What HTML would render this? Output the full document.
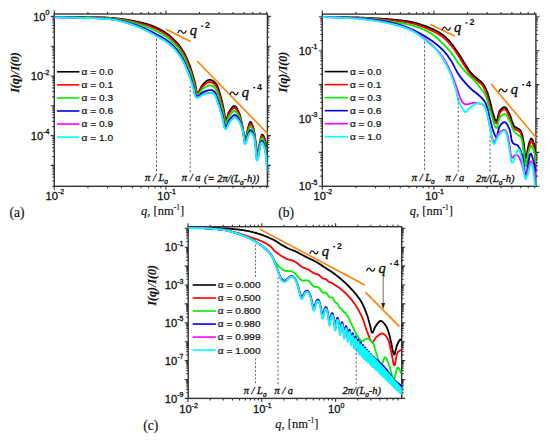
<!DOCTYPE html>
<html><head><meta charset="utf-8"><style>
html,body{margin:0;padding:0;background:#fff;}
svg{display:block;}
.s{font-family:'Liberation Sans',sans-serif;}
.r{font-family:'Liberation Serif',serif;fill:#111;stroke:#111;stroke-width:0.15px;}
.qq{stroke-width:0.4px}
.lg{stroke:#111;stroke-width:0.22px;fill:#111}
.tl{stroke:#111;stroke-width:0.3px}
</style></head><body>
<svg width="550" height="441" viewBox="0 0 550 441">
<rect width="550" height="441" fill="#fff"/>
<rect x="54.30" y="14.00" width="213.10" height="172.30" fill="none" stroke="#333" stroke-width="1.4"/>
<path d="M54.30,186.30v3.5 M54.30,14.00v-3.5 M87.89,186.30v2.0 M87.89,14.00v-2.0 M107.55,186.30v2.0 M107.55,14.00v-2.0 M121.49,186.30v2.0 M121.49,14.00v-2.0 M132.31,186.30v2.0 M132.31,14.00v-2.0 M141.14,186.30v2.0 M141.14,14.00v-2.0 M148.61,186.30v2.0 M148.61,14.00v-2.0 M155.08,186.30v2.0 M155.08,14.00v-2.0 M160.79,186.30v2.0 M160.79,14.00v-2.0 M165.90,186.30v3.5 M165.90,14.00v-3.5 M199.49,186.30v2.0 M199.49,14.00v-2.0 M219.15,186.30v2.0 M219.15,14.00v-2.0 M233.09,186.30v2.0 M233.09,14.00v-2.0 M243.91,186.30v2.0 M243.91,14.00v-2.0 M252.74,186.30v2.0 M252.74,14.00v-2.0 M260.21,186.30v2.0 M260.21,14.00v-2.0 M266.68,186.30v2.0 M266.68,14.00v-2.0 M54.30,186.23h-2.0 M267.40,186.23h2.0 M54.30,180.98h-2.0 M267.40,180.98h2.0 M54.30,177.26h-2.0 M267.40,177.26h2.0 M54.30,174.37h-2.0 M267.40,174.37h2.0 M54.30,172.01h-2.0 M267.40,172.01h2.0 M54.30,170.02h-2.0 M267.40,170.02h2.0 M54.30,168.29h-2.0 M267.40,168.29h2.0 M54.30,166.76h-2.0 M267.40,166.76h2.0 M54.30,165.40h-3.5 M267.40,165.40h3.5 M54.30,156.43h-2.0 M267.40,156.43h2.0 M54.30,151.18h-2.0 M267.40,151.18h2.0 M54.30,147.46h-2.0 M267.40,147.46h2.0 M54.30,144.57h-2.0 M267.40,144.57h2.0 M54.30,142.21h-2.0 M267.40,142.21h2.0 M54.30,140.22h-2.0 M267.40,140.22h2.0 M54.30,138.49h-2.0 M267.40,138.49h2.0 M54.30,136.96h-2.0 M267.40,136.96h2.0 M54.30,135.60h-3.5 M267.40,135.60h3.5 M54.30,126.63h-2.0 M267.40,126.63h2.0 M54.30,121.38h-2.0 M267.40,121.38h2.0 M54.30,117.66h-2.0 M267.40,117.66h2.0 M54.30,114.77h-2.0 M267.40,114.77h2.0 M54.30,112.41h-2.0 M267.40,112.41h2.0 M54.30,110.42h-2.0 M267.40,110.42h2.0 M54.30,108.69h-2.0 M267.40,108.69h2.0 M54.30,107.16h-2.0 M267.40,107.16h2.0 M54.30,105.80h-3.5 M267.40,105.80h3.5 M54.30,96.83h-2.0 M267.40,96.83h2.0 M54.30,91.58h-2.0 M267.40,91.58h2.0 M54.30,87.86h-2.0 M267.40,87.86h2.0 M54.30,84.97h-2.0 M267.40,84.97h2.0 M54.30,82.61h-2.0 M267.40,82.61h2.0 M54.30,80.62h-2.0 M267.40,80.62h2.0 M54.30,78.89h-2.0 M267.40,78.89h2.0 M54.30,77.36h-2.0 M267.40,77.36h2.0 M54.30,76.00h-3.5 M267.40,76.00h3.5 M54.30,67.03h-2.0 M267.40,67.03h2.0 M54.30,61.78h-2.0 M267.40,61.78h2.0 M54.30,58.06h-2.0 M267.40,58.06h2.0 M54.30,55.17h-2.0 M267.40,55.17h2.0 M54.30,52.81h-2.0 M267.40,52.81h2.0 M54.30,50.82h-2.0 M267.40,50.82h2.0 M54.30,49.09h-2.0 M267.40,49.09h2.0 M54.30,47.56h-2.0 M267.40,47.56h2.0 M54.30,46.20h-3.5 M267.40,46.20h3.5 M54.30,37.23h-2.0 M267.40,37.23h2.0 M54.30,31.98h-2.0 M267.40,31.98h2.0 M54.30,28.26h-2.0 M267.40,28.26h2.0 M54.30,25.37h-2.0 M267.40,25.37h2.0 M54.30,23.01h-2.0 M267.40,23.01h2.0 M54.30,21.02h-2.0 M267.40,21.02h2.0 M54.30,19.29h-2.0 M267.40,19.29h2.0 M54.30,17.76h-2.0 M267.40,17.76h2.0 M54.30,16.40h-3.5 M267.40,16.40h3.5" stroke="#333" stroke-width="1.1" fill="none"/>
<rect x="322.30" y="14.10" width="213.60" height="172.20" fill="none" stroke="#333" stroke-width="1.4"/>
<path d="M322.30,186.30v3.5 M322.30,14.10v-3.5 M355.89,186.30v2.0 M355.89,14.10v-2.0 M375.55,186.30v2.0 M375.55,14.10v-2.0 M389.49,186.30v2.0 M389.49,14.10v-2.0 M400.31,186.30v2.0 M400.31,14.10v-2.0 M409.14,186.30v2.0 M409.14,14.10v-2.0 M416.61,186.30v2.0 M416.61,14.10v-2.0 M423.08,186.30v2.0 M423.08,14.10v-2.0 M428.79,186.30v2.0 M428.79,14.10v-2.0 M433.90,186.30v3.5 M433.90,14.10v-3.5 M467.49,186.30v2.0 M467.49,14.10v-2.0 M487.15,186.30v2.0 M487.15,14.10v-2.0 M501.09,186.30v2.0 M501.09,14.10v-2.0 M511.91,186.30v2.0 M511.91,14.10v-2.0 M520.74,186.30v2.0 M520.74,14.10v-2.0 M528.21,186.30v2.0 M528.21,14.10v-2.0 M534.68,186.30v2.0 M534.68,14.10v-2.0 M322.30,186.30h-3.5 M535.90,186.30h3.5 M322.30,176.10h-2.0 M535.90,176.10h2.0 M322.30,170.13h-2.0 M535.90,170.13h2.0 M322.30,165.89h-2.0 M535.90,165.89h2.0 M322.30,162.60h-2.0 M535.90,162.60h2.0 M322.30,159.92h-2.0 M535.90,159.92h2.0 M322.30,157.65h-2.0 M535.90,157.65h2.0 M322.30,155.69h-2.0 M535.90,155.69h2.0 M322.30,153.95h-2.0 M535.90,153.95h2.0 M322.30,152.40h-3.5 M535.90,152.40h3.5 M322.30,142.20h-2.0 M535.90,142.20h2.0 M322.30,136.23h-2.0 M535.90,136.23h2.0 M322.30,131.99h-2.0 M535.90,131.99h2.0 M322.30,128.70h-2.0 M535.90,128.70h2.0 M322.30,126.02h-2.0 M535.90,126.02h2.0 M322.30,123.75h-2.0 M535.90,123.75h2.0 M322.30,121.79h-2.0 M535.90,121.79h2.0 M322.30,120.05h-2.0 M535.90,120.05h2.0 M322.30,118.50h-3.5 M535.90,118.50h3.5 M322.30,108.30h-2.0 M535.90,108.30h2.0 M322.30,102.33h-2.0 M535.90,102.33h2.0 M322.30,98.09h-2.0 M535.90,98.09h2.0 M322.30,94.80h-2.0 M535.90,94.80h2.0 M322.30,92.12h-2.0 M535.90,92.12h2.0 M322.30,89.85h-2.0 M535.90,89.85h2.0 M322.30,87.89h-2.0 M535.90,87.89h2.0 M322.30,86.15h-2.0 M535.90,86.15h2.0 M322.30,84.60h-3.5 M535.90,84.60h3.5 M322.30,74.40h-2.0 M535.90,74.40h2.0 M322.30,68.43h-2.0 M535.90,68.43h2.0 M322.30,64.19h-2.0 M535.90,64.19h2.0 M322.30,60.90h-2.0 M535.90,60.90h2.0 M322.30,58.22h-2.0 M535.90,58.22h2.0 M322.30,55.95h-2.0 M535.90,55.95h2.0 M322.30,53.99h-2.0 M535.90,53.99h2.0 M322.30,52.25h-2.0 M535.90,52.25h2.0 M322.30,50.70h-3.5 M535.90,50.70h3.5 M322.30,40.50h-2.0 M535.90,40.50h2.0 M322.30,34.53h-2.0 M535.90,34.53h2.0 M322.30,30.29h-2.0 M535.90,30.29h2.0 M322.30,27.00h-2.0 M535.90,27.00h2.0 M322.30,24.32h-2.0 M535.90,24.32h2.0 M322.30,22.05h-2.0 M535.90,22.05h2.0 M322.30,20.09h-2.0 M535.90,20.09h2.0 M322.30,18.35h-2.0 M535.90,18.35h2.0 M322.30,16.80h-3.5 M535.90,16.80h3.5" stroke="#333" stroke-width="1.1" fill="none"/>
<rect x="188.20" y="226.70" width="213.50" height="171.70" fill="none" stroke="#333" stroke-width="1.4"/>
<path d="M188.00,398.40v3.5 M188.00,226.70v-3.5 M210.22,398.40v2.0 M210.22,226.70v-2.0 M223.21,398.40v2.0 M223.21,226.70v-2.0 M232.43,398.40v2.0 M232.43,226.70v-2.0 M239.58,398.40v2.0 M239.58,226.70v-2.0 M245.43,398.40v2.0 M245.43,226.70v-2.0 M250.37,398.40v2.0 M250.37,226.70v-2.0 M254.65,398.40v2.0 M254.65,226.70v-2.0 M258.42,398.40v2.0 M258.42,226.70v-2.0 M261.80,398.40v3.5 M261.80,226.70v-3.5 M284.02,398.40v2.0 M284.02,226.70v-2.0 M297.01,398.40v2.0 M297.01,226.70v-2.0 M306.23,398.40v2.0 M306.23,226.70v-2.0 M313.38,398.40v2.0 M313.38,226.70v-2.0 M319.23,398.40v2.0 M319.23,226.70v-2.0 M324.17,398.40v2.0 M324.17,226.70v-2.0 M328.45,398.40v2.0 M328.45,226.70v-2.0 M332.22,398.40v2.0 M332.22,226.70v-2.0 M335.60,398.40v3.5 M335.60,226.70v-3.5 M357.82,398.40v2.0 M357.82,226.70v-2.0 M370.81,398.40v2.0 M370.81,226.70v-2.0 M380.03,398.40v2.0 M380.03,226.70v-2.0 M387.18,398.40v2.0 M387.18,226.70v-2.0 M393.03,398.40v2.0 M393.03,226.70v-2.0 M397.97,398.40v2.0 M397.97,226.70v-2.0 M188.20,398.40h-3.5 M401.70,398.40h3.5 M188.20,392.71h-2.0 M401.70,392.71h2.0 M188.20,389.38h-2.0 M401.70,389.38h2.0 M188.20,387.02h-2.0 M401.70,387.02h2.0 M188.20,385.19h-2.0 M401.70,385.19h2.0 M188.20,383.69h-2.0 M401.70,383.69h2.0 M188.20,382.43h-2.0 M401.70,382.43h2.0 M188.20,381.33h-2.0 M401.70,381.33h2.0 M188.20,380.36h-2.0 M401.70,380.36h2.0 M188.20,379.50h-3.5 M401.70,379.50h3.5 M188.20,373.81h-2.0 M401.70,373.81h2.0 M188.20,370.48h-2.0 M401.70,370.48h2.0 M188.20,368.12h-2.0 M401.70,368.12h2.0 M188.20,366.29h-2.0 M401.70,366.29h2.0 M188.20,364.79h-2.0 M401.70,364.79h2.0 M188.20,363.53h-2.0 M401.70,363.53h2.0 M188.20,362.43h-2.0 M401.70,362.43h2.0 M188.20,361.46h-2.0 M401.70,361.46h2.0 M188.20,360.60h-3.5 M401.70,360.60h3.5 M188.20,354.91h-2.0 M401.70,354.91h2.0 M188.20,351.58h-2.0 M401.70,351.58h2.0 M188.20,349.22h-2.0 M401.70,349.22h2.0 M188.20,347.39h-2.0 M401.70,347.39h2.0 M188.20,345.89h-2.0 M401.70,345.89h2.0 M188.20,344.63h-2.0 M401.70,344.63h2.0 M188.20,343.53h-2.0 M401.70,343.53h2.0 M188.20,342.56h-2.0 M401.70,342.56h2.0 M188.20,341.70h-3.5 M401.70,341.70h3.5 M188.20,336.01h-2.0 M401.70,336.01h2.0 M188.20,332.68h-2.0 M401.70,332.68h2.0 M188.20,330.32h-2.0 M401.70,330.32h2.0 M188.20,328.49h-2.0 M401.70,328.49h2.0 M188.20,326.99h-2.0 M401.70,326.99h2.0 M188.20,325.73h-2.0 M401.70,325.73h2.0 M188.20,324.63h-2.0 M401.70,324.63h2.0 M188.20,323.66h-2.0 M401.70,323.66h2.0 M188.20,322.80h-3.5 M401.70,322.80h3.5 M188.20,317.11h-2.0 M401.70,317.11h2.0 M188.20,313.78h-2.0 M401.70,313.78h2.0 M188.20,311.42h-2.0 M401.70,311.42h2.0 M188.20,309.59h-2.0 M401.70,309.59h2.0 M188.20,308.09h-2.0 M401.70,308.09h2.0 M188.20,306.83h-2.0 M401.70,306.83h2.0 M188.20,305.73h-2.0 M401.70,305.73h2.0 M188.20,304.76h-2.0 M401.70,304.76h2.0 M188.20,303.90h-3.5 M401.70,303.90h3.5 M188.20,298.21h-2.0 M401.70,298.21h2.0 M188.20,294.88h-2.0 M401.70,294.88h2.0 M188.20,292.52h-2.0 M401.70,292.52h2.0 M188.20,290.69h-2.0 M401.70,290.69h2.0 M188.20,289.19h-2.0 M401.70,289.19h2.0 M188.20,287.93h-2.0 M401.70,287.93h2.0 M188.20,286.83h-2.0 M401.70,286.83h2.0 M188.20,285.86h-2.0 M401.70,285.86h2.0 M188.20,285.00h-3.5 M401.70,285.00h3.5 M188.20,279.31h-2.0 M401.70,279.31h2.0 M188.20,275.98h-2.0 M401.70,275.98h2.0 M188.20,273.62h-2.0 M401.70,273.62h2.0 M188.20,271.79h-2.0 M401.70,271.79h2.0 M188.20,270.29h-2.0 M401.70,270.29h2.0 M188.20,269.03h-2.0 M401.70,269.03h2.0 M188.20,267.93h-2.0 M401.70,267.93h2.0 M188.20,266.96h-2.0 M401.70,266.96h2.0 M188.20,266.10h-3.5 M401.70,266.10h3.5 M188.20,260.41h-2.0 M401.70,260.41h2.0 M188.20,257.08h-2.0 M401.70,257.08h2.0 M188.20,254.72h-2.0 M401.70,254.72h2.0 M188.20,252.89h-2.0 M401.70,252.89h2.0 M188.20,251.39h-2.0 M401.70,251.39h2.0 M188.20,250.13h-2.0 M401.70,250.13h2.0 M188.20,249.03h-2.0 M401.70,249.03h2.0 M188.20,248.06h-2.0 M401.70,248.06h2.0 M188.20,247.20h-3.5 M401.70,247.20h3.5 M188.20,241.51h-2.0 M401.70,241.51h2.0 M188.20,238.18h-2.0 M401.70,238.18h2.0 M188.20,235.82h-2.0 M401.70,235.82h2.0 M188.20,233.99h-2.0 M401.70,233.99h2.0 M188.20,232.49h-2.0 M401.70,232.49h2.0 M188.20,231.23h-2.0 M401.70,231.23h2.0 M188.20,230.13h-2.0 M401.70,230.13h2.0 M188.20,229.16h-2.0 M401.70,229.16h2.0 M188.20,228.30h-3.5 M401.70,228.30h3.5" stroke="#333" stroke-width="1.1" fill="none"/>
<text x="49.50" y="20.50" class="s tl" font-size="11.2" text-anchor="end" fill="#111">10<tspan font-size="7" dy="-5.5">0</tspan></text>
<text x="49.50" y="80.10" class="s tl" font-size="11.2" text-anchor="end" fill="#111">10<tspan font-size="7" dy="-5.5">-2</tspan></text>
<text x="49.50" y="139.70" class="s tl" font-size="11.2" text-anchor="end" fill="#111">10<tspan font-size="7" dy="-5.5">-4</tspan></text>
<text x="317.50" y="54.80" class="s tl" font-size="11.2" text-anchor="end" fill="#111">10<tspan font-size="7" dy="-5.5">-1</tspan></text>
<text x="317.50" y="122.60" class="s tl" font-size="11.2" text-anchor="end" fill="#111">10<tspan font-size="7" dy="-5.5">-3</tspan></text>
<text x="317.50" y="190.40" class="s tl" font-size="11.2" text-anchor="end" fill="#111">10<tspan font-size="7" dy="-5.5">-5</tspan></text>
<text x="183.50" y="251.30" class="s tl" font-size="11.2" text-anchor="end" fill="#111">10<tspan font-size="7" dy="-5.5">-1</tspan></text>
<text x="183.50" y="289.10" class="s tl" font-size="11.2" text-anchor="end" fill="#111">10<tspan font-size="7" dy="-5.5">-3</tspan></text>
<text x="183.50" y="326.90" class="s tl" font-size="11.2" text-anchor="end" fill="#111">10<tspan font-size="7" dy="-5.5">-5</tspan></text>
<text x="183.50" y="364.70" class="s tl" font-size="11.2" text-anchor="end" fill="#111">10<tspan font-size="7" dy="-5.5">-7</tspan></text>
<text x="183.50" y="402.50" class="s tl" font-size="11.2" text-anchor="end" fill="#111">10<tspan font-size="7" dy="-5.5">-9</tspan></text>
<text x="54.90" y="199.80" class="s tl" font-size="11.2" text-anchor="middle" fill="#111">10<tspan font-size="7" dy="-5.5">-2</tspan></text>
<text x="322.90" y="199.80" class="s tl" font-size="11.2" text-anchor="middle" fill="#111">10<tspan font-size="7" dy="-5.5">-2</tspan></text>
<text x="166.50" y="199.80" class="s tl" font-size="11.2" text-anchor="middle" fill="#111">10<tspan font-size="7" dy="-5.5">-1</tspan></text>
<text x="434.50" y="199.80" class="s tl" font-size="11.2" text-anchor="middle" fill="#111">10<tspan font-size="7" dy="-5.5">-1</tspan></text>
<text x="188.60" y="413.40" class="s tl" font-size="11.2" text-anchor="middle" fill="#111">10<tspan font-size="7" dy="-5.5">-2</tspan></text>
<text x="262.40" y="413.40" class="s tl" font-size="11.2" text-anchor="middle" fill="#111">10<tspan font-size="7" dy="-5.5">-1</tspan></text>
<text x="336.20" y="413.40" class="s tl" font-size="11.2" text-anchor="middle" fill="#111">10<tspan font-size="7" dy="-5.5">0</tspan></text>
<clipPath id="clipa"><rect x="54.3" y="14.0" width="213.09999999999997" height="172.3"/></clipPath>
<clipPath id="clipb"><rect x="322.3" y="14.1" width="213.59999999999997" height="172.20000000000002"/></clipPath>
<clipPath id="clipc"><rect x="188.2" y="226.7" width="213.5" height="171.7"/></clipPath>
<g clip-path="url(#clipa)" fill="none" stroke-width="1.8" stroke-linejoin="round">
<path d="M54.3,16.8l.4,0 .3,0 .4,0 .3,0 .4,0 .3,0 .4,0 .3,0 .4,0 .4,0 .3,0 .4,0 .3,0 .4,0 .3,0 .4,0 .3,0 .4,0 .4,0 .3,.1 .4,0 .3,0 .4,0 .3,0 .4,0 .3,0 .4,0 .4,0 .3,0 .4,0 .3,0 .4,0 .3,0 .4,0 .4,0 .3,0 .4,0 .3,0 .4,0 .3,0 .4,0 .3,0 .4,0 .4,0 .3,0 .4,0 .3,0 .4,0 .3,0 .4,0 .3,0 .4,0 .4,0 .3,0 .4,0 .3,0 .4,0 .3,0 .4,.1 .3,0 .4,0 .4,0 .3,0 .4,0 .3,0 .4,0 .3,0 .4,0 .3,0 .4,0 .4,0 .3,0 .4,0 .3,0 .4,0 .3,0 .4,0 .3,0 .4,0 .4,0 .3,0 .4,0 .3,0 .4,0 .3,0 .4,0 .4,0 .3,.1 .4,0 .3,0 .4,0 .3,0 .4,0 .3,0 .4,0 .4,0 .3,0 .4,0 .3,0 .4,0 .3,0 .4,0 .3,0 .4,0 .4,0 .3,0 .4,0 .3,0 .4,0 .3,0 .4,0 .3,0 .4,.1 .4,0 .3,0 .4,0 .3,0 .4,0 .3,0 .4,0 .3,0 .4,0 .4,0 .3,0 .4,.1 .3,0 .4,0 .3,0 .4,0 .3,0 .4,0 .4,.1 .3,0 .4,0 .3,0 .4,0 .3,0 .4,0 .4,.1 .3,0 .4,0 .3,0 .4,0 .3,0 .4,.1 .3,0 .4,0 .4,0 .3,0 .4,.1 .3,0 .4,0 .3,0 .4,.1 .3,0 .4,0 .4,0 .3,.1 .4,0 .3,0 .4,0 .3,.1 .4,0 .3,0 .4,.1 .4,0 .3,0 .4,.1 .3,0 .4,0 .3,.1 .4,0 .3,0 .4,.1 .4,0 .3,0 .4,.1 .3,0 .4,.1 .3,0 .4,0 .3,.1 .4,0 .4,.1 .3,0 .4,0 .3,.1 .4,0 .3,.1 .4,0 .4,.1 .3,0 .4,.1 .3,0 .4,.1 .3,0 .4,.1 .3,0 .4,.1 .4,0 .3,.1 .4,0 .3,.1 .4,0 .3,.1 .4,0 .3,.1 .4,.1 .4,0 .3,.1 .4,0 .3,.1 .4,.1 .3,0 .4,.1 .3,.1 .4,0 .4,.1 .3,.1 .4,0 .3,.1 .4,.1 .3,.1 .4,0 .3,.1 .4,.1 .4,0 .3,.1 .4,.1 .3,.1 .4,.1 .3,0 .4,.1 .3,.1 .4,.1 .4,0 .3,.1 .4,.1 .3,.1 .4,.1 .3,0 .4,.1 .3,.1 .4,.1 .4,.1 .3,.1 .4,.1 .3,0 .4,.1 .3,.1 .4,.1 .4,.1 .3,.1 .4,.1 .3,.1 .4,0 .3,.1 .4,.1 .3,.1 .4,.1 .4,.1 .3,.1 .4,.1 .3,.1 .4,.1 .3,.1 .4,.2 .3,.1 .4,.1 .4,.1 .3,.2 .4,.1 .3,.1 .4,.2 .3,.1 .4,.1 .3,.2 .4,.1 .4,.2 .3,.1 .4,.2 .3,.1 .4,.2 .3,.2 .4,.1 .3,.2 .4,.1 .4,.2 .3,.2 .4,.1 .3,.2 .4,.2 .3,.2 .4,.1 .3,.2 .4,.2 .4,.2 .3,.2 .4,.2 .3,.2 .4,.2 .3,.2 .4,.2 .4,.2 .3,.2 .4,.2 .3,.2 .4,.2 .3,.2 .4,.3 .3,.2 .4,.2 .4,.3 .3,.2 .4,.2 .3,.3 .4,.2 .3,.3 .4,.3 .3,.2 .4,.3 .4,.2 .3,.3 .4,.3 .3,.3 .4,.3 .3,.3 .4,.3 .3,.4 .4,.3 .4,.4 .3,.3 .4,.4 .3,.3 .4,.4 .3,.3 .4,.4 .3,.3 .4,.4 .4,.3 .3,.4 .4,.4 .3,.3 .4,.4 .3,.4 .4,.3 .3,.4 .4,.4 .4,.5 .3,.4 .4,.5 .3,.4 .4,.5 .3,.5 .4,.5 .4,.6 .3,.5 .4,.6 .3,.5 .4,.6 .3,.6 .4,.5 .3,.6 .4,.6 .4,.6 .3,.6 .4,.7 .3,.7 .4,.7 .3,.7 .4,.8 .3,.8 .4,.8 .4,.9 .3,.9 .4,.8 .3,.9 .4,.9 .3,.8 .4,.8 .3,.9 .4,.9 .4,1.1 .3,1 .4,1.1 .3,1.2 .4,1.1 .3,1.2 .4,1.2 .3,1.3 .4,1.2 .4,1.2 .3,1.3 .4,1.2 .3,1.4 .4,1.6 .3,1.9 .4,1.9 .3,1.8 .4,1.4 .4,1.1 .3,.6 .4,.3 .3,0 .4-.2 .3-.5 .4-.6 .3-.7 .4-.7 .4-.8 .3-.8 .4-.8 .3-.7 .4-.6 .3-.6 .4-.5 .4-.5 .3-.3 .4-.4 .3-.4 .4-.3 .3-.4 .4-.3 .3-.4 .4-.3 .4-.3 .3-.3 .4-.2 .3-.3 .4-.2 .3-.2 .4-.2 .3-.1 .4-.1 .4-.1 .3-.1 .4,0 .3,0 .4,.1 .3,.1 .4,.1 .3,.1 .4,.2 .4,.2 .3,.2 .4,.2 .3,.3 .4,.3 .3,.2 .4,.3 .3,.4 .4,.3 .4,.4 .3,.4 .4,.4 .3,.4 .4,.6 .3,.6 .4,.7 .3,.9 .4,1.1 .4,1.1 .3,1.2 .4,1.2 .3,1.1 .4,1.2 .3,1.2 .4,1.3 .4,1.3 .3,1.5 .4,1.4 .3,1.5 .4,1.5 .3,1.5 .4,1.6 .3,1.6 .4,1.9 .4,2.4 .3,2.4 .4,2.1 .3,1.6 .4,.7 .3,.1 .4-.4 .3-1 .4-1.2 .4-1.3 .3-1.2 .4-1.1 .3-.9 .4-.7 .3-.5 .4-.6 .3-.6 .4-.5 .4-.5 .3-.5 .4-.5 .3-.4 .4-.4 .3-.4 .4-.3 .3-.3 .4-.2 .4-.1 .3-.1 .4,.1 .3,.1 .4,.3 .3,.3 .4,.4 .3,.5 .4,.6 .4,.6 .3,.7 .4,.7 .3,.7 .4,.8 .3,.8 .4,.8 .4,.9 .3,1.1 .4,1.1 .3,1.4 .4,1.5 .3,1.6 .4,1.8 .3,1.8 .4,1.7 .4,1.8 .3,2.3 .4,2.6 .3,2.5 .4,2.2 .3,1.3 .4,.5 .3-.4 .4-.9 .4-1.4 .3-1.6 .4-1.7 .3-1.7 .4-1.6 .3-1.4 .4-1.2 .3-1.3 .4-1.3 .4-1.1 .3-1 .4-.7 .3-.3 .4,.1 .3,.4 .4,.5 .3,.7 .4,.8 .4,1 .3,1 .4,1 .3,1.2 .4,1.3 .3,1.8 .4,2.1 .3,2.5 .4,2.9 .4,3 .3,2.9 .4,2.5 .3,3.1 .4,3 .3,1.6 .4-.1 .4-1.5 .3-2.4 .4-2.7 .3-2.6 .4-2.2 .3-1.7 .4-1.7 .3-1.7 .4-1.6 .4-1.3 .3-.8 .4-.4 .3,0 .4,.3 .3,.4 .4,.7 .3,.7 .4,.9 .4,1 .3,1 .4,1.2 .3,1.5 .4,2 .3,3 .4,4.6 .3,5.6 .4,4.5" stroke="#000000"/>
<path d="M54.3,16.9l.4,0 .3,0 .4,0 .3,0 .4,0 .3,0 .4,0 .3,0 .4,0 .4,0 .3,0 .4,0 .3,0 .4,0 .3,0 .4,0 .3,0 .4,0 .4,.1 .3,0 .4,0 .3,0 .4,0 .3,0 .4,0 .3,0 .4,0 .4,0 .3,0 .4,0 .3,0 .4,0 .3,0 .4,0 .4,0 .3,0 .4,0 .3,0 .4,0 .3,0 .4,0 .3,0 .4,0 .4,0 .3,0 .4,0 .3,0 .4,0 .3,0 .4,.1 .3,0 .4,0 .4,0 .3,0 .4,0 .3,0 .4,0 .3,0 .4,0 .3,0 .4,0 .4,0 .3,0 .4,0 .3,0 .4,0 .3,0 .4,0 .3,0 .4,0 .4,0 .3,0 .4,0 .3,0 .4,.1 .3,0 .4,0 .3,0 .4,0 .4,0 .3,0 .4,0 .3,0 .4,0 .3,0 .4,0 .4,0 .3,0 .4,0 .3,0 .4,0 .3,0 .4,0 .3,0 .4,0 .4,0 .3,0 .4,0 .3,.1 .4,0 .3,0 .4,0 .3,0 .4,0 .4,0 .3,0 .4,0 .3,0 .4,0 .3,0 .4,0 .3,0 .4,0 .4,0 .3,.1 .4,0 .3,0 .4,0 .3,0 .4,0 .3,0 .4,0 .4,0 .3,0 .4,.1 .3,0 .4,0 .3,0 .4,0 .3,0 .4,0 .4,.1 .3,0 .4,0 .3,0 .4,0 .3,0 .4,.1 .4,0 .3,0 .4,0 .3,0 .4,0 .3,.1 .4,0 .3,0 .4,0 .4,.1 .3,0 .4,0 .3,0 .4,0 .3,.1 .4,0 .3,0 .4,.1 .4,0 .3,0 .4,0 .3,.1 .4,0 .3,0 .4,.1 .3,0 .4,0 .4,.1 .3,0 .4,0 .3,.1 .4,0 .3,.1 .4,0 .3,0 .4,.1 .4,0 .3,.1 .4,0 .3,.1 .4,0 .3,0 .4,.1 .3,0 .4,.1 .4,0 .3,.1 .4,0 .3,.1 .4,0 .3,.1 .4,0 .4,.1 .3,.1 .4,0 .3,.1 .4,0 .3,.1 .4,0 .3,.1 .4,.1 .4,0 .3,.1 .4,0 .3,.1 .4,.1 .3,0 .4,.1 .3,.1 .4,0 .4,.1 .3,.1 .4,0 .3,.1 .4,.1 .3,.1 .4,0 .3,.1 .4,.1 .4,.1 .3,.1 .4,0 .3,.1 .4,.1 .3,.1 .4,.1 .3,0 .4,.1 .4,.1 .3,.1 .4,.1 .3,.1 .4,.1 .3,.1 .4,0 .3,.1 .4,.1 .4,.1 .3,.1 .4,.1 .3,.1 .4,.1 .3,.1 .4,.1 .3,.1 .4,.1 .4,.1 .3,.1 .4,.1 .3,.1 .4,.1 .3,.1 .4,.1 .4,.1 .3,.1 .4,.1 .3,.1 .4,.1 .3,.1 .4,.1 .3,.1 .4,.1 .4,.1 .3,.1 .4,.1 .3,.1 .4,.2 .3,.1 .4,.1 .3,.2 .4,.1 .4,.1 .3,.2 .4,.1 .3,.2 .4,.1 .3,.2 .4,.1 .3,.2 .4,.1 .4,.2 .3,.1 .4,.2 .3,.2 .4,.1 .3,.2 .4,.2 .3,.1 .4,.2 .4,.2 .3,.1 .4,.2 .3,.2 .4,.2 .3,.1 .4,.2 .3,.2 .4,.2 .4,.2 .3,.2 .4,.2 .3,.2 .4,.1 .3,.2 .4,.3 .4,.2 .3,.2 .4,.2 .3,.2 .4,.2 .3,.2 .4,.3 .3,.2 .4,.2 .4,.3 .3,.2 .4,.2 .3,.3 .4,.2 .3,.3 .4,.2 .3,.3 .4,.3 .4,.2 .3,.3 .4,.3 .3,.3 .4,.3 .3,.3 .4,.3 .3,.4 .4,.3 .4,.3 .3,.4 .4,.3 .3,.4 .4,.4 .3,.3 .4,.4 .3,.3 .4,.4 .4,.4 .3,.3 .4,.4 .3,.4 .4,.3 .3,.4 .4,.4 .3,.4 .4,.4 .4,.5 .3,.4 .4,.5 .3,.5 .4,.5 .3,.5 .4,.5 .4,.5 .3,.6 .4,.5 .3,.6 .4,.6 .3,.6 .4,.5 .3,.6 .4,.7 .4,.6 .3,.6 .4,.7 .3,.7 .4,.7 .3,.8 .4,.7 .3,.9 .4,.8 .4,.9 .3,.9 .4,.9 .3,.9 .4,.8 .3,.9 .4,.8 .3,.9 .4,1 .4,1 .3,1.1 .4,1.1 .3,1.1 .4,1.2 .3,1.2 .4,1.1 .3,1.2 .4,1.3 .4,1.2 .3,1.4 .4,1.3 .3,1.4 .4,1.5 .3,1.7 .4,1.7 .3,1.5 .4,1.2 .4,.9 .3,.5 .4,.3 .3-.1 .4-.2 .3-.4 .4-.5 .3-.6 .4-.7 .4-.7 .3-.7 .4-.7 .3-.6 .4-.6 .3-.5 .4-.4 .4-.4 .3-.4 .4-.3 .3-.3 .4-.4 .3-.3 .4-.3 .3-.3 .4-.2 .4-.3 .3-.2 .4-.3 .3-.2 .4-.2 .3-.2 .4-.1 .3-.2 .4-.1 .4,0 .3-.1 .4,0 .3,0 .4,.1 .3,0 .4,.1 .3,.2 .4,.1 .4,.2 .3,.1 .4,.2 .3,.3 .4,.2 .3,.3 .4,.3 .3,.4 .4,.4 .4,.4 .3,.4 .4,.5 .3,.6 .4,.6 .3,.7 .4,.8 .3,1 .4,1 .4,1.1 .3,1.2 .4,1.2 .3,1.1 .4,1.2 .3,1.2 .4,1.3 .4,1.3 .3,1.4 .4,1.4 .3,1.5 .4,1.4 .3,1.6 .4,1.6 .3,1.6 .4,1.9 .4,2.2 .3,2.2 .4,1.9 .3,1.3 .4,.6 .3,.1 .4-.5 .3-.9 .4-1.1 .4-1.2 .3-1.1 .4-1 .3-.9 .4-.7 .3-.6 .4-.6 .3-.5 .4-.5 .4-.5 .3-.5 .4-.5 .3-.4 .4-.4 .3-.4 .4-.3 .3-.3 .4-.2 .4-.1 .3-.1 .4,0 .3,.1 .4,.3 .3,.3 .4,.4 .3,.4 .4,.5 .4,.6 .3,.6 .4,.7 .3,.7 .4,.7 .3,.8 .4,.8 .4,.8 .3,1 .4,1.1 .3,1.2 .4,1.4 .3,1.6 .4,1.6 .3,1.7 .4,1.7 .4,1.7 .3,2.2 .4,2.4 .3,2.7 .4,2.4 .3,1.4 .4,.5 .3-.4 .4-.9 .4-1.2 .3-1.5 .4-1.6 .3-1.6 .4-1.5 .3-1.3 .4-1.2 .3-1.2 .4-1.2 .4-1.1 .3-.9 .4-.7 .3-.2 .4,0 .3,.3 .4,.5 .3,.7 .4,.7 .4,.9 .3,.9 .4,1 .3,1.1 .4,1.2 .3,1.6 .4,2 .3,2.4 .4,3 .4,3.2 .3,3.3 .4,2.8 .3,2.9 .4,2.5 .3,1.3 .4-.2 .4-1.6 .3-2.3 .4-2.5 .3-2.5 .4-2.2 .3-1.8 .4-1.7 .3-1.7 .4-1.4 .4-1.2 .3-.7 .4-.3 .3,0 .4,.3 .3,.6 .4,.6 .3,.8 .4,.9 .4,1 .3,1.1 .4,1.3 .3,1.6 .4,2.2 .3,3.2 .4,4.5 .3,5.3 .4,4.3" stroke="#ff0000"/>
<path d="M54.3,17l.4,0 .3,0 .4,0 .3,0 .4,0 .3,0 .4,0 .3,.1 .4,0 .4,0 .3,0 .4,0 .3,0 .4,0 .3,0 .4,0 .3,0 .4,0 .4,0 .3,0 .4,0 .3,0 .4,0 .3,0 .4,0 .3,0 .4,0 .4,0 .3,0 .4,.1 .3,0 .4,0 .3,0 .4,0 .4,0 .3,0 .4,0 .3,0 .4,0 .3,0 .4,0 .3,0 .4,0 .4,0 .3,0 .4,0 .3,0 .4,0 .3,0 .4,0 .3,0 .4,0 .4,.1 .3,0 .4,0 .3,0 .4,0 .3,0 .4,0 .3,0 .4,0 .4,0 .3,0 .4,0 .3,0 .4,0 .3,0 .4,0 .3,0 .4,0 .4,0 .3,0 .4,.1 .3,0 .4,0 .3,0 .4,0 .3,0 .4,0 .4,0 .3,0 .4,0 .3,0 .4,0 .3,0 .4,0 .4,0 .3,0 .4,0 .3,0 .4,0 .3,.1 .4,0 .3,0 .4,0 .4,0 .3,0 .4,0 .3,0 .4,0 .3,0 .4,0 .3,0 .4,0 .4,0 .3,0 .4,.1 .3,0 .4,0 .3,0 .4,0 .3,0 .4,0 .4,0 .3,0 .4,0 .3,0 .4,.1 .3,0 .4,0 .3,0 .4,0 .4,0 .3,0 .4,.1 .3,0 .4,0 .3,0 .4,0 .3,0 .4,0 .4,.1 .3,0 .4,0 .3,0 .4,0 .3,.1 .4,0 .4,0 .3,0 .4,0 .3,.1 .4,0 .3,0 .4,0 .3,0 .4,.1 .4,0 .3,0 .4,0 .3,.1 .4,0 .3,0 .4,0 .3,.1 .4,0 .4,0 .3,.1 .4,0 .3,0 .4,.1 .3,0 .4,.1 .3,0 .4,0 .4,.1 .3,0 .4,.1 .3,0 .4,.1 .3,0 .4,0 .3,.1 .4,0 .4,.1 .3,0 .4,.1 .3,.1 .4,0 .3,.1 .4,0 .3,.1 .4,0 .4,.1 .3,.1 .4,0 .3,.1 .4,0 .3,.1 .4,.1 .4,0 .3,.1 .4,.1 .3,0 .4,.1 .3,.1 .4,0 .3,.1 .4,.1 .4,.1 .3,0 .4,.1 .3,.1 .4,.1 .3,0 .4,.1 .3,.1 .4,.1 .4,.1 .3,0 .4,.1 .3,.1 .4,.1 .3,.1 .4,.1 .3,.1 .4,.1 .4,.1 .3,.1 .4,0 .3,.1 .4,.1 .3,.1 .4,.1 .3,.1 .4,.1 .4,.1 .3,.1 .4,.1 .3,.1 .4,.2 .3,.1 .4,.1 .3,.1 .4,.1 .4,.1 .3,.1 .4,.1 .3,.1 .4,.1 .3,.1 .4,.2 .3,.1 .4,.1 .4,.1 .3,.1 .4,.1 .3,.1 .4,.2 .3,.1 .4,.1 .4,.1 .3,.1 .4,.2 .3,.1 .4,.1 .3,.1 .4,.2 .3,.1 .4,.1 .4,.2 .3,.1 .4,.1 .3,.2 .4,.1 .3,.2 .4,.1 .3,.1 .4,.2 .4,.2 .3,.1 .4,.2 .3,.1 .4,.2 .3,.2 .4,.1 .3,.2 .4,.2 .4,.1 .3,.2 .4,.2 .3,.2 .4,.1 .3,.2 .4,.2 .3,.2 .4,.1 .4,.2 .3,.2 .4,.2 .3,.2 .4,.1 .3,.2 .4,.2 .3,.2 .4,.2 .4,.2 .3,.2 .4,.2 .3,.1 .4,.2 .3,.2 .4,.3 .4,.2 .3,.2 .4,.2 .3,.2 .4,.2 .3,.2 .4,.3 .3,.2 .4,.2 .4,.2 .3,.3 .4,.2 .3,.3 .4,.2 .3,.3 .4,.2 .3,.3 .4,.3 .4,.2 .3,.3 .4,.3 .3,.3 .4,.3 .3,.3 .4,.3 .3,.3 .4,.4 .4,.3 .3,.4 .4,.3 .3,.4 .4,.3 .3,.4 .4,.4 .3,.3 .4,.4 .4,.4 .3,.4 .4,.4 .3,.3 .4,.4 .3,.4 .4,.4 .3,.5 .4,.4 .4,.4 .3,.5 .4,.5 .3,.5 .4,.5 .3,.5 .4,.5 .4,.6 .3,.5 .4,.6 .3,.6 .4,.6 .3,.6 .4,.6 .3,.6 .4,.6 .4,.7 .3,.6 .4,.7 .3,.8 .4,.7 .3,.8 .4,.8 .3,.8 .4,.9 .4,.9 .3,.9 .4,.9 .3,.9 .4,.9 .3,.9 .4,.9 .3,.9 .4,1 .4,1 .3,1.1 .4,1.1 .3,1.1 .4,1.2 .3,1.1 .4,1.2 .3,1.2 .4,1.2 .4,1.3 .3,1.5 .4,1.4 .3,1.4 .4,1.4 .3,1.4 .4,1.3 .3,1.1 .4,.9 .4,.7 .3,.3 .4,.2 .3-.1 .4-.2 .3-.3 .4-.4 .3-.5 .4-.5 .4-.6 .3-.5 .4-.6 .3-.5 .4-.5 .3-.4 .4-.4 .4-.3 .3-.3 .4-.3 .3-.3 .4-.2 .3-.3 .4-.2 .3-.2 .4-.2 .4-.3 .3-.2 .4-.1 .3-.2 .4-.2 .3-.1 .4-.1 .3-.1 .4-.1 .4-.1 .3,0 .4-.1 .3,0 .4,.1 .3,0 .4,.1 .3,.1 .4,.1 .4,.1 .3,.2 .4,.1 .3,.2 .4,.3 .3,.3 .4,.3 .3,.4 .4,.4 .4,.5 .3,.6 .4,.6 .3,.7 .4,.8 .3,.8 .4,.9 .3,1 .4,1 .4,1.1 .3,1.1 .4,1.2 .3,1.1 .4,1.2 .3,1.3 .4,1.2 .4,1.3 .3,1.4 .4,1.3 .3,1.4 .4,1.5 .3,1.6 .4,1.6 .3,1.7 .4,1.8 .4,2 .3,1.8 .4,1.5 .3,1.1 .4,.4 .3,0 .4-.4 .3-.8 .4-1 .4-1.1 .3-1 .4-.9 .3-.9 .4-.7 .3-.6 .4-.6 .3-.5 .4-.5 .4-.5 .3-.5 .4-.4 .3-.4 .4-.4 .3-.4 .4-.3 .3-.3 .4-.2 .4-.2 .3-.1 .4,0 .3,.1 .4,.1 .3,.3 .4,.3 .3,.4 .4,.5 .4,.5 .3,.5 .4,.6 .3,.7 .4,.6 .3,.7 .4,.8 .4,.7 .3,.9 .4,1 .3,1.1 .4,1.3 .3,1.4 .4,1.5 .3,1.5 .4,1.6 .4,1.6 .3,2 .4,2.2 .3,2.9 .4,2.8 .3,1.4 .4,.5 .3-.3 .4-.8 .4-1.1 .3-1.3 .4-1.5 .3-1.4 .4-1.4 .3-1.2 .4-1.1 .3-1.1 .4-1.1 .4-1 .3-.8 .4-.6 .3-.3 .4,.1 .3,.2 .4,.4 .3,.6 .4,.6 .4,.8 .3,.8 .4,.8 .3,1 .4,1.1 .3,1.4 .4,1.8 .3,2.4 .4,2.9 .4,3.7 .3,3.8 .4,3.1 .3,2.7 .4,1.9 .3,.8 .4-.5 .4-1.6 .3-2.1 .4-2.4 .3-2.4 .4-2.1 .3-1.8 .4-1.7 .3-1.6 .4-1.4 .4-.9 .3-.6 .4-.2 .3,.1 .4,.4 .3,.6 .4,.7 .3,.9 .4,.9 .4,1 .3,1.2 .4,1.4 .3,1.9 .4,2.4 .3,3.4 .4,4.4 .3,4.9 .4,4" stroke="#00ee00"/>
<path d="M54.3,17.2l.4,0 .3,0 .4,0 .3,0 .4,0 .3,0 .4,0 .3,0 .4,0 .4,.1 .3,0 .4,0 .3,0 .4,0 .3,0 .4,0 .3,0 .4,0 .4,0 .3,0 .4,0 .3,0 .4,0 .3,0 .4,.1 .3,0 .4,0 .4,0 .3,0 .4,0 .3,0 .4,0 .3,0 .4,0 .4,0 .3,0 .4,0 .3,0 .4,0 .3,0 .4,0 .3,.1 .4,0 .4,0 .3,0 .4,0 .3,0 .4,0 .3,0 .4,0 .3,0 .4,0 .4,0 .3,0 .4,0 .3,0 .4,0 .3,0 .4,.1 .3,0 .4,0 .4,0 .3,0 .4,0 .3,0 .4,0 .3,0 .4,0 .3,0 .4,0 .4,0 .3,0 .4,0 .3,0 .4,.1 .3,0 .4,0 .3,0 .4,0 .4,0 .3,0 .4,0 .3,0 .4,0 .3,0 .4,0 .4,0 .3,0 .4,.1 .3,0 .4,0 .3,0 .4,0 .3,0 .4,0 .4,0 .3,0 .4,0 .3,0 .4,0 .3,.1 .4,0 .3,0 .4,0 .4,0 .3,0 .4,0 .3,0 .4,0 .3,0 .4,.1 .3,0 .4,0 .4,0 .3,0 .4,0 .3,0 .4,0 .3,.1 .4,0 .3,0 .4,0 .4,0 .3,0 .4,.1 .3,0 .4,0 .3,0 .4,0 .3,.1 .4,0 .4,0 .3,0 .4,0 .3,.1 .4,0 .3,0 .4,0 .4,0 .3,.1 .4,0 .3,0 .4,0 .3,.1 .4,0 .3,0 .4,0 .4,.1 .3,0 .4,0 .3,0 .4,.1 .3,0 .4,0 .3,.1 .4,0 .4,0 .3,.1 .4,0 .3,.1 .4,0 .3,0 .4,.1 .3,0 .4,.1 .4,0 .3,.1 .4,0 .3,.1 .4,.1 .3,0 .4,.1 .3,0 .4,.1 .4,.1 .3,0 .4,.1 .3,0 .4,.1 .3,.1 .4,.1 .3,0 .4,.1 .4,.1 .3,0 .4,.1 .3,.1 .4,.1 .3,.1 .4,0 .4,.1 .3,.1 .4,.1 .3,.1 .4,0 .3,.1 .4,.1 .3,.1 .4,.1 .4,.1 .3,.1 .4,.1 .3,.1 .4,.1 .3,.1 .4,.1 .3,.1 .4,.1 .4,.1 .3,.1 .4,.1 .3,.1 .4,.1 .3,.1 .4,.1 .3,.1 .4,.1 .4,.1 .3,.2 .4,.1 .3,.1 .4,.1 .3,.1 .4,.1 .3,.2 .4,.1 .4,.1 .3,.1 .4,.2 .3,.1 .4,.1 .3,.1 .4,.2 .3,.1 .4,.1 .4,.2 .3,.1 .4,.1 .3,.2 .4,.1 .3,.2 .4,.1 .3,.1 .4,.2 .4,.1 .3,.2 .4,.1 .3,.1 .4,.2 .3,.1 .4,.2 .4,.1 .3,.2 .4,.1 .3,.2 .4,.1 .3,.2 .4,.1 .3,.2 .4,.2 .4,.1 .3,.2 .4,.1 .3,.2 .4,.2 .3,.1 .4,.2 .3,.2 .4,.2 .4,.1 .3,.2 .4,.2 .3,.2 .4,.2 .3,.2 .4,.1 .3,.2 .4,.2 .4,.2 .3,.2 .4,.2 .3,.2 .4,.2 .3,.2 .4,.1 .3,.2 .4,.2 .4,.2 .3,.2 .4,.2 .3,.2 .4,.2 .3,.2 .4,.2 .3,.1 .4,.2 .4,.2 .3,.2 .4,.2 .3,.2 .4,.2 .3,.2 .4,.2 .4,.2 .3,.2 .4,.3 .3,.2 .4,.2 .3,.2 .4,.2 .3,.2 .4,.3 .4,.2 .3,.2 .4,.3 .3,.2 .4,.3 .3,.2 .4,.3 .3,.2 .4,.3 .4,.3 .3,.3 .4,.3 .3,.3 .4,.3 .3,.3 .4,.3 .3,.3 .4,.3 .4,.4 .3,.3 .4,.4 .3,.3 .4,.4 .3,.4 .4,.3 .3,.4 .4,.4 .4,.4 .3,.4 .4,.4 .3,.4 .4,.4 .3,.5 .4,.4 .3,.5 .4,.4 .4,.5 .3,.5 .4,.5 .3,.5 .4,.5 .3,.5 .4,.6 .4,.5 .3,.6 .4,.6 .3,.6 .4,.6 .3,.6 .4,.6 .3,.7 .4,.6 .4,.7 .3,.7 .4,.7 .3,.8 .4,.8 .3,.8 .4,.9 .3,.8 .4,.9 .4,.9 .3,1 .4,.9 .3,.9 .4,.9 .3,1 .4,.9 .3,1 .4,1 .4,1.1 .3,1.1 .4,1.1 .3,1.1 .4,1.1 .3,1.1 .4,1.1 .3,1.2 .4,1.1 .4,1.5 .3,1.6 .4,1.6 .3,1.3 .4,1.2 .3,1 .4,.8 .3,.6 .4,.5 .4,.3 .3,.2 .4,0 .3-.1 .4-.1 .3-.3 .4-.2 .3-.4 .4-.3 .4-.4 .3-.3 .4-.4 .3-.3 .4-.3 .3-.3 .4-.3 .4-.2 .3-.3 .4-.2 .3-.2 .4-.2 .3-.1 .4-.2 .3-.1 .4-.2 .4-.1 .3-.1 .4-.1 .3-.1 .4-.1 .3-.1 .4-.1 .3-.1 .4-.1 .4,0 .3,0 .4-.1 .3,0 .4,0 .3,.1 .4,0 .3,0 .4,.1 .4,.1 .3,.1 .4,.1 .3,.1 .4,.3 .3,.2 .4,.4 .3,.4 .4,.6 .4,.6 .3,.7 .4,.8 .3,.9 .4,1 .3,1 .4,1 .3,1 .4,1 .4,1.1 .3,1.1 .4,1.1 .3,1.2 .4,1.2 .3,1.2 .4,1.3 .4,1.2 .3,1.3 .4,1.3 .3,1.3 .4,1.4 .3,1.6 .4,1.8 .3,1.7 .4,1.8 .4,1.6 .3,1.3 .4,1 .3,.6 .4,.3 .3-.2 .4-.4 .3-.6 .4-.8 .4-.9 .3-.9 .4-.8 .3-.8 .4-.7 .3-.7 .4-.6 .3-.5 .4-.5 .4-.4 .3-.5 .4-.4 .3-.4 .4-.4 .3-.3 .4-.4 .3-.3 .4-.2 .4-.2 .3-.1 .4-.1 .3,0 .4,.1 .3,.2 .4,.2 .3,.4 .4,.3 .4,.4 .3,.5 .4,.5 .3,.6 .4,.6 .3,.6 .4,.6 .4,.7 .3,.7 .4,.8 .3,1 .4,1 .3,1.2 .4,1.3 .3,1.3 .4,1.5 .4,1.5 .3,1.7 .4,2 .3,3.1 .4,3.3 .3,1.5 .4,.5 .3-.3 .4-.7 .4-.9 .3-1.1 .4-1.1 .3-1.2 .4-1.2 .3-1.1 .4-1 .3-1 .4-.9 .4-.9 .3-.7 .4-.5 .3-.2 .4,0 .3,.2 .4,.3 .3,.4 .4,.5 .4,.5 .3,.7 .4,.7 .3,.8 .4,.9 .3,1.2 .4,1.5 .3,2.2 .4,3 .4,4.2 .3,4.6 .4,3.6 .3,2.3 .4,1.1 .3,.1 .4-.9 .4-1.5 .3-2 .4-2.1 .3-2.2 .4-2.1 .3-1.8 .4-1.7 .3-1.6 .4-1.1 .4-.8 .3-.4 .4,0 .3,.3 .4,.5 .3,.7 .4,.7 .3,.9 .4,1 .4,1.1 .3,1.3 .4,1.7 .3,2.1 .4,2.8 .3,3.6 .4,4.3 .3,4.3 .4,3.6" stroke="#0000dd"/>
<path d="M54.3,17.3l.4,0 .3,0 .4,0 .3,0 .4,0 .3,0 .4,0 .3,.1 .4,0 .4,0 .3,0 .4,0 .3,0 .4,0 .3,0 .4,0 .3,0 .4,0 .4,0 .3,0 .4,.1 .3,0 .4,0 .3,0 .4,0 .3,0 .4,0 .4,0 .3,0 .4,0 .3,0 .4,0 .3,0 .4,0 .4,0 .3,.1 .4,0 .3,0 .4,0 .3,0 .4,0 .3,0 .4,0 .4,0 .3,0 .4,0 .3,0 .4,0 .3,0 .4,0 .3,.1 .4,0 .4,0 .3,0 .4,0 .3,0 .4,0 .3,0 .4,0 .3,0 .4,0 .4,0 .3,0 .4,0 .3,0 .4,.1 .3,0 .4,0 .3,0 .4,0 .4,0 .3,0 .4,0 .3,0 .4,0 .3,0 .4,0 .3,0 .4,.1 .4,0 .3,0 .4,0 .3,0 .4,0 .3,0 .4,0 .4,0 .3,0 .4,0 .3,0 .4,.1 .3,0 .4,0 .3,0 .4,0 .4,0 .3,0 .4,0 .3,0 .4,0 .3,.1 .4,0 .3,0 .4,0 .4,0 .3,0 .4,0 .3,0 .4,0 .3,.1 .4,0 .3,0 .4,0 .4,0 .3,0 .4,0 .3,.1 .4,0 .3,0 .4,0 .3,0 .4,0 .4,.1 .3,0 .4,0 .3,0 .4,0 .3,.1 .4,0 .3,0 .4,0 .4,0 .3,.1 .4,0 .3,0 .4,0 .3,0 .4,.1 .4,0 .3,0 .4,0 .3,.1 .4,0 .3,0 .4,0 .3,.1 .4,0 .4,0 .3,.1 .4,0 .3,0 .4,0 .3,.1 .4,0 .3,.1 .4,0 .4,0 .3,.1 .4,0 .3,.1 .4,0 .3,.1 .4,0 .3,.1 .4,0 .4,.1 .3,0 .4,.1 .3,0 .4,.1 .3,.1 .4,0 .3,.1 .4,.1 .4,0 .3,.1 .4,.1 .3,0 .4,.1 .3,.1 .4,.1 .3,0 .4,.1 .4,.1 .3,.1 .4,.1 .3,.1 .4,.1 .3,0 .4,.1 .4,.1 .3,.1 .4,.1 .3,.1 .4,.1 .3,.1 .4,.1 .3,.1 .4,.1 .4,.1 .3,.1 .4,.1 .3,.1 .4,.1 .3,.1 .4,.1 .3,.1 .4,.1 .4,.2 .3,.1 .4,.1 .3,.1 .4,.1 .3,.1 .4,.2 .3,.1 .4,.1 .4,.1 .3,.2 .4,.1 .3,.1 .4,.1 .3,.2 .4,.1 .3,.1 .4,.2 .4,.1 .3,.1 .4,.2 .3,.1 .4,.2 .3,.1 .4,.2 .3,.1 .4,.1 .4,.2 .3,.1 .4,.2 .3,.1 .4,.2 .3,.1 .4,.2 .3,.1 .4,.2 .4,.2 .3,.1 .4,.2 .3,.1 .4,.2 .3,.2 .4,.1 .4,.2 .3,.1 .4,.2 .3,.2 .4,.1 .3,.2 .4,.2 .3,.2 .4,.1 .4,.2 .3,.2 .4,.2 .3,.2 .4,.1 .3,.2 .4,.2 .3,.2 .4,.2 .4,.2 .3,.2 .4,.2 .3,.2 .4,.2 .3,.2 .4,.1 .3,.2 .4,.2 .4,.2 .3,.2 .4,.2 .3,.2 .4,.2 .3,.2 .4,.2 .3,.2 .4,.2 .4,.2 .3,.2 .4,.2 .3,.2 .4,.2 .3,.2 .4,.2 .3,.2 .4,.2 .4,.2 .3,.2 .4,.2 .3,.2 .4,.2 .3,.2 .4,.2 .4,.2 .3,.2 .4,.2 .3,.2 .4,.2 .3,.3 .4,.2 .3,.2 .4,.2 .4,.3 .3,.2 .4,.2 .3,.3 .4,.2 .3,.3 .4,.2 .3,.3 .4,.3 .4,.2 .3,.3 .4,.3 .3,.3 .4,.3 .3,.3 .4,.3 .3,.4 .4,.3 .4,.3 .3,.4 .4,.3 .3,.4 .4,.4 .3,.3 .4,.4 .3,.4 .4,.4 .4,.4 .3,.4 .4,.4 .3,.4 .4,.5 .3,.4 .4,.5 .3,.4 .4,.5 .4,.5 .3,.5 .4,.5 .3,.5 .4,.5 .3,.6 .4,.5 .4,.6 .3,.6 .4,.5 .3,.6 .4,.7 .3,.6 .4,.6 .3,.7 .4,.7 .4,.7 .3,.7 .4,.8 .3,.8 .4,.8 .3,.8 .4,.9 .3,.8 .4,1 .4,.9 .3,.9 .4,1 .3,.9 .4,1 .3,.9 .4,1 .3,1 .4,1 .4,1.1 .3,1.1 .4,1.1 .3,1.1 .4,1.1 .3,1.1 .4,1.1 .3,1.1 .4,1.2 .4,1.5 .3,1.7 .4,1.7 .3,1.3 .4,1 .3,.8 .4,.5 .3,.4 .4,.2 .4,.1 .3,0 .4,0 .3-.1 .4-.2 .3-.1 .4-.2 .3-.2 .4-.3 .4-.2 .3-.2 .4-.3 .3-.2 .4-.3 .3-.2 .4-.2 .4-.2 .3-.2 .4-.2 .3-.1 .4-.2 .3-.1 .4-.1 .3-.1 .4-.1 .4-.1 .3,0 .4-.1 .3-.1 .4-.1 .3,0 .4-.1 .3,0 .4-.1 .4,0 .3-.1 .4,0 .3,0 .4,0 .3,0 .4,0 .3,0 .4,.1 .4,0 .3,.1 .4,.1 .3,.1 .4,.2 .3,.3 .4,.4 .3,.4 .4,.6 .4,.7 .3,.8 .4,.9 .3,1 .4,1.1 .3,1.1 .4,1 .3,1.1 .4,1 .4,1 .3,1.1 .4,1.2 .3,1.1 .4,1.2 .3,1.3 .4,1.2 .4,1.3 .3,1.2 .4,1.3 .3,1.2 .4,1.4 .3,1.6 .4,1.8 .3,1.8 .4,1.7 .4,1.4 .3,1.1 .4,.7 .3,.4 .4,.1 .3-.2 .4-.4 .3-.6 .4-.7 .4-.7 .3-.8 .4-.8 .3-.8 .4-.7 .3-.7 .4-.6 .3-.5 .4-.5 .4-.4 .3-.4 .4-.4 .3-.4 .4-.4 .3-.3 .4-.4 .3-.3 .4-.2 .4-.2 .3-.2 .4-.1 .3,0 .4,0 .3,.2 .4,.2 .3,.2 .4,.4 .4,.3 .3,.4 .4,.5 .3,.5 .4,.5 .3,.6 .4,.6 .4,.6 .3,.7 .4,.7 .3,.8 .4,.9 .3,1.1 .4,1.1 .3,1.3 .4,1.4 .4,1.4 .3,1.5 .4,1.9 .3,3.3 .4,3.6 .3,1.5 .4,.5 .3-.3 .4-.6 .4-.8 .3-.9 .4-1 .3-1.1 .4-1 .3-1 .4-1 .3-1 .4-.8 .4-.8 .3-.6 .4-.4 .3-.3 .4,0 .3,.1 .4,.3 .3,.3 .4,.4 .4,.5 .3,.5 .4,.7 .3,.7 .4,.7 .3,1.1 .4,1.4 .3,2 .4,3.2 .4,4.4 .3,5.1 .4,3.9 .3,2.1 .4,.6 .3-.4 .4-1 .4-1.6 .3-1.8 .4-2 .3-2.1 .4-2.1 .3-1.8 .4-1.7 .3-1.5 .4-1.1 .4-.6 .3-.3 .4,.1 .3,.4 .4,.6 .3,.6 .4,.9 .3,.9 .4,1 .4,1.1 .3,1.4 .4,1.8 .3,2.3 .4,3 .3,3.8 .4,4.1 .3,4 .4,3.4" stroke="#ff00ff"/>
<path d="M54.3,17.3l.4,0 .3,0 .4,0 .3,0 .4,0 .3,.1 .4,0 .3,0 .4,0 .4,0 .3,0 .4,0 .3,0 .4,0 .3,0 .4,0 .3,0 .4,0 .4,.1 .3,0 .4,0 .3,0 .4,0 .3,0 .4,0 .3,0 .4,0 .4,0 .3,0 .4,0 .3,0 .4,0 .3,.1 .4,0 .4,0 .3,0 .4,0 .3,0 .4,0 .3,0 .4,0 .3,0 .4,0 .4,0 .3,0 .4,0 .3,0 .4,.1 .3,0 .4,0 .3,0 .4,0 .4,0 .3,0 .4,0 .3,0 .4,0 .3,0 .4,0 .3,0 .4,0 .4,.1 .3,0 .4,0 .3,0 .4,0 .3,0 .4,0 .3,0 .4,0 .4,0 .3,0 .4,0 .3,0 .4,0 .3,.1 .4,0 .3,0 .4,0 .4,0 .3,0 .4,0 .3,0 .4,0 .3,0 .4,0 .4,0 .3,.1 .4,0 .3,0 .4,0 .3,0 .4,0 .3,0 .4,0 .4,0 .3,0 .4,.1 .3,0 .4,0 .3,0 .4,0 .3,0 .4,0 .4,0 .3,0 .4,.1 .3,0 .4,0 .3,0 .4,0 .3,0 .4,0 .4,0 .3,.1 .4,0 .3,0 .4,0 .3,0 .4,0 .3,.1 .4,0 .4,0 .3,0 .4,0 .3,.1 .4,0 .3,0 .4,0 .3,0 .4,.1 .4,0 .3,0 .4,0 .3,0 .4,.1 .3,0 .4,0 .4,0 .3,.1 .4,0 .3,0 .4,0 .3,.1 .4,0 .3,0 .4,0 .4,.1 .3,0 .4,0 .3,.1 .4,0 .3,0 .4,.1 .3,0 .4,0 .4,.1 .3,0 .4,.1 .3,0 .4,0 .3,.1 .4,.1 .3,0 .4,.1 .4,0 .3,.1 .4,0 .3,.1 .4,.1 .3,0 .4,.1 .3,0 .4,.1 .4,.1 .3,.1 .4,0 .3,.1 .4,.1 .3,.1 .4,0 .3,.1 .4,.1 .4,.1 .3,.1 .4,0 .3,.1 .4,.1 .3,.1 .4,.1 .4,.1 .3,.1 .4,.1 .3,.1 .4,.1 .3,.1 .4,.1 .3,.1 .4,.1 .4,.1 .3,.1 .4,.1 .3,.1 .4,.1 .3,.1 .4,.1 .3,.1 .4,.1 .4,.2 .3,.1 .4,.1 .3,.1 .4,.1 .3,.1 .4,.2 .3,.1 .4,.1 .4,.1 .3,.2 .4,.1 .3,.1 .4,.2 .3,.1 .4,.1 .3,.2 .4,.1 .4,.1 .3,.2 .4,.1 .3,.2 .4,.1 .3,.2 .4,.1 .3,.1 .4,.2 .4,.1 .3,.2 .4,.1 .3,.2 .4,.2 .3,.1 .4,.2 .3,.1 .4,.2 .4,.1 .3,.2 .4,.1 .3,.2 .4,.2 .3,.1 .4,.2 .4,.2 .3,.1 .4,.2 .3,.2 .4,.1 .3,.2 .4,.2 .3,.2 .4,.1 .4,.2 .3,.2 .4,.2 .3,.2 .4,.2 .3,.2 .4,.1 .3,.2 .4,.2 .4,.2 .3,.2 .4,.2 .3,.2 .4,.2 .3,.2 .4,.2 .3,.2 .4,.2 .4,.2 .3,.2 .4,.2 .3,.2 .4,.2 .3,.2 .4,.2 .3,.2 .4,.2 .4,.2 .3,.2 .4,.2 .3,.2 .4,.2 .3,.2 .4,.2 .3,.2 .4,.2 .4,.1 .3,.2 .4,.2 .3,.2 .4,.3 .3,.2 .4,.2 .4,.2 .3,.2 .4,.2 .3,.2 .4,.2 .3,.2 .4,.2 .3,.3 .4,.2 .4,.2 .3,.3 .4,.2 .3,.2 .4,.3 .3,.2 .4,.3 .3,.3 .4,.2 .4,.3 .3,.3 .4,.3 .3,.3 .4,.3 .3,.3 .4,.3 .3,.3 .4,.4 .4,.3 .3,.3 .4,.4 .3,.3 .4,.4 .3,.4 .4,.4 .3,.4 .4,.4 .4,.4 .3,.4 .4,.4 .3,.4 .4,.5 .3,.4 .4,.5 .3,.4 .4,.5 .4,.5 .3,.5 .4,.5 .3,.5 .4,.5 .3,.6 .4,.5 .4,.6 .3,.5 .4,.6 .3,.6 .4,.7 .3,.6 .4,.6 .3,.7 .4,.7 .4,.7 .3,.7 .4,.8 .3,.8 .4,.8 .3,.8 .4,.9 .3,.9 .4,.9 .4,.9 .3,.9 .4,1 .3,.9 .4,1 .3,1 .4,.9 .3,1.1 .4,1 .4,1.1 .3,1 .4,1.1 .3,1.2 .4,1.1 .3,1.1 .4,1.1 .3,1 .4,1.2 .4,1.5 .3,1.8 .4,1.6 .3,1.4 .4,1 .3,.7 .4,.5 .3,.3 .4,.2 .4,.1 .3,0 .4-.1 .3-.1 .4-.1 .3-.2 .4-.2 .3-.2 .4-.2 .4-.2 .3-.2 .4-.2 .3-.3 .4-.2 .3-.2 .4-.2 .4-.2 .3-.2 .4-.2 .3-.1 .4-.1 .3-.1 .4-.1 .3-.1 .4-.1 .4-.1 .3-.1 .4,0 .3-.1 .4-.1 .3,0 .4-.1 .3,0 .4-.1 .4,0 .3-.1 .4,0 .3,0 .4,0 .3,0 .4,0 .3,0 .4,0 .4,.1 .3,0 .4,.1 .3,.2 .4,.2 .3,.2 .4,.4 .3,.5 .4,.6 .4,.7 .3,.8 .4,1 .3,1 .4,1 .3,1.1 .4,1.1 .3,1.1 .4,1 .4,1 .3,1.1 .4,1.1 .3,1.2 .4,1.2 .3,1.2 .4,1.3 .4,1.2 .3,1.3 .4,1.2 .3,1.3 .4,1.3 .3,1.7 .4,1.8 .3,1.8 .4,1.7 .4,1.3 .3,1.1 .4,.7 .3,.3 .4,0 .3-.2 .4-.4 .3-.5 .4-.7 .4-.7 .3-.8 .4-.8 .3-.7 .4-.7 .3-.7 .4-.6 .3-.6 .4-.4 .4-.4 .3-.4 .4-.5 .3-.4 .4-.3 .3-.4 .4-.3 .3-.3 .4-.3 .4-.2 .3-.2 .4-.1 .3,0 .4,.1 .3,.1 .4,.2 .3,.2 .4,.4 .4,.3 .3,.4 .4,.5 .3,.5 .4,.5 .3,.6 .4,.5 .4,.6 .3,.7 .4,.7 .3,.8 .4,.9 .3,1.1 .4,1.1 .3,1.2 .4,1.4 .4,1.4 .3,1.5 .4,1.8 .3,3.4 .4,3.6 .3,1.6 .4,.4 .3-.2 .4-.6 .4-.8 .3-.9 .4-1 .3-1 .4-1.1 .3-1 .4-1 .3-.9 .4-.8 .4-.8 .3-.6 .4-.4 .3-.2 .4-.1 .3,.1 .4,.3 .3,.3 .4,.4 .4,.4 .3,.6 .4,.6 .3,.7 .4,.7 .3,1.1 .4,1.3 .3,2.1 .4,3.1 .4,4.5 .3,5.1 .4,4 .3,2 .4,.6 .3-.4 .4-1.1 .4-1.6 .3-1.8 .4-2 .3-2.1 .4-2 .3-1.9 .4-1.7 .3-1.5 .4-1 .4-.6 .3-.3 .4,.2 .3,.4 .4,.5 .3,.7 .4,.8 .3,1 .4,1 .4,1.1 .3,1.4 .4,1.8 .3,2.4 .4,3 .3,3.8 .4,4.1 .3,4 .4,3.3" stroke="#00ffff"/>
</g>
<g clip-path="url(#clipb)" fill="none" stroke-width="1.8" stroke-linejoin="round">
<path d="M322.3,16.8l.2,0 .3,0 .2,0 .3,0 .2,0 .2,0 .3,0 .2,0 .2,0 .3,0 .2,0 .3,0 .2,.1 .2,0 .3,0 .2,0 .2,0 .3,0 .2,0 .3,0 .2,0 .2,0 .3,0 .2,0 .2,0 .3,0 .2,0 .3,0 .2,0 .2,0 .3,0 .2,0 .2,0 .3,0 .2,0 .3,0 .2,0 .2,0 .3,.1 .2,0 .2,0 .3,0 .2,0 .3,0 .2,0 .2,0 .3,0 .2,0 .2,0 .3,0 .2,0 .3,0 .2,0 .2,0 .3,0 .2,0 .2,0 .3,0 .2,0 .3,0 .2,0 .2,0 .3,0 .2,0 .2,0 .3,.1 .2,0 .3,0 .2,0 .2,0 .3,0 .2,0 .2,0 .3,0 .2,0 .3,0 .2,0 .2,0 .3,0 .2,0 .2,0 .3,0 .2,0 .3,0 .2,0 .2,0 .3,0 .2,0 .2,.1 .3,0 .2,0 .3,0 .2,0 .2,0 .3,0 .2,0 .2,0 .3,0 .2,0 .3,0 .2,0 .2,0 .3,0 .2,0 .2,0 .3,0 .2,0 .3,0 .2,.1 .2,0 .3,0 .2,0 .2,0 .3,0 .2,0 .3,0 .2,0 .2,0 .3,0 .2,0 .2,0 .3,0 .2,0 .3,0 .2,.1 .2,0 .3,0 .2,0 .3,0 .2,0 .2,0 .3,0 .2,0 .2,0 .3,0 .2,0 .3,0 .2,0 .2,0 .3,0 .2,.1 .2,0 .3,0 .2,0 .3,0 .2,0 .2,0 .3,0 .2,0 .2,0 .3,0 .2,0 .3,0 .2,0 .2,.1 .3,0 .2,0 .2,0 .3,0 .2,0 .3,0 .2,0 .2,0 .3,0 .2,0 .2,0 .3,0 .2,.1 .3,0 .2,0 .2,0 .3,0 .2,0 .2,0 .3,0 .2,0 .3,0 .2,0 .2,.1 .3,0 .2,0 .2,0 .3,0 .2,0 .3,0 .2,0 .2,0 .3,0 .2,.1 .2,0 .3,0 .2,0 .3,0 .2,0 .2,0 .3,0 .2,.1 .2,0 .3,0 .2,0 .3,0 .2,0 .2,0 .3,0 .2,.1 .2,0 .3,0 .2,0 .3,0 .2,0 .2,0 .3,0 .2,.1 .2,0 .3,0 .2,0 .3,0 .2,0 .2,0 .3,.1 .2,0 .2,0 .3,0 .2,0 .3,0 .2,0 .2,0 .3,.1 .2,0 .2,0 .3,0 .2,0 .3,0 .2,0 .2,.1 .3,0 .2,0 .2,0 .3,0 .2,0 .3,.1 .2,0 .2,0 .3,0 .2,0 .2,0 .3,0 .2,.1 .3,0 .2,0 .2,0 .3,0 .2,0 .2,.1 .3,0 .2,0 .3,0 .2,0 .2,0 .3,.1 .2,0 .3,0 .2,0 .2,0 .3,0 .2,.1 .2,0 .3,0 .2,0 .3,0 .2,.1 .2,0 .3,0 .2,0 .2,0 .3,0 .2,.1 .3,0 .2,0 .2,0 .3,0 .2,.1 .2,0 .3,0 .2,0 .3,0 .2,.1 .2,0 .3,0 .2,0 .2,.1 .3,0 .2,0 .3,0 .2,0 .2,.1 .3,0 .2,0 .2,0 .3,.1 .2,0 .3,0 .2,0 .2,.1 .3,0 .2,0 .2,0 .3,.1 .2,0 .3,0 .2,0 .2,.1 .3,0 .2,0 .2,0 .3,.1 .2,0 .3,0 .2,0 .2,.1 .3,0 .2,0 .2,0 .3,.1 .2,0 .3,0 .2,0 .2,.1 .3,0 .2,0 .2,0 .3,.1 .2,0 .3,0 .2,0 .2,.1 .3,0 .2,0 .2,0 .3,.1 .2,0 .3,0 .2,.1 .2,0 .3,0 .2,.1 .2,0 .3,0 .2,0 .3,.1 .2,0 .2,0 .3,.1 .2,0 .2,.1 .3,0 .2,0 .3,.1 .2,0 .2,0 .3,.1 .2,0 .2,.1 .3,0 .2,0 .3,.1 .2,0 .2,.1 .3,0 .2,.1 .2,0 .3,.1 .2,0 .3,0 .2,.1 .2,0 .3,.1 .2,.1 .2,0 .3,.1 .2,0 .3,.1 .2,0 .2,.1 .3,0 .2,.1 .3,.1 .2,0 .2,.1 .3,0 .2,.1 .2,.1 .3,0 .2,.1 .3,.1 .2,0 .2,.1 .3,.1 .2,0 .2,.1 .3,.1 .2,0 .3,.1 .2,.1 .2,.1 .3,0 .2,.1 .2,.1 .3,0 .2,.1 .3,.1 .2,.1 .2,0 .3,.1 .2,.1 .2,.1 .3,.1 .2,0 .3,.1 .2,.1 .2,.1 .3,.1 .2,0 .2,.1 .3,.1 .2,.1 .3,.1 .2,.1 .2,0 .3,.1 .2,.1 .2,.1 .3,.1 .2,.1 .3,.1 .2,.1 .2,0 .3,.1 .2,.1 .2,.1 .3,.1 .2,.1 .3,.1 .2,.1 .2,.1 .3,.1 .2,.1 .2,.1 .3,.1 .2,.1 .3,.1 .2,.1 .2,.1 .3,.1 .2,.1 .2,.1 .3,.1 .2,.1 .3,.1 .2,.1 .2,.1 .3,.1 .2,.1 .2,.1 .3,.1 .2,.1 .3,.1 .2,.2 .2,.1 .3,.1 .2,.1 .2,.1 .3,.1 .2,.1 .3,.2 .2,.1 .2,.1 .3,.1 .2,.1 .2,.2 .3,.1 .2,.1 .3,.1 .2,.2 .2,.1 .3,.1 .2,.2 .2,.1 .3,.1 .2,.2 .3,.1 .2,.1 .2,.2 .3,.1 .2,.2 .2,.1 .3,.2 .2,.1 .3,.2 .2,.1 .2,.2 .3,.2 .2,.1 .2,.2 .3,.2 .2,.1 .3,.2 .2,.2 .2,.2 .3,.1 .2,.2 .2,.2 .3,.2 .2,.2 .3,.2 .2,.2 .2,.2 .3,.2 .2,.3 .3,.2 .2,.2 .2,.2 .3,.3 .2,.2 .2,.2 .3,.3 .2,.2 .3,.3 .2,.2 .2,.3 .3,.2 .2,.3 .2,.3 .3,.2 .2,.3 .3,.3 .2,.2 .2,.3 .3,.3 .2,.3 .2,.2 .3,.3 .2,.3 .3,.3 .2,.3 .2,.3 .3,.3 .2,.3 .2,.3 .3,.3 .2,.3 .3,.4 .2,.3 .2,.3 .3,.3 .2,.4 .2,.3 .3,.4 .2,.3 .3,.3 .2,.4 .2,.3 .3,.4 .2,.3 .2,.4 .3,.4 .2,.3 .3,.4 .2,.3 .2,.4 .3,.3 .2,.4 .2,.4 .3,.3 .2,.4 .3,.3 .2,.4 .2,.4 .3,.4 .2,.3 .2,.4 .3,.4 .2,.4 .3,.4 .2,.3 .2,.4 .3,.4 .2,.4 .2,.4 .3,.4 .2,.4 .3,.4 .2,.4 .2,.4 .3,.4 .2,.4 .2,.4 .3,.3 .2,.4 .3,.4 .2,.4 .2,.4 .3,.4 .2,.3 .2,.4 .3,.4 .2,.3 .3,.4 .2,.3 .2,.4 .3,.4 .2,.3 .2,.4 .3,.3 .2,.4 .3,.3 .2,.4 .2,.3 .3,.4 .2,.3 .2,.3 .3,.3 .2,.4 .3,.3 .2,.3 .2,.3 .3,.3 .2,.2 .2,.3 .3,.3 .2,.2 .3,.3 .2,.2 .2,.3 .3,.2 .2,.2 .2,.2 .3,.2 .2,.2 .3,.2 .2,.2 .2,.2 .3,.2 .2,.2 .3,.2 .2,.2 .2,.2 .3,.2 .2,.2 .2,.2 .3,.2 .2,.2 .3,.2 .2,.2 .2,.2 .3,.2 .2,.2 .2,.2 .3,.2 .2,.2 .3,.2 .2,.2 .2,.2 .3,.2 .2,.2 .2,.2 .3,.2 .2,.2 .3,.2 .2,.3 .2,.2 .3,.3 .2,.2 .2,.3 .3,.3 .2,.3 .3,.3 .2,.4 .2,.3 .3,.4 .2,.4 .2,.4 .3,.4 .2,.4 .3,.4 .2,.5 .2,.5 .3,.4 .2,.5 .2,.6 .3,.5 .2,.5 .3,.6 .2,.6 .2,.7 .3,.6 .2,.7 .2,.8 .3,.7 .2,.8 .3,.8 .2,.8 .2,.9 .3,.9 .2,.8 .2,.9 .3,.9 .2,1 .3,1 .2,1.2 .2,1.1 .3,1.1 .2,.9 .2,.9 .3,.8 .2,.8 .3,.8 .2,.8 .2,.8 .3,.8 .2,.8 .2,.7 .3,.8 .2,.7 .3,.6 .2,.7 .2,.5 .3,.5 .2,.5 .2,.4 .3,.3 .2,.1 .3,.1 .2-.2 .2-.4 .3-.5 .2-.8 .2-1 .3-1 .2-1.1 .3-1.1 .2-1 .2-.8 .3-.7 .2-.7 .2-.5 .3-.4 .2-.4 .3-.3 .2-.2 .2-.3 .3-.3 .2-.2 .2-.3 .3-.2 .2-.2 .3-.2 .2-.2 .2-.1 .3-.2 .2-.1 .2-.1 .3-.1 .2-.1 .3-.1 .2,0 .2,0 .3,0 .2,.1 .2,.1 .3,.2 .2,.2 .3,.2 .2,.3 .2,.3 .3,.3 .2,.4 .3,.4 .2,.4 .2,.4 .3,.5 .2,.4 .2,.5 .3,.5 .2,.5 .3,.4 .2,.5 .2,.5 .3,.5 .2,.5 .2,.6 .3,.6 .2,.7 .3,.7 .2,.8 .2,.7 .3,.8 .2,.7 .2,.7 .3,.7 .2,.7 .3,.6 .2,.6 .2,.5 .3,.5 .2,.4 .2,.4 .3,.3 .2,.2 .3,.3 .2,.2 .2,.1 .3,.2 .2,.1 .2,.1 .3,.1 .2,.2 .3,.1 .2,.1 .2,.1 .3,.2 .2,.1 .2,.2 .3,.1 .2,.1 .3,.2 .2,.1 .2,.1 .3,.2 .2,.1 .2,.2 .3,.2 .2,.2 .3,.3 .2,.3 .2,.4 .3,.5 .2,.5 .2,.7 .3,.7 .2,.9 .3,1 .2,1.2 .2,1.2 .3,1.3 .2,1.4 .2,1.3 .3,1.5 .2,1.8 .3,2.3 .2,2.7 .2,2.8 .3,2.5 .2,1.8 .2,1 .3,.4 .2-.2 .3-.7 .2-1 .2-1.3 .3-1.4 .2-1.4 .2-1.5 .3-1.4 .2-1.3 .3-1.2 .2-1.1 .2-.9 .3-.7 .2-.8 .2-.8 .3-.7 .2-.7 .3-.7 .2-.6 .2-.5 .3-.4 .2-.4 .2-.2 .3-.1 .2,.1 .3,.2 .2,.3 .2,.4 .3,.4 .2,.6 .2,.6 .3,.6 .2,.7 .3,.7 .2,.8 .2,.8 .3,.9 .2,1 .2,1.4 .3,1.7 .2,2.2 .3,2.1 .2,1.9" stroke="#000000"/>
<path d="M322.3,16.8l.2,0 .3,0 .2,0 .3,0 .2,0 .2,0 .3,0 .2,0 .2,0 .3,.1 .2,0 .3,0 .2,0 .2,0 .3,0 .2,0 .2,0 .3,0 .2,0 .3,0 .2,0 .2,0 .3,0 .2,0 .2,0 .3,0 .2,0 .3,0 .2,.1 .2,0 .3,0 .2,0 .2,0 .3,0 .2,0 .3,0 .2,0 .2,0 .3,0 .2,0 .2,0 .3,0 .2,0 .3,0 .2,0 .2,0 .3,0 .2,0 .2,.1 .3,0 .2,0 .3,0 .2,0 .2,0 .3,0 .2,0 .2,0 .3,0 .2,0 .3,0 .2,0 .2,0 .3,0 .2,0 .2,0 .3,0 .2,0 .3,0 .2,.1 .2,0 .3,0 .2,0 .2,0 .3,0 .2,0 .3,0 .2,0 .2,0 .3,0 .2,0 .2,0 .3,0 .2,0 .3,0 .2,0 .2,0 .3,.1 .2,0 .2,0 .3,0 .2,0 .3,0 .2,0 .2,0 .3,0 .2,0 .2,0 .3,0 .2,0 .3,0 .2,0 .2,0 .3,.1 .2,0 .2,0 .3,0 .2,0 .3,0 .2,0 .2,0 .3,0 .2,0 .2,0 .3,0 .2,0 .3,0 .2,.1 .2,0 .3,0 .2,0 .2,0 .3,0 .2,0 .3,0 .2,0 .2,0 .3,0 .2,0 .3,0 .2,0 .2,.1 .3,0 .2,0 .2,0 .3,0 .2,0 .3,0 .2,0 .2,0 .3,0 .2,0 .2,0 .3,0 .2,.1 .3,0 .2,0 .2,0 .3,0 .2,0 .2,0 .3,0 .2,0 .3,0 .2,0 .2,0 .3,.1 .2,0 .2,0 .3,0 .2,0 .3,0 .2,0 .2,0 .3,.1 .2,0 .2,0 .3,0 .2,0 .3,0 .2,0 .2,0 .3,.1 .2,0 .2,0 .3,0 .2,0 .3,0 .2,.1 .2,0 .3,0 .2,0 .2,0 .3,0 .2,0 .3,.1 .2,0 .2,0 .3,0 .2,0 .2,0 .3,.1 .2,0 .3,0 .2,0 .2,0 .3,0 .2,.1 .2,0 .3,0 .2,0 .3,0 .2,.1 .2,0 .3,0 .2,0 .2,0 .3,0 .2,.1 .3,0 .2,0 .2,0 .3,0 .2,.1 .2,0 .3,0 .2,0 .3,0 .2,0 .2,.1 .3,0 .2,0 .2,0 .3,0 .2,.1 .3,0 .2,0 .2,0 .3,0 .2,.1 .2,0 .3,0 .2,0 .3,0 .2,.1 .2,0 .3,0 .2,0 .2,0 .3,.1 .2,0 .3,0 .2,0 .2,0 .3,.1 .2,0 .2,0 .3,0 .2,0 .3,.1 .2,0 .2,0 .3,0 .2,.1 .2,0 .3,0 .2,0 .3,0 .2,.1 .2,0 .3,0 .2,0 .3,.1 .2,0 .2,0 .3,0 .2,0 .2,.1 .3,0 .2,0 .3,0 .2,.1 .2,0 .3,0 .2,0 .2,.1 .3,0 .2,0 .3,0 .2,.1 .2,0 .3,0 .2,0 .2,.1 .3,0 .2,0 .3,0 .2,.1 .2,0 .3,0 .2,0 .2,.1 .3,0 .2,0 .3,.1 .2,0 .2,0 .3,0 .2,.1 .2,0 .3,0 .2,.1 .3,0 .2,0 .2,0 .3,.1 .2,0 .2,0 .3,.1 .2,0 .3,0 .2,0 .2,.1 .3,0 .2,0 .2,.1 .3,0 .2,0 .3,0 .2,.1 .2,0 .3,0 .2,.1 .2,0 .3,0 .2,.1 .3,0 .2,0 .2,0 .3,.1 .2,0 .2,0 .3,.1 .2,0 .3,0 .2,.1 .2,0 .3,0 .2,0 .2,.1 .3,0 .2,0 .3,.1 .2,0 .2,0 .3,.1 .2,0 .2,0 .3,.1 .2,0 .3,.1 .2,0 .2,0 .3,.1 .2,0 .2,0 .3,.1 .2,0 .3,.1 .2,0 .2,0 .3,.1 .2,0 .2,.1 .3,0 .2,.1 .3,0 .2,.1 .2,0 .3,.1 .2,0 .2,.1 .3,0 .2,.1 .3,0 .2,.1 .2,0 .3,.1 .2,0 .2,.1 .3,.1 .2,0 .3,.1 .2,0 .2,.1 .3,.1 .2,0 .3,.1 .2,.1 .2,0 .3,.1 .2,.1 .2,.1 .3,0 .2,.1 .3,.1 .2,0 .2,.1 .3,.1 .2,.1 .2,0 .3,.1 .2,.1 .3,.1 .2,.1 .2,0 .3,.1 .2,.1 .2,.1 .3,.1 .2,0 .3,.1 .2,.1 .2,.1 .3,.1 .2,.1 .2,0 .3,.1 .2,.1 .3,.1 .2,.1 .2,.1 .3,.1 .2,.1 .2,.1 .3,0 .2,.1 .3,.1 .2,.1 .2,.1 .3,.1 .2,.1 .2,.1 .3,.1 .2,.1 .3,.1 .2,.1 .2,.1 .3,.1 .2,.1 .2,.1 .3,.1 .2,.1 .3,.1 .2,.1 .2,.1 .3,.1 .2,.1 .2,.1 .3,.1 .2,.1 .3,.1 .2,.1 .2,.1 .3,.1 .2,.2 .2,.1 .3,.1 .2,.1 .3,.1 .2,.1 .2,.1 .3,.1 .2,.1 .2,.1 .3,.2 .2,.1 .3,.1 .2,.1 .2,.1 .3,.1 .2,.2 .2,.1 .3,.1 .2,.1 .3,.1 .2,.2 .2,.1 .3,.1 .2,.1 .2,.2 .3,.1 .2,.1 .3,.2 .2,.1 .2,.1 .3,.2 .2,.1 .2,.1 .3,.2 .2,.1 .3,.2 .2,.1 .2,.2 .3,.1 .2,.2 .2,.1 .3,.2 .2,.1 .3,.2 .2,.1 .2,.2 .3,.2 .2,.1 .2,.2 .3,.2 .2,.2 .3,.2 .2,.1 .2,.2 .3,.2 .2,.2 .2,.2 .3,.2 .2,.2 .3,.2 .2,.2 .2,.2 .3,.2 .2,.3 .3,.2 .2,.2 .2,.2 .3,.3 .2,.2 .2,.2 .3,.3 .2,.2 .3,.3 .2,.2 .2,.3 .3,.2 .2,.3 .2,.2 .3,.3 .2,.3 .3,.2 .2,.3 .2,.3 .3,.3 .2,.2 .2,.3 .3,.3 .2,.3 .3,.3 .2,.3 .2,.3 .3,.3 .2,.3 .2,.3 .3,.3 .2,.3 .3,.4 .2,.3 .2,.3 .3,.4 .2,.4 .2,.3 .3,.3 .2,.4 .3,.4 .2,.3 .2,.4 .3,.3 .2,.4 .2,.3 .3,.4 .2,.4 .3,.3 .2,.4 .2,.3 .3,.4 .2,.4 .2,.3 .3,.4 .2,.4 .3,.3 .2,.4 .2,.4 .3,.4 .2,.4 .2,.4 .3,.4 .2,.3 .3,.4 .2,.4 .2,.4 .3,.4 .2,.4 .2,.4 .3,.4 .2,.4 .3,.4 .2,.4 .2,.4 .3,.4 .2,.4 .2,.4 .3,.3 .2,.4 .3,.4 .2,.4 .2,.3 .3,.4 .2,.3 .2,.4 .3,.3 .2,.4 .3,.3 .2,.4 .2,.3 .3,.4 .2,.3 .2,.4 .3,.3 .2,.4 .3,.3 .2,.3 .2,.4 .3,.3 .2,.3 .2,.3 .3,.3 .2,.3 .3,.3 .2,.3 .2,.3 .3,.3 .2,.3 .2,.3 .3,.2 .2,.3 .3,.2 .2,.3 .2,.2 .3,.2 .2,.2 .2,.3 .3,.2 .2,.2 .3,.2 .2,.2 .2,.2 .3,.2 .2,.1 .3,.2 .2,.2 .2,.2 .3,.2 .2,.2 .2,.2 .3,.2 .2,.2 .3,.3 .2,.2 .2,.2 .3,.2 .2,.2 .2,.1 .3,.2 .2,.2 .3,.2 .2,.2 .2,.2 .3,.2 .2,.2 .2,.2 .3,.2 .2,.2 .3,.3 .2,.2 .2,.2 .3,.3 .2,.3 .2,.2 .3,.3 .2,.3 .3,.4 .2,.4 .2,.4 .3,.4 .2,.5 .2,.4 .3,.5 .2,.5 .3,.6 .2,.5 .2,.5 .3,.6 .2,.6 .2,.5 .3,.6 .2,.7 .3,.7 .2,.7 .2,.9 .3,.8 .2,.8 .2,.9 .3,.9 .2,.9 .3,1 .2,.9 .2,.9 .3,.9 .2,.9 .2,.9 .3,1.2 .2,1.5 .3,1.5 .2,1.2 .2,1 .3,.5 .2,.5 .2,.4 .3,.7 .2,.8 .3,.8 .2,.9 .2,.7 .3,.8 .2,.6 .2,.7 .3,.6 .2,.5 .3,.5 .2,.4 .2,.3 .3,.2 .2,.1 .2,0 .3,.3 .2,.1 .3,.1 .2-.2 .2,.3 .3,.4 .2,.2 .2-.2 .3-.7 .2-1.2 .3-1.3 .2-1.5 .2-1.4 .3-1.3 .2-1.2 .2-1 .3-.8 .2-.6 .3-.4 .2-.3 .2-.2 .3-.3 .2-.2 .2-.3 .3-.2 .2-.2 .3-.2 .2-.2 .2-.2 .3-.1 .2-.1 .2-.2 .3-.1 .2,0 .3-.1 .2,0 .2,0 .3,0 .2,.1 .2,.1 .3,.2 .2,.1 .3,.3 .2,.3 .2,.3 .3,.4 .2,.5 .3,.5 .2,.5 .2,.5 .3,.6 .2,.5 .2,.5 .3,.4 .2,.5 .3,.4 .2,.5 .2,.6 .3,.6 .2,.8 .2,.8 .3,.9 .2,.8 .3,.9 .2,.8 .2,.8 .3,.8 .2,.7 .2,.6 .3,.5 .2,.5 .3,.4 .2,.3 .2,.3 .3,.2 .2,.1 .2,.2 .3,.2 .2,.3 .3,.2 .2,.2 .2,.2 .3,.1 .2,.2 .2,.1 .3,.1 .2,.1 .3,.1 .2,.1 .2,.2 .3,.1 .2,.2 .2,.1 .3,.1 .2,.2 .3,.1 .2,.1 .2,.2 .3,.1 .2,.2 .2,.1 .3,.2 .2,.3 .3,.2 .2,.5 .2,.7 .3,.8 .2,1.1 .2,1.1 .3,1.3 .2,1.5 .3,1.7 .2,1.7 .2,1.8 .3,1.5 .2,1.3 .2,1.6 .3,2.8 .2,4 .3,4.5 .2,4 .2,2.2 .3-.1 .2-1.7 .2-2.7 .3-1.4 .2,.4 .3,1.2 .2,.4 .2-.4 .3-.8 .2-1.2 .2-1.6 .3-1.8 .2-1.9 .3-1.8 .2-1.9 .2-1.5 .3-1.1 .2-.8 .2-.9 .3-.8 .2-.9 .3-.9 .2-1 .2-.9 .3-.8 .2-.7 .2-.2 .3-.1 .2,.1 .3,.2 .2,.4 .2,.8 .3,.8 .2,.8 .2,.8 .3,.9 .2,.9 .3,.9 .2,.9 .2,1.1 .3,1.6 .2,2.2 .2,3.1 .3,3.7 .2,3.1 .3,1.5 .2,1.1" stroke="#ff0000"/>
<path d="M322.3,16.9l.2,0 .3,0 .2,0 .3,0 .2,0 .2,0 .3,0 .2,0 .2,0 .3,0 .2,.1 .3,0 .2,0 .2,0 .3,0 .2,0 .2,0 .3,0 .2,0 .3,0 .2,0 .2,0 .3,0 .2,0 .2,0 .3,0 .2,0 .3,0 .2,0 .2,0 .3,0 .2,0 .2,0 .3,.1 .2,0 .3,0 .2,0 .2,0 .3,0 .2,0 .2,0 .3,0 .2,0 .3,0 .2,0 .2,0 .3,0 .2,0 .2,0 .3,0 .2,0 .3,0 .2,0 .2,0 .3,0 .2,0 .2,0 .3,0 .2,.1 .3,0 .2,0 .2,0 .3,0 .2,0 .2,0 .3,0 .2,0 .3,0 .2,0 .2,0 .3,0 .2,0 .2,0 .3,0 .2,0 .3,0 .2,0 .2,0 .3,0 .2,0 .2,.1 .3,0 .2,0 .3,0 .2,0 .2,0 .3,0 .2,0 .2,0 .3,0 .2,0 .3,0 .2,0 .2,0 .3,0 .2,0 .2,0 .3,.1 .2,0 .3,0 .2,0 .2,0 .3,0 .2,0 .2,0 .3,0 .2,0 .3,0 .2,0 .2,0 .3,.1 .2,0 .2,0 .3,0 .2,0 .3,0 .2,0 .2,0 .3,0 .2,0 .2,0 .3,0 .2,.1 .3,0 .2,0 .2,0 .3,0 .2,0 .3,0 .2,0 .2,0 .3,0 .2,0 .2,.1 .3,0 .2,0 .3,0 .2,0 .2,0 .3,0 .2,0 .2,0 .3,0 .2,0 .3,0 .2,.1 .2,0 .3,0 .2,0 .2,0 .3,0 .2,0 .3,0 .2,0 .2,0 .3,.1 .2,0 .2,0 .3,0 .2,0 .3,0 .2,0 .2,0 .3,0 .2,.1 .2,0 .3,0 .2,0 .3,0 .2,0 .2,0 .3,.1 .2,0 .2,0 .3,0 .2,0 .3,0 .2,0 .2,.1 .3,0 .2,0 .2,0 .3,0 .2,0 .3,.1 .2,0 .2,0 .3,0 .2,0 .2,.1 .3,0 .2,0 .3,0 .2,0 .2,.1 .3,0 .2,0 .2,0 .3,.1 .2,0 .3,0 .2,0 .2,.1 .3,0 .2,0 .2,0 .3,.1 .2,0 .3,0 .2,0 .2,.1 .3,0 .2,0 .2,.1 .3,0 .2,0 .3,0 .2,.1 .2,0 .3,0 .2,.1 .2,0 .3,0 .2,.1 .3,0 .2,0 .2,0 .3,.1 .2,0 .2,0 .3,.1 .2,0 .3,0 .2,.1 .2,0 .3,0 .2,.1 .2,0 .3,0 .2,.1 .3,0 .2,0 .2,.1 .3,0 .2,.1 .2,0 .3,0 .2,.1 .3,0 .2,0 .2,.1 .3,0 .2,0 .2,.1 .3,0 .2,.1 .3,0 .2,0 .2,.1 .3,0 .2,0 .3,.1 .2,0 .2,.1 .3,0 .2,0 .2,.1 .3,0 .2,0 .3,.1 .2,0 .2,.1 .3,0 .2,0 .2,.1 .3,0 .2,.1 .3,0 .2,0 .2,.1 .3,0 .2,0 .2,.1 .3,0 .2,.1 .3,0 .2,0 .2,.1 .3,0 .2,.1 .2,0 .3,0 .2,.1 .3,0 .2,.1 .2,0 .3,0 .2,.1 .2,0 .3,.1 .2,0 .3,0 .2,.1 .2,0 .3,.1 .2,0 .2,0 .3,.1 .2,0 .3,.1 .2,0 .2,0 .3,.1 .2,0 .2,0 .3,.1 .2,0 .3,.1 .2,0 .2,0 .3,.1 .2,0 .2,0 .3,.1 .2,0 .3,0 .2,.1 .2,0 .3,0 .2,.1 .2,0 .3,0 .2,.1 .3,0 .2,.1 .2,0 .3,0 .2,.1 .2,0 .3,0 .2,.1 .3,0 .2,0 .2,.1 .3,0 .2,.1 .2,0 .3,0 .2,.1 .3,0 .2,.1 .2,0 .3,0 .2,.1 .2,0 .3,.1 .2,0 .3,.1 .2,0 .2,.1 .3,0 .2,.1 .2,0 .3,.1 .2,0 .3,.1 .2,0 .2,.1 .3,0 .2,.1 .2,0 .3,.1 .2,.1 .3,0 .2,.1 .2,.1 .3,0 .2,.1 .2,.1 .3,0 .2,.1 .3,.1 .2,0 .2,.1 .3,.1 .2,.1 .3,0 .2,.1 .2,.1 .3,.1 .2,0 .2,.1 .3,.1 .2,.1 .3,.1 .2,0 .2,.1 .3,.1 .2,.1 .2,.1 .3,.1 .2,0 .3,.1 .2,.1 .2,.1 .3,.1 .2,.1 .2,.1 .3,.1 .2,0 .3,.1 .2,.1 .2,.1 .3,.1 .2,.1 .2,.1 .3,.1 .2,.1 .3,.1 .2,.1 .2,.1 .3,.1 .2,.1 .2,.1 .3,.1 .2,.1 .3,.1 .2,.1 .2,.1 .3,.1 .2,.1 .2,.1 .3,.2 .2,.1 .3,.1 .2,.1 .2,.1 .3,.1 .2,.1 .2,.2 .3,.1 .2,.1 .3,.1 .2,.1 .2,.2 .3,.1 .2,.1 .2,.1 .3,.2 .2,.1 .3,.1 .2,.2 .2,.1 .3,.2 .2,.1 .2,.1 .3,.2 .2,.1 .3,.2 .2,.1 .2,.2 .3,.1 .2,.2 .2,.2 .3,.1 .2,.2 .3,.2 .2,.2 .2,.1 .3,.2 .2,.2 .2,.2 .3,.2 .2,.2 .3,.2 .2,.2 .2,.2 .3,.2 .2,.2 .2,.2 .3,.2 .2,.2 .3,.2 .2,.2 .2,.2 .3,.3 .2,.2 .2,.2 .3,.2 .2,.3 .3,.2 .2,.2 .2,.3 .3,.2 .2,.2 .2,.3 .3,.2 .2,.2 .3,.3 .2,.2 .2,.2 .3,.3 .2,.2 .2,.3 .3,.2 .2,.2 .3,.3 .2,.2 .2,.2 .3,.3 .2,.2 .2,.2 .3,.3 .2,.2 .3,.3 .2,.2 .2,.3 .3,.2 .2,.3 .3,.2 .2,.3 .2,.2 .3,.3 .2,.2 .2,.3 .3,.2 .2,.3 .3,.3 .2,.2 .2,.3 .3,.3 .2,.3 .2,.2 .3,.3 .2,.3 .3,.3 .2,.3 .2,.3 .3,.2 .2,.3 .2,.3 .3,.3 .2,.3 .3,.3 .2,.3 .2,.4 .3,.3 .2,.3 .2,.3 .3,.4 .2,.3 .3,.3 .2,.4 .2,.3 .3,.4 .2,.3 .2,.4 .3,.3 .2,.4 .3,.3 .2,.4 .2,.3 .3,.4 .2,.3 .2,.4 .3,.3 .2,.4 .3,.3 .2,.3 .2,.4 .3,.3 .2,.3 .2,.3 .3,.3 .2,.4 .3,.3 .2,.3 .2,.3 .3,.3 .2,.3 .2,.3 .3,.3 .2,.3 .3,.3 .2,.3 .2,.3 .3,.3 .2,.3 .2,.3 .3,.3 .2,.2 .3,.3 .2,.3 .2,.3 .3,.3 .2,.3 .2,.2 .3,.3 .2,.3 .3,.3 .2,.2 .2,.3 .3,.3 .2,.2 .2,.3 .3,.2 .2,.3 .3,.3 .2,.2 .2,.3 .3,.2 .2,.2 .2,.3 .3,.2 .2,.2 .3,.2 .2,.3 .2,.2 .3,.2 .2,.2 .2,.2 .3,.2 .2,.3 .3,.2 .2,.2 .2,.2 .3,.2 .2,.2 .2,.2 .3,.3 .2,.2 .3,.2 .2,.2 .2,.2 .3,.3 .2,.2 .2,.2 .3,.2 .2,.3 .3,.2 .2,.3 .2,.2 .3,.3 .2,.3 .3,.2 .2,.3 .2,.3 .3,.3 .2,.3 .2,.3 .3,.3 .2,.3 .3,.3 .2,.4 .2,.3 .3,.3 .2,.3 .2,.4 .3,.3 .2,.3 .3,.4 .2,.3 .2,.3 .3,.3 .2,.3 .2,.3 .3,.3 .2,.3 .3,.3 .2,.3 .2,.3 .3,.2 .2,.3 .2,.3 .3,.3 .2,.3 .3,.3 .2,.3 .2,.4 .3,.3 .2,.4 .2,.3 .3,.4 .2,.4 .3,.4 .2,.5 .2,.5 .3,.5 .2,.6 .2,.6 .3,.6 .2,.7 .3,.8 .2,.7 .2,.8 .3,.8 .2,.9 .2,.9 .3,.9 .2,.9 .3,.9 .2,.9 .2,.9 .3,.8 .2,.9 .2,.8 .3,.9 .2,.7 .3,.8 .2,.7 .2,.8 .3,.8 .2,.8 .2,.8 .3,.8 .2,.9 .3,.8 .2,.8 .2,.9 .3,.8 .2,.8 .2,.7 .3,.8 .2,.7 .3,.7 .2,.6 .2,.6 .3,.5 .2,.4 .2,.4 .3,.3 .2,.1 .3,.1 .2-.2 .2-.3 .3-.6 .2-.8 .2-.9 .3-1.1 .2-1.2 .3-1.1 .2-1 .2-.9 .3-.8 .2-.6 .2-.6 .3-.4 .2-.4 .3-.3 .2-.3 .2-.2 .3-.3 .2-.3 .2-.2 .3-.2 .2-.2 .3-.2 .2-.2 .2-.2 .3-.2 .2-.1 .2-.1 .3-.1 .2-.1 .3-.1 .2,0 .2,0 .3,0 .2,.1 .2,.1 .3,.2 .2,.2 .3,.2 .2,.2 .2,.4 .3,.3 .2,.3 .3,.4 .2,.4 .2,.4 .3,.4 .2,.5 .2,.4 .3,.5 .2,.4 .3,.5 .2,.4 .2,.4 .3,.5 .2,.5 .2,.5 .3,.6 .2,.6 .3,.6 .2,.6 .2,.6 .3,.7 .2,.6 .2,.7 .3,.6 .2,.6 .3,.5 .2,.6 .2,.5 .3,.5 .2,.4 .2,.3 .3,.4 .2,.3 .3,.3 .2,.2 .2,.3 .3,.2 .2,.2 .2,.2 .3,.1 .2,.2 .3,.2 .2,.2 .2,.2 .3,.1 .2,.2 .2,.2 .3,.2 .2,.2 .3,.2 .2,.1 .2,.2 .3,.2 .2,.1 .2,.2 .3,.2 .2,.2 .3,.3 .2,.2 .2,.4 .3,.4 .2,.5 .2,.7 .3,.8 .2,.9 .3,1.1 .2,1.3 .2,1.6 .3,1.7 .2,1.7 .2,1.5 .3,1.7 .2,2 .3,2.4 .2,2.7 .2,2.6 .3,2.3 .2,1.7 .2,1 .3,.4 .2-.3 .3-.7 .2-1.1 .2-1.3 .3-1.5 .2-1.6 .2-1.5 .3-1.5 .2-1.4 .3-1.3 .2-1.1 .2-.9 .3-.7 .2-.8 .2-.8 .3-.7 .2-.7 .3-.6 .2-.6 .2-.5 .3-.4 .2-.4 .2-.2 .3-.1 .2,.1 .3,.2 .2,.3 .2,.3 .3,.5 .2,.5 .2,.6 .3,.7 .2,.6 .3,.8 .2,.7 .2,.8 .3,.9 .2,1 .2,1.3 .3,1.8 .2,2.1 .3,2.2 .2,1.9" stroke="#00ee00"/>
<path d="M322.3,17l.2,0 .3,0 .2,0 .3,0 .2,0 .2,0 .3,0 .2,.1 .2,0 .3,0 .2,0 .3,0 .2,0 .2,0 .3,0 .2,0 .2,0 .3,0 .2,0 .3,0 .2,0 .2,0 .3,0 .2,0 .2,.1 .3,0 .2,0 .3,0 .2,0 .2,0 .3,0 .2,0 .2,0 .3,0 .2,0 .3,0 .2,0 .2,0 .3,0 .2,0 .2,0 .3,0 .2,.1 .3,0 .2,0 .2,0 .3,0 .2,0 .2,0 .3,0 .2,0 .3,0 .2,0 .2,0 .3,0 .2,0 .2,0 .3,0 .2,0 .3,0 .2,.1 .2,0 .3,0 .2,0 .2,0 .3,0 .2,0 .3,0 .2,0 .2,0 .3,0 .2,0 .2,0 .3,0 .2,0 .3,0 .2,.1 .2,0 .3,0 .2,0 .2,0 .3,0 .2,0 .3,0 .2,0 .2,0 .3,0 .2,0 .2,0 .3,0 .2,.1 .3,0 .2,0 .2,0 .3,0 .2,0 .2,0 .3,0 .2,0 .3,0 .2,0 .2,0 .3,.1 .2,0 .2,0 .3,0 .2,0 .3,0 .2,0 .2,0 .3,0 .2,.1 .2,0 .3,0 .2,0 .3,0 .2,0 .2,0 .3,0 .2,0 .2,.1 .3,0 .2,0 .3,0 .2,0 .2,0 .3,0 .2,0 .3,0 .2,.1 .2,0 .3,0 .2,0 .2,0 .3,0 .2,0 .3,0 .2,0 .2,.1 .3,0 .2,0 .2,0 .3,0 .2,0 .3,0 .2,0 .2,.1 .3,0 .2,0 .2,0 .3,0 .2,0 .3,0 .2,0 .2,.1 .3,0 .2,0 .2,0 .3,0 .2,0 .3,0 .2,.1 .2,0 .3,0 .2,0 .2,0 .3,0 .2,.1 .3,0 .2,0 .2,0 .3,0 .2,.1 .2,0 .3,0 .2,0 .3,0 .2,0 .2,.1 .3,0 .2,0 .2,0 .3,.1 .2,0 .3,0 .2,0 .2,0 .3,.1 .2,0 .2,0 .3,0 .2,.1 .3,0 .2,0 .2,0 .3,.1 .2,0 .2,0 .3,.1 .2,0 .3,0 .2,0 .2,.1 .3,0 .2,0 .2,.1 .3,0 .2,0 .3,0 .2,.1 .2,0 .3,0 .2,.1 .2,0 .3,0 .2,.1 .3,0 .2,0 .2,0 .3,.1 .2,0 .2,0 .3,.1 .2,0 .3,0 .2,.1 .2,0 .3,0 .2,.1 .2,0 .3,0 .2,.1 .3,0 .2,0 .2,.1 .3,0 .2,0 .2,.1 .3,0 .2,0 .3,.1 .2,0 .2,.1 .3,0 .2,0 .2,.1 .3,0 .2,0 .3,.1 .2,0 .2,.1 .3,0 .2,0 .2,.1 .3,0 .2,0 .3,.1 .2,0 .2,.1 .3,0 .2,0 .3,.1 .2,0 .2,.1 .3,0 .2,.1 .2,0 .3,0 .2,.1 .3,0 .2,.1 .2,0 .3,.1 .2,0 .2,.1 .3,0 .2,0 .3,.1 .2,0 .2,.1 .3,0 .2,.1 .2,0 .3,.1 .2,0 .3,.1 .2,0 .2,.1 .3,0 .2,.1 .2,0 .3,.1 .2,.1 .3,0 .2,.1 .2,0 .3,.1 .2,0 .2,.1 .3,0 .2,.1 .3,.1 .2,0 .2,.1 .3,0 .2,.1 .2,.1 .3,0 .2,.1 .3,.1 .2,0 .2,.1 .3,.1 .2,0 .2,.1 .3,.1 .2,0 .3,.1 .2,.1 .2,0 .3,.1 .2,.1 .2,0 .3,.1 .2,.1 .3,.1 .2,0 .2,.1 .3,.1 .2,0 .2,.1 .3,.1 .2,.1 .3,.1 .2,0 .2,.1 .3,.1 .2,.1 .2,0 .3,.1 .2,.1 .3,.1 .2,.1 .2,.1 .3,0 .2,.1 .2,.1 .3,.1 .2,.1 .3,.1 .2,.1 .2,.1 .3,0 .2,.1 .2,.1 .3,.1 .2,.1 .3,.1 .2,.1 .2,.1 .3,.1 .2,.1 .2,.1 .3,.1 .2,.1 .3,.1 .2,.1 .2,.1 .3,.1 .2,.1 .2,.1 .3,.1 .2,.1 .3,.1 .2,.1 .2,.1 .3,.1 .2,.1 .2,.1 .3,.1 .2,.1 .3,.1 .2,.1 .2,.2 .3,.1 .2,.1 .3,.1 .2,.1 .2,.1 .3,.1 .2,.2 .2,.1 .3,.1 .2,.1 .3,.1 .2,.2 .2,.1 .3,.1 .2,.1 .2,.1 .3,.2 .2,.1 .3,.1 .2,.1 .2,.2 .3,.1 .2,.1 .2,.1 .3,.2 .2,.1 .3,.1 .2,.2 .2,.1 .3,.1 .2,.2 .2,.1 .3,.1 .2,.2 .3,.1 .2,.1 .2,.2 .3,.1 .2,.1 .2,.2 .3,.1 .2,.2 .3,.1 .2,.1 .2,.2 .3,.1 .2,.2 .2,.1 .3,.2 .2,.1 .3,.1 .2,.2 .2,.1 .3,.2 .2,.1 .2,.2 .3,.1 .2,.2 .3,.1 .2,.2 .2,.1 .3,.2 .2,.2 .2,.1 .3,.2 .2,.1 .3,.2 .2,.1 .2,.2 .3,.2 .2,.1 .2,.2 .3,.1 .2,.2 .3,.2 .2,.1 .2,.2 .3,.2 .2,.1 .2,.2 .3,.2 .2,.2 .3,.1 .2,.2 .2,.2 .3,.1 .2,.2 .2,.2 .3,.2 .2,.2 .3,.1 .2,.2 .2,.2 .3,.2 .2,.2 .2,.2 .3,.2 .2,.2 .3,.2 .2,.2 .2,.1 .3,.2 .2,.2 .2,.2 .3,.2 .2,.3 .3,.2 .2,.2 .2,.2 .3,.2 .2,.2 .2,.2 .3,.2 .2,.3 .3,.2 .2,.2 .2,.2 .3,.3 .2,.2 .2,.2 .3,.3 .2,.2 .3,.3 .2,.2 .2,.3 .3,.2 .2,.3 .2,.2 .3,.3 .2,.3 .3,.2 .2,.3 .2,.3 .3,.2 .2,.3 .3,.3 .2,.3 .2,.3 .3,.3 .2,.3 .2,.3 .3,.3 .2,.3 .3,.4 .2,.3 .2,.3 .3,.3 .2,.4 .2,.3 .3,.4 .2,.3 .3,.3 .2,.4 .2,.3 .3,.4 .2,.4 .2,.3 .3,.4 .2,.4 .3,.3 .2,.4 .2,.4 .3,.5 .2,.4 .2,.4 .3,.5 .2,.4 .3,.5 .2,.4 .2,.5 .3,.4 .2,.5 .2,.5 .3,.5 .2,.4 .3,.5 .2,.5 .2,.4 .3,.5 .2,.4 .2,.5 .3,.4 .2,.4 .3,.5 .2,.4 .2,.4 .3,.4 .2,.4 .2,.3 .3,.4 .2,.4 .3,.3 .2,.4 .2,.3 .3,.3 .2,.3 .2,.4 .3,.3 .2,.3 .3,.3 .2,.3 .2,.3 .3,.3 .2,.3 .2,.3 .3,.3 .2,.3 .3,.2 .2,.3 .2,.3 .3,.3 .2,.3 .2,.2 .3,.3 .2,.3 .3,.2 .2,.3 .2,.3 .3,.2 .2,.3 .2,.3 .3,.2 .2,.3 .3,.3 .2,.2 .2,.3 .3,.2 .2,.3 .2,.3 .3,.2 .2,.2 .3,.3 .2,.2 .2,.3 .3,.2 .2,.2 .2,.3 .3,.2 .2,.2 .3,.2 .2,.3 .2,.2 .3,.2 .2,.2 .2,.2 .3,.3 .2,.2 .3,.2 .2,.2 .2,.2 .3,.2 .2,.2 .2,.1 .3,.2 .2,.2 .3,.2 .2,.2 .2,.2 .3,.2 .2,.2 .3,.1 .2,.2 .2,.2 .3,.2 .2,.2 .2,.2 .3,.2 .2,.2 .3,.1 .2,.2 .2,.2 .3,.2 .2,.2 .2,.2 .3,.3 .2,.2 .3,.2 .2,.2 .2,.2 .3,.3 .2,.2 .2,.2 .3,.2 .2,.3 .3,.2 .2,.2 .2,.3 .3,.2 .2,.2 .2,.3 .3,.2 .2,.3 .3,.2 .2,.3 .2,.3 .3,.3 .2,.3 .2,.3 .3,.4 .2,.4 .3,.4 .2,.4 .2,.5 .3,.5 .2,.5 .2,.7 .3,.6 .2,.7 .3,.8 .2,.8 .2,.8 .3,.9 .2,1 .2,1 .3,1 .2,1 .3,1.1 .2,1 .2,1.1 .3,.9 .2,1 .2,.9 .3,.9 .2,.9 .3,.9 .2,.9 .2,1 .3,.9 .2,1 .2,.9 .3,.9 .2,.9 .3,.8 .2,.7 .2,.7 .3,.7 .2,.6 .2,.6 .3,.6 .2,.6 .3,.5 .2,.6 .2,.5 .3,.5 .2,.4 .2,.3 .3,.2 .2,.2 .3,0 .2-.2 .2-.4 .3-.6 .2-.9 .2-1 .3-1.1 .2-1.1 .3-1.1 .2-1.1 .2-.8 .3-.8 .2-.7 .2-.5 .3-.5 .2-.4 .3-.3 .2-.3 .2-.3 .3-.3 .2-.3 .2-.3 .3-.2 .2-.2 .3-.3 .2-.2 .2-.2 .3-.2 .2-.1 .2-.2 .3-.1 .2-.1 .3,0 .2-.1 .2,0 .3,0 .2,.1 .2,.1 .3,.2 .2,.1 .3,.3 .2,.2 .2,.3 .3,.3 .2,.4 .3,.3 .2,.4 .2,.4 .3,.5 .2,.4 .2,.5 .3,.5 .2,.5 .3,.5 .2,.6 .2,.5 .3,.7 .2,.8 .2,1 .3,1.2 .2,1.5 .3,1.6 .2,1.6 .2,1.3 .3,1.1 .2,.9 .2,.6 .3,.6 .2,.4 .3,.4 .2,.3 .2,.3 .3,.1 .2,.2 .2,.1 .3,.1 .2,.1 .3,.1 .2,.1 .2,.1 .3,0 .2,.1 .2,.1 .3,.1 .2,.1 .3,.1 .2,.1 .2,.1 .3,.2 .2,.1 .2,.2 .3,.3 .2,.3 .3,.3 .2,.4 .2,.3 .3,.4 .2,.5 .2,.4 .3,.5 .2,.6 .3,.6 .2,.6 .2,.6 .3,.7 .2,.7 .2,.8 .3,.7 .2,.8 .3,.9 .2,1 .2,1.3 .3,1.5 .2,1.6 .2,1.9 .3,1.9 .2,2 .3,1.9 .2,1.7 .2,1.5 .3,1.2 .2,.8 .2,.4 .3,.3 .2-.3 .3-.3 .2-.9 .2-.8 .3-1.2 .2-1.2 .2-1.3 .3-1.4 .2-1.5 .3-1.5 .2-1.4 .2-1.5 .3-1.4 .2-1.3 .2-1.2 .3-1.1 .2-1 .3-.8 .2-.7 .2-.3 .3-.3 .2,.1 .2,.2 .3,.5 .2,.4 .3,.6 .2,.7 .2,.8 .3,.8 .2,.9 .2,.9 .3,1 .2,.9 .3,1.1 .2,1 .2,1.1 .3,1.1 .2,1 .2,1 .3,1 .2,1 .3,1.2 .2,1.1" stroke="#0000dd"/>
<path d="M322.3,17l.2,0 .3,0 .2,0 .3,0 .2,0 .2,0 .3,.1 .2,0 .2,0 .3,0 .2,0 .3,0 .2,0 .2,0 .3,0 .2,0 .2,0 .3,0 .2,0 .3,.1 .2,0 .2,0 .3,0 .2,0 .2,0 .3,0 .2,0 .3,0 .2,0 .2,0 .3,0 .2,0 .2,0 .3,.1 .2,0 .3,0 .2,0 .2,0 .3,0 .2,0 .2,0 .3,0 .2,0 .3,0 .2,0 .2,0 .3,0 .2,.1 .2,0 .3,0 .2,0 .3,0 .2,0 .2,0 .3,0 .2,0 .2,0 .3,0 .2,0 .3,0 .2,0 .2,.1 .3,0 .2,0 .2,0 .3,0 .2,0 .3,0 .2,0 .2,0 .3,0 .2,0 .2,0 .3,0 .2,.1 .3,0 .2,0 .2,0 .3,0 .2,0 .2,0 .3,0 .2,0 .3,0 .2,0 .2,0 .3,.1 .2,0 .2,0 .3,0 .2,0 .3,0 .2,0 .2,0 .3,0 .2,0 .2,.1 .3,0 .2,0 .3,0 .2,0 .2,0 .3,0 .2,0 .2,0 .3,.1 .2,0 .3,0 .2,0 .2,0 .3,0 .2,0 .2,.1 .3,0 .2,0 .3,0 .2,0 .2,0 .3,0 .2,0 .2,.1 .3,0 .2,0 .3,0 .2,0 .2,0 .3,0 .2,.1 .3,0 .2,0 .2,0 .3,0 .2,0 .2,0 .3,.1 .2,0 .3,0 .2,0 .2,0 .3,0 .2,.1 .2,0 .3,0 .2,0 .3,0 .2,0 .2,0 .3,.1 .2,0 .2,0 .3,0 .2,0 .3,0 .2,.1 .2,0 .3,0 .2,0 .2,0 .3,.1 .2,0 .3,0 .2,0 .2,0 .3,0 .2,.1 .2,0 .3,0 .2,0 .3,.1 .2,0 .2,0 .3,0 .2,0 .2,.1 .3,0 .2,0 .3,0 .2,.1 .2,0 .3,0 .2,0 .2,.1 .3,0 .2,0 .3,0 .2,.1 .2,0 .3,0 .2,0 .2,.1 .3,0 .2,0 .3,.1 .2,0 .2,0 .3,.1 .2,0 .2,0 .3,0 .2,.1 .3,0 .2,0 .2,.1 .3,0 .2,0 .2,.1 .3,0 .2,0 .3,.1 .2,0 .2,0 .3,.1 .2,0 .2,.1 .3,0 .2,0 .3,.1 .2,0 .2,0 .3,.1 .2,0 .2,0 .3,.1 .2,0 .3,.1 .2,0 .2,0 .3,.1 .2,0 .2,0 .3,.1 .2,0 .3,.1 .2,0 .2,0 .3,.1 .2,0 .2,.1 .3,0 .2,0 .3,.1 .2,0 .2,.1 .3,0 .2,.1 .2,0 .3,0 .2,.1 .3,0 .2,.1 .2,0 .3,.1 .2,0 .2,0 .3,.1 .2,0 .3,.1 .2,0 .2,.1 .3,0 .2,.1 .3,0 .2,.1 .2,0 .3,0 .2,.1 .2,0 .3,.1 .2,0 .3,.1 .2,0 .2,.1 .3,0 .2,.1 .2,0 .3,.1 .2,0 .3,.1 .2,0 .2,.1 .3,0 .2,.1 .2,.1 .3,0 .2,.1 .3,0 .2,.1 .2,0 .3,.1 .2,0 .2,.1 .3,.1 .2,0 .3,.1 .2,0 .2,.1 .3,0 .2,.1 .2,.1 .3,0 .2,.1 .3,.1 .2,0 .2,.1 .3,0 .2,.1 .2,.1 .3,0 .2,.1 .3,.1 .2,0 .2,.1 .3,.1 .2,0 .2,.1 .3,.1 .2,0 .3,.1 .2,.1 .2,0 .3,.1 .2,.1 .2,0 .3,.1 .2,.1 .3,0 .2,.1 .2,.1 .3,0 .2,.1 .2,.1 .3,0 .2,.1 .3,.1 .2,.1 .2,0 .3,.1 .2,.1 .2,.1 .3,0 .2,.1 .3,.1 .2,.1 .2,0 .3,.1 .2,.1 .2,.1 .3,.1 .2,0 .3,.1 .2,.1 .2,.1 .3,.1 .2,.1 .2,.1 .3,.1 .2,0 .3,.1 .2,.1 .2,.1 .3,.1 .2,.1 .2,.1 .3,.1 .2,.1 .3,.1 .2,.1 .2,.1 .3,.1 .2,.1 .2,.1 .3,.2 .2,.1 .3,.1 .2,.1 .2,.1 .3,.1 .2,.1 .2,.2 .3,.1 .2,.1 .3,.1 .2,.2 .2,.1 .3,.1 .2,.2 .3,.1 .2,.1 .2,.2 .3,.1 .2,.1 .2,.2 .3,.1 .2,.2 .3,.1 .2,.2 .2,.1 .3,.2 .2,.1 .2,.2 .3,.1 .2,.2 .3,.1 .2,.2 .2,.1 .3,.2 .2,.2 .2,.1 .3,.2 .2,.2 .3,.1 .2,.2 .2,.2 .3,.1 .2,.2 .2,.2 .3,.2 .2,.1 .3,.2 .2,.2 .2,.2 .3,.1 .2,.2 .2,.2 .3,.2 .2,.2 .3,.2 .2,.1 .2,.2 .3,.2 .2,.2 .2,.2 .3,.2 .2,.2 .3,.2 .2,.2 .2,.1 .3,.2 .2,.2 .2,.2 .3,.2 .2,.2 .3,.2 .2,.2 .2,.2 .3,.2 .2,.2 .2,.3 .3,.2 .2,.2 .3,.2 .2,.2 .2,.2 .3,.2 .2,.2 .2,.2 .3,.2 .2,.2 .3,.3 .2,.2 .2,.2 .3,.2 .2,.2 .2,.3 .3,.2 .2,.2 .3,.2 .2,.3 .2,.2 .3,.2 .2,.2 .2,.3 .3,.2 .2,.2 .3,.3 .2,.2 .2,.3 .3,.2 .2,.2 .2,.3 .3,.2 .2,.3 .3,.2 .2,.3 .2,.3 .3,.2 .2,.3 .2,.2 .3,.3 .2,.3 .3,.3 .2,.2 .2,.3 .3,.3 .2,.3 .2,.3 .3,.3 .2,.3 .3,.3 .2,.3 .2,.3 .3,.3 .2,.3 .2,.3 .3,.4 .2,.3 .3,.3 .2,.3 .2,.4 .3,.4 .2,.3 .2,.4 .3,.3 .2,.4 .3,.4 .2,.4 .2,.4 .3,.4 .2,.4 .3,.4 .2,.5 .2,.4 .3,.4 .2,.5 .2,.5 .3,.4 .2,.5 .3,.5 .2,.4 .2,.5 .3,.5 .2,.5 .2,.5 .3,.5 .2,.5 .3,.6 .2,.5 .2,.5 .3,.5 .2,.5 .2,.6 .3,.5 .2,.5 .3,.6 .2,.6 .2,.5 .3,.6 .2,.6 .2,.6 .3,.6 .2,.6 .3,.6 .2,.7 .2,.6 .3,.7 .2,.6 .2,.7 .3,.6 .2,.7 .3,.7 .2,.6 .2,.7 .3,.7 .2,.7 .2,.6 .3,.7 .2,.7 .3,.7 .2,.6 .2,.8 .3,.7 .2,.8 .2,.8 .3,.7 .2,.8 .3,.8 .2,.7 .2,.7 .3,.6 .2,.6 .2,.6 .3,.5 .2,.5 .3,.5 .2,.4 .2,.5 .3,.4 .2,.4 .2,.3 .3,.3 .2,.3 .3,.3 .2,.2 .2,.2 .3,.2 .2,.1 .2,.2 .3,.1 .2,.1 .3,.2 .2,0 .2,.1 .3,.1 .2,0 .2,.1 .3,0 .2,0 .3,0 .2,0 .2,0 .3-.1 .2,0 .2-.1 .3,0 .2-.1 .3-.1 .2,0 .2-.1 .3-.1 .2,0 .2-.1 .3-.1 .2-.1 .3,0 .2-.1 .2-.1 .3,0 .2-.1 .2-.1 .3,0 .2-.1 .3,0 .2-.1 .2,0 .3,0 .2,0 .2,0 .3,0 .2,0 .3,0 .2,0 .2,0 .3,0 .2,0 .3,.1 .2,0 .2,0 .3,0 .2,.1 .2,0 .3,0 .2,.1 .3,0 .2,.1 .2,0 .3,0 .2,.1 .2,0 .3,.1 .2,0 .3,0 .2,.1 .2,0 .3,.1 .2,0 .2,0 .3,.1 .2,0 .3,.1 .2,.1 .2,.1 .3,.1 .2,.1 .2,.1 .3,.2 .2,.1 .3,.2 .2,.2 .2,.3 .3,.3 .2,.3 .2,.3 .3,.4 .2,.4 .3,.4 .2,.5 .2,.5 .3,.6 .2,.6 .2,.8 .3,.7 .2,.9 .3,.9 .2,1 .2,1 .3,1.1 .2,1.1 .2,1.1 .3,1.1 .2,1 .3,1.1 .2,1.2 .2,1.3 .3,1.4 .2,1.5 .2,1.5 .3,1.4 .2,1.3 .3,1.3 .2,1 .2,1 .3,.8 .2,.9 .2,.8 .3,.9 .2,.8 .3,.8 .2,.6 .2,.6 .3,.6 .2,.4 .2,.2 .3,.2 .2,.1 .3-.1 .2-.2 .2-.3 .3-.5 .2-.5 .2-.5 .3-.6 .2-.7 .3-.6 .2-.6 .2-.6 .3-.6 .2-.6 .2-.5 .3-.5 .2-.5 .3-.4 .2-.3 .2-.3 .3-.3 .2-.2 .2-.2 .3-.2 .2-.2 .3-.2 .2-.2 .2-.2 .3-.2 .2-.1 .2-.2 .3-.1 .2-.2 .3-.1 .2-.1 .2-.2 .3-.1 .2-.1 .2-.1 .3,0 .2-.1 .3,0 .2,0 .2,0 .3,0 .2,.1 .2,.2 .3,.2 .2,.2 .3,.3 .2,.4 .2,.5 .3,.6 .2,.7 .3,.8 .2,.8 .2,1.1 .3,1 .2,1.2 .2,1.1 .3,1.1 .2,1 .3,1 .2,1.1 .2,1.4 .3,1.6 .2,1.8 .2,2 .3,1.9 .2,1.7 .3,1.4 .2,1.1 .2,.7 .3,.6 .2,.2 .2,.2 .3,0 .2-.2 .3-.2 .2-.3 .2-.4 .3-.3 .2-.3 .2-.4 .3-.3 .2-.2 .3-.2 .2-.1 .2-.1 .3,0 .2,0 .2,0 .3,0 .2,.1 .3,0 .2,.1 .2,.1 .3,.1 .2,.2 .2,.2 .3,.2 .2,.2 .3,.3 .2,.3 .2,.4 .3,.5 .2,.4 .2,.6 .3,.5 .2,.6 .3,.6 .2,.6 .2,.6 .3,.7 .2,.6 .2,.6 .3,.7 .2,.8 .3,.9 .2,.9 .2,1 .3,1.1 .2,1 .2,1 .3,1 .2,1 .3,.8 .2,.8 .2,.7 .3,.5 .2,.4 .2,.2 .3,.2 .2-.2 .3-.2 .2-.5 .2-.6 .3-.7 .2-.8 .2-.9 .3-.9 .2-1 .3-1 .2-1 .2-1.1 .3-1 .2-.9 .2-1 .3-.8 .2-.8 .3-.5 .2-.6 .2-.3 .3-.2 .2,.1 .2,.2 .3,.2 .2,.5 .3,.5 .2,.5 .2,.7 .3,.7 .2,.8 .2,.8 .3,.9 .2,.9 .3,.9 .2,.9 .2,1 .3,1.1 .2,1.3 .2,1.6 .3,1.7 .2,1.9 .3,1.8 .2,1.6" stroke="#ff00ff"/>
<path d="M322.3,17.1l.2,0 .3,0 .2,0 .3,0 .2,0 .2,.1 .3,0 .2,0 .2,0 .3,0 .2,0 .3,0 .2,0 .2,0 .3,0 .2,0 .2,0 .3,.1 .2,0 .3,0 .2,0 .2,0 .3,0 .2,0 .2,0 .3,0 .2,0 .3,0 .2,0 .2,0 .3,.1 .2,0 .2,0 .3,0 .2,0 .3,0 .2,0 .2,0 .3,0 .2,0 .2,0 .3,0 .2,0 .3,0 .2,.1 .2,0 .3,0 .2,0 .2,0 .3,0 .2,0 .3,0 .2,0 .2,0 .3,0 .2,0 .2,0 .3,.1 .2,0 .3,0 .2,0 .2,0 .3,0 .2,0 .2,0 .3,0 .2,0 .3,0 .2,0 .2,.1 .3,0 .2,0 .2,0 .3,0 .2,0 .3,0 .2,0 .2,0 .3,0 .2,0 .2,.1 .3,0 .2,0 .3,0 .2,0 .2,0 .3,0 .2,0 .2,0 .3,0 .2,.1 .3,0 .2,0 .2,0 .3,0 .2,0 .2,0 .3,0 .2,.1 .3,0 .2,0 .2,0 .3,0 .2,0 .2,0 .3,0 .2,.1 .3,0 .2,0 .2,0 .3,0 .2,0 .2,0 .3,.1 .2,0 .3,0 .2,0 .2,0 .3,0 .2,.1 .2,0 .3,0 .2,0 .3,0 .2,0 .2,.1 .3,0 .2,0 .3,0 .2,0 .2,0 .3,.1 .2,0 .2,0 .3,0 .2,0 .3,.1 .2,0 .2,0 .3,0 .2,0 .2,.1 .3,0 .2,0 .3,0 .2,0 .2,.1 .3,0 .2,0 .2,0 .3,0 .2,.1 .3,0 .2,0 .2,0 .3,0 .2,.1 .2,0 .3,0 .2,0 .3,.1 .2,0 .2,0 .3,0 .2,.1 .2,0 .3,0 .2,0 .3,.1 .2,0 .2,0 .3,0 .2,.1 .2,0 .3,0 .2,0 .3,.1 .2,0 .2,0 .3,.1 .2,0 .2,0 .3,0 .2,.1 .3,0 .2,0 .2,.1 .3,0 .2,0 .2,.1 .3,0 .2,0 .3,0 .2,.1 .2,0 .3,0 .2,.1 .2,0 .3,0 .2,.1 .3,0 .2,0 .2,.1 .3,0 .2,0 .2,.1 .3,0 .2,0 .3,.1 .2,0 .2,0 .3,.1 .2,0 .2,.1 .3,0 .2,0 .3,.1 .2,0 .2,0 .3,.1 .2,0 .2,0 .3,.1 .2,0 .3,0 .2,.1 .2,0 .3,0 .2,.1 .2,0 .3,.1 .2,0 .3,0 .2,.1 .2,0 .3,0 .2,.1 .2,0 .3,.1 .2,0 .3,0 .2,.1 .2,0 .3,.1 .2,0 .2,0 .3,.1 .2,0 .3,.1 .2,0 .2,0 .3,.1 .2,0 .2,.1 .3,0 .2,0 .3,.1 .2,0 .2,.1 .3,0 .2,.1 .3,0 .2,0 .2,.1 .3,0 .2,.1 .2,0 .3,.1 .2,0 .3,.1 .2,0 .2,.1 .3,0 .2,0 .2,.1 .3,0 .2,.1 .3,0 .2,.1 .2,0 .3,.1 .2,0 .2,.1 .3,0 .2,.1 .3,0 .2,.1 .2,.1 .3,0 .2,.1 .2,0 .3,.1 .2,0 .3,.1 .2,0 .2,.1 .3,.1 .2,0 .2,.1 .3,0 .2,.1 .3,.1 .2,0 .2,.1 .3,0 .2,.1 .2,.1 .3,0 .2,.1 .3,.1 .2,0 .2,.1 .3,.1 .2,0 .2,.1 .3,.1 .2,0 .3,.1 .2,.1 .2,0 .3,.1 .2,.1 .2,0 .3,.1 .2,.1 .3,0 .2,.1 .2,.1 .3,0 .2,.1 .2,.1 .3,.1 .2,0 .3,.1 .2,.1 .2,0 .3,.1 .2,.1 .2,.1 .3,0 .2,.1 .3,.1 .2,.1 .2,.1 .3,0 .2,.1 .2,.1 .3,.1 .2,.1 .3,.1 .2,0 .2,.1 .3,.1 .2,.1 .2,.1 .3,.1 .2,.1 .3,.1 .2,.1 .2,.1 .3,.1 .2,.1 .2,.1 .3,.1 .2,.1 .3,.1 .2,.1 .2,.1 .3,.1 .2,.1 .2,.1 .3,.1 .2,.1 .3,.2 .2,.1 .2,.1 .3,.1 .2,.1 .2,.2 .3,.1 .2,.1 .3,.1 .2,.2 .2,.1 .3,.1 .2,.2 .3,.1 .2,.2 .2,.1 .3,.1 .2,.2 .2,.1 .3,.2 .2,.1 .3,.2 .2,.2 .2,.1 .3,.2 .2,.1 .2,.2 .3,.2 .2,.1 .3,.2 .2,.2 .2,.1 .3,.2 .2,.2 .2,.1 .3,.2 .2,.2 .3,.2 .2,.2 .2,.1 .3,.2 .2,.2 .2,.2 .3,.2 .2,.2 .3,.1 .2,.2 .2,.2 .3,.2 .2,.2 .2,.2 .3,.2 .2,.2 .3,.1 .2,.2 .2,.2 .3,.2 .2,.2 .2,.2 .3,.2 .2,.2 .3,.2 .2,.2 .2,.2 .3,.2 .2,.2 .2,.2 .3,.2 .2,.2 .3,.2 .2,.2 .2,.2 .3,.2 .2,.2 .2,.2 .3,.2 .2,.2 .3,.2 .2,.2 .2,.2 .3,.2 .2,.2 .2,.2 .3,.2 .2,.2 .3,.2 .2,.2 .2,.1 .3,.2 .2,.2 .2,.2 .3,.2 .2,.2 .3,.2 .2,.2 .2,.2 .3,.2 .2,.2 .2,.2 .3,.3 .2,.2 .3,.3 .2,.2 .2,.3 .3,.3 .2,.2 .2,.3 .3,.3 .2,.3 .3,.3 .2,.3 .2,.3 .3,.3 .2,.2 .2,.4 .3,.3 .2,.3 .3,.3 .2,.3 .2,.3 .3,.3 .2,.4 .2,.3 .3,.3 .2,.4 .3,.3 .2,.4 .2,.3 .3,.4 .2,.3 .2,.4 .3,.3 .2,.4 .3,.4 .2,.4 .2,.4 .3,.4 .2,.3 .2,.5 .3,.4 .2,.4 .3,.4 .2,.4 .2,.5 .3,.4 .2,.4 .3,.5 .2,.4 .2,.5 .3,.4 .2,.5 .2,.5 .3,.4 .2,.5 .3,.5 .2,.5 .2,.5 .3,.5 .2,.5 .2,.5 .3,.5 .2,.6 .3,.5 .2,.5 .2,.6 .3,.5 .2,.6 .2,.6 .3,.5 .2,.6 .3,.6 .2,.7 .2,.6 .3,.7 .2,.6 .2,.7 .3,.7 .2,.8 .3,.7 .2,.8 .2,.7 .3,.8 .2,.8 .2,.8 .3,.8 .2,.8 .3,.9 .2,.8 .2,.8 .3,1 .2,1 .2,1 .3,1.1 .2,1.2 .3,1.1 .2,1 .2,1 .3,.9 .2,.9 .2,.7 .3,.7 .2,.6 .3,.5 .2,.6 .2,.5 .3,.4 .2,.5 .2,.5 .3,.4 .2,.4 .3,.4 .2,.4 .2,.4 .3,.3 .2,.4 .2,.4 .3,.3 .2,.3 .3,.4 .2,.3 .2,.4 .3,.4 .2,.3 .2,.4 .3,.3 .2,.3 .3,.2 .2,.1 .2,.2 .3,0 .2,0 .2-.1 .3-.2 .2-.1 .3-.2 .2-.3 .2-.2 .3-.3 .2-.3 .2-.3 .3-.3 .2-.4 .3-.3 .2-.3 .2-.2 .3-.3 .2-.3 .2-.2 .3-.2 .2-.2 .3-.2 .2-.2 .2-.2 .3-.1 .2-.2 .2-.2 .3-.1 .2-.2 .3-.2 .2-.1 .2-.2 .3-.1 .2-.2 .2-.1 .3-.2 .2-.1 .3-.1 .2-.2 .2-.1 .3-.1 .2-.1 .3-.1 .2-.1 .2-.1 .3-.1 .2-.1 .2-.1 .3,0 .2-.1 .3,0 .2-.1 .2,0 .3,0 .2-.1 .2,0 .3,0 .2,0 .3,.1 .2,0 .2,0 .3,.1 .2,0 .2,.1 .3,.1 .2,.1 .3,.1 .2,.1 .2,.1 .3,.2 .2,.1 .2,.2 .3,.2 .2,.2 .3,.2 .2,.2 .2,.3 .3,.2 .2,.3 .2,.3 .3,.4 .2,.3 .3,.4 .2,.4 .2,.5 .3,.4 .2,.6 .2,.7 .3,.7 .2,.8 .3,.9 .2,1 .2,1.1 .3,1.1 .2,1.2 .2,1.2 .3,1.2 .2,1.1 .3,1.1 .2,1.2 .2,1.3 .3,1.4 .2,1.5 .2,1.5 .3,1.5 .2,1.4 .3,1.4 .2,1.2 .2,1.2 .3,1 .2,1.1 .2,1.1 .3,1.2 .2,1.1 .3,1 .2,.8 .2,.7 .3,.5 .2,.3 .2,.2 .3,.1 .2-.1 .3-.3 .2-.2 .2-.5 .3-.4 .2-.5 .2-.5 .3-.6 .2-.5 .3-.6 .2-.6 .2-.5 .3-.6 .2-.5 .2-.5 .3-.5 .2-.4 .3-.5 .2-.3 .2-.4 .3-.3 .2-.3 .2-.2 .3-.3 .2-.3 .3-.3 .2-.2 .2-.3 .3-.2 .2-.3 .2-.2 .3-.2 .2-.3 .3-.2 .2-.2 .2-.1 .3-.2 .2-.1 .2-.1 .3-.1 .2-.1 .3,0 .2,0 .2,0 .3,.2 .2,.2 .2,.3 .3,.4 .2,.3 .3,.7 .2,.6 .2,.8 .3,.8 .2,1.1 .3,1 .2,1.3 .2,1.3 .3,1.3 .2,1.4 .2,1.3 .3,1.3 .2,1.1 .3,1.2 .2,1.1 .2,1.5 .3,1.7 .2,1.9 .2,2 .3,1.9 .2,1.7 .3,1.3 .2,1 .2,.6 .3,.6 .2,.1 .2,.2 .3-.2 .2-.1 .3-.4 .2-.4 .2-.5 .3-.6 .2-.5 .2-.6 .3-.7 .2-.6 .3-.7 .2-.6 .2-.7 .3-.7 .2-.7 .2-.6 .3-.7 .2-.6 .3-.6 .2-.6 .2-.5 .3-.5 .2-.5 .2-.3 .3-.4 .2-.1 .3-.2 .2,.1 .2,.1 .3,.3 .2,.4 .2,.5 .3,.6 .2,.7 .3,.9 .2,.9 .2,1 .3,1 .2,1.1 .2,1.2 .3,1.1 .2,1.1 .3,1.1 .2,1.1 .2,1.1 .3,1.5 .2,1.7 .2,1.8 .3,2 .2,2 .3,1.8 .2,1.5 .2,1.3 .3,.9 .2,.6 .2,.4 .3,.2 .2-.2 .3-.2 .2-.5 .2-.5 .3-.7 .2-.7 .2-.7 .3-.9 .2-.8 .3-.9 .2-.9 .2-.8 .3-.9 .2-.9 .2-.9 .3-.8 .2-.8 .3-.8 .2-.7 .2-.6 .3-.6 .2-.5 .2-.2 .3-.2 .2,.2 .3,.3 .2,.7 .2,.7 .3,1.1 .2,1.3 .2,1.5 .3,1.8 .2,1.9 .3,2.1 .2,2.1 .2,2.2 .3,2 .2,1.9 .2,1.3 .3,1 .2,.8 .3,.8 .2,.7" stroke="#00ffff"/>
</g>
<g clip-path="url(#clipc)" fill="none" stroke-width="1.8" stroke-linejoin="round">
<path d="M188.2,228l.2,0 .2,0 .2,0 .3,0 .2,0 .2,0 .2,0 .2,0 .2,0 .2,0 .2,0 .3,0 .2,0 .2,0 .2,0 .2,0 .2,0 .2,0 .3,0 .2,0 .2,0 .2,0 .2,0 .2,0 .2,0 .3,0 .2,0 .2,0 .2,0 .2,0 .2,0 .2,0 .2,0 .3,0 .2,0 .2,0 .2,0 .2,0 .2,0 .2,0 .3,0 .2,0 .2,0 .2,0 .2,0 .2,0 .2,0 .3,0 .2,.1 .2,0 .2,0 .2,0 .2,0 .2,0 .2,0 .3,0 .2,0 .2,0 .2,0 .2,0 .2,0 .2,0 .3,0 .2,0 .2,0 .2,0 .2,0 .2,0 .2,0 .2,0 .3,0 .2,0 .2,0 .2,0 .2,0 .2,0 .2,0 .3,0 .2,0 .2,0 .2,0 .2,0 .2,0 .2,0 .3,0 .2,0 .2,0 .2,0 .2,0 .2,0 .2,0 .2,0 .3,0 .2,0 .2,0 .2,0 .2,0 .2,0 .2,0 .3,0 .2,0 .2,0 .2,0 .2,0 .2,0 .2,0 .2,0 .3,0 .2,.1 .2,0 .2,0 .2,0 .2,0 .2,0 .3,0 .2,0 .2,0 .2,0 .2,0 .2,0 .2,0 .3,0 .2,0 .2,0 .2,0 .2,0 .2,0 .2,0 .2,0 .3,0 .2,0 .2,0 .2,0 .2,0 .2,0 .2,0 .3,0 .2,0 .2,0 .2,0 .2,0 .2,0 .2,0 .3,0 .2,0 .2,0 .2,0 .2,0 .2,0 .2,.1 .2,0 .3,0 .2,0 .2,0 .2,0 .2,0 .2,0 .2,0 .3,0 .2,0 .2,0 .2,0 .2,0 .2,0 .2,0 .2,0 .3,.1 .2,0 .2,0 .2,0 .2,0 .2,0 .2,0 .3,0 .2,0 .2,0 .2,0 .2,.1 .2,0 .2,0 .3,0 .2,0 .2,0 .2,0 .2,0 .2,.1 .2,0 .2,0 .3,0 .2,0 .2,0 .2,.1 .2,0 .2,0 .2,0 .3,0 .2,0 .2,.1 .2,0 .2,0 .2,0 .2,0 .2,.1 .3,0 .2,0 .2,0 .2,0 .2,.1 .2,0 .2,0 .3,0 .2,0 .2,.1 .2,0 .2,0 .2,0 .2,0 .3,.1 .2,0 .2,0 .2,0 .2,.1 .2,0 .2,0 .2,0 .3,0 .2,.1 .2,0 .2,0 .2,0 .2,.1 .2,0 .3,0 .2,0 .2,.1 .2,0 .2,0 .2,0 .2,.1 .3,0 .2,0 .2,0 .2,.1 .2,0 .2,0 .2,0 .2,.1 .3,0 .2,0 .2,.1 .2,0 .2,0 .2,.1 .2,0 .3,0 .2,0 .2,.1 .2,0 .2,0 .2,.1 .2,0 .2,.1 .3,0 .2,0 .2,.1 .2,0 .2,0 .2,.1 .2,0 .3,0 .2,.1 .2,0 .2,.1 .2,0 .2,0 .2,.1 .3,0 .2,.1 .2,0 .2,0 .2,.1 .2,0 .2,.1 .2,0 .3,.1 .2,0 .2,.1 .2,0 .2,0 .2,.1 .2,0 .3,.1 .2,0 .2,.1 .2,0 .2,.1 .2,0 .2,.1 .2,0 .3,.1 .2,0 .2,.1 .2,.1 .2,0 .2,.1 .2,0 .3,.1 .2,0 .2,.1 .2,0 .2,.1 .2,.1 .2,0 .3,.1 .2,0 .2,.1 .2,.1 .2,0 .2,.1 .2,0 .2,.1 .3,.1 .2,0 .2,.1 .2,.1 .2,0 .2,.1 .2,.1 .3,0 .2,.1 .2,.1 .2,0 .2,.1 .2,.1 .2,0 .3,.1 .2,.1 .2,0 .2,.1 .2,.1 .2,.1 .2,0 .2,.1 .3,.1 .2,.1 .2,0 .2,.1 .2,.1 .2,.1 .2,.1 .3,0 .2,.1 .2,.1 .2,.1 .2,.1 .2,.1 .2,0 .2,.1 .3,.1 .2,.1 .2,.1 .2,.1 .2,.1 .2,0 .2,.1 .3,.1 .2,.1 .2,.1 .2,.1 .2,.1 .2,.1 .2,.1 .3,0 .2,.1 .2,.1 .2,.1 .2,.1 .2,.1 .2,.1 .2,.1 .3,.1 .2,.1 .2,.1 .2,.1 .2,.1 .2,.1 .2,.1 .3,0 .2,.1 .2,.1 .2,.1 .2,.1 .2,.1 .2,.1 .2,.1 .3,.1 .2,.1 .2,.1 .2,.1 .2,.2 .2,.1 .2,.1 .3,.1 .2,.1 .2,.1 .2,.1 .2,.2 .2,.1 .2,.1 .3,.1 .2,.2 .2,.1 .2,.1 .2,.2 .2,.1 .2,.2 .2,.1 .3,.1 .2,.2 .2,.1 .2,.2 .2,.1 .2,.1 .2,.2 .3,.1 .2,.2 .2,.1 .2,.2 .2,.1 .2,.1 .2,.2 .3,.1 .2,.2 .2,.1 .2,.1 .2,.2 .2,.1 .2,.1 .2,.1 .3,.2 .2,.1 .2,.1 .2,.1 .2,.2 .2,.1 .2,.1 .3,.1 .2,.2 .2,.1 .2,.1 .2,.1 .2,.1 .2,.1 .2,.2 .3,.1 .2,.1 .2,.1 .2,.1 .2,.1 .2,.1 .2,.1 .3,.2 .2,.1 .2,.1 .2,.1 .2,.1 .2,.1 .2,.1 .3,.1 .2,.1 .2,.1 .2,.1 .2,.1 .2,.1 .2,.1 .2,.1 .3,.1 .2,0 .2,.1 .2,.1 .2,.1 .2,.1 .2,.1 .3,0 .2,.1 .2,.1 .2,.1 .2,0 .2,.1 .2,.1 .2,.1 .3,.1 .2,0 .2,.1 .2,.1 .2,.1 .2,.1 .2,.1 .3,0 .2,.1 .2,.1 .2,.1 .2,.1 .2,.1 .2,.1 .3,.1 .2,.1 .2,.1 .2,.1 .2,.1 .2,.1 .2,.2 .2,.1 .3,.1 .2,.1 .2,.1 .2,.1 .2,.1 .2,.1 .2,.2 .3,.1 .2,.1 .2,.1 .2,.1 .2,.2 .2,.1 .2,.1 .3,.1 .2,.1 .2,.1 .2,.2 .2,.1 .2,.1 .2,.1 .2,.1 .3,.2 .2,.1 .2,.1 .2,.1 .2,.1 .2,.1 .2,.1 .3,.2 .2,.1 .2,.1 .2,.1 .2,.1 .2,.1 .2,.1 .2,.1 .3,.1 .2,.1 .2,.1 .2,.2 .2,.1 .2,.1 .2,.1 .3,.1 .2,.1 .2,.1 .2,.1 .2,.1 .2,.1 .2,.1 .3,.1 .2,.1 .2,.1 .2,.1 .2,.1 .2,.1 .2,.1 .2,.1 .3,.1 .2,.1 .2,.1 .2,.1 .2,.1 .2,.1 .2,.1 .3,.1 .2,.1 .2,.1 .2,.1 .2,.1 .2,.1 .2,.1 .2,.1 .3,.2 .2,.1 .2,.1 .2,.1 .2,.1 .2,.1 .2,.1 .3,.1 .2,.1 .2,.2 .2,.1 .2,.1 .2,.1 .2,.1 .3,.2 .2,.1 .2,.1 .2,.1 .2,.2 .2,.1 .2,.1 .2,.2 .3,.1 .2,.1 .2,.2 .2,.1 .2,.1 .2,.2 .2,.1 .3,.1 .2,.2 .2,.1 .2,.2 .2,.1 .2,.1 .2,.2 .3,.1 .2,.2 .2,.1 .2,.2 .2,.1 .2,.1 .2,.2 .2,.1 .3,.2 .2,.1 .2,.2 .2,.1 .2,.2 .2,.1 .2,.1 .3,.2 .2,.1 .2,.2 .2,.1 .2,.1 .2,.2 .2,.1 .2,.1 .3,.2 .2,.1 .2,.2 .2,.1 .2,.1 .2,.2 .2,.1 .3,.1 .2,.2 .2,.1 .2,.1 .2,.2 .2,.1 .2,.1 .3,.2 .2,.1 .2,.2 .2,.1 .2,.1 .2,.2 .2,.1 .2,.2 .3,.1 .2,.1 .2,.2 .2,.1 .2,.2 .2,.1 .2,.2 .3,.1 .2,.2 .2,.1 .2,.1 .2,.2 .2,.2 .2,.1 .2,.2 .3,.1 .2,.2 .2,.1 .2,.2 .2,.2 .2,.1 .2,.2 .3,.1 .2,.2 .2,.2 .2,.1 .2,.2 .2,.2 .2,.1 .3,.2 .2,.2 .2,.1 .2,.2 .2,.2 .2,.1 .2,.2 .2,.2 .3,.2 .2,.1 .2,.2 .2,.2 .2,.2 .2,.1 .2,.2 .3,.2 .2,.2 .2,.2 .2,.1 .2,.2 .2,.2 .2,.2 .3,.2 .2,.2 .2,.2 .2,.1 .2,.2 .2,.2 .2,.2 .2,.2 .3,.2 .2,.2 .2,.2 .2,.2 .2,.2 .2,.2 .2,.2 .3,.2 .2,.2 .2,.2 .2,.2 .2,.2 .2,.2 .2,.2 .2,.2 .3,.2 .2,.2 .2,.2 .2,.2 .2,.2 .2,.2 .2,.3 .3,.2 .2,.2 .2,.2 .2,.2 .2,.2 .2,.2 .2,.3 .3,.2 .2,.2 .2,.2 .2,.3 .2,.2 .2,.2 .2,.2 .2,.3 .3,.2 .2,.2 .2,.3 .2,.2 .2,.2 .2,.3 .2,.2 .3,.3 .2,.2 .2,.3 .2,.2 .2,.3 .2,.2 .2,.3 .2,.2 .3,.3 .2,.2 .2,.3 .2,.3 .2,.2 .2,.3 .2,.2 .3,.3 .2,.3 .2,.3 .2,.2 .2,.3 .2,.3 .2,.3 .3,.2 .2,.3 .2,.3 .2,.3 .2,.3 .2,.3 .2,.3 .2,.2 .3,.3 .2,.3 .2,.4 .2,.3 .2,.3 .2,.3 .2,.3 .3,.3 .2,.4 .2,.4 .2,.3 .2,.4 .2,.5 .2,.4 .3,.4 .2,.4 .2,.5 .2,.5 .2,.4 .2,.5 .2,.5 .2,.5 .3,.5 .2,.5 .2,.5 .2,.5 .2,.5 .2,.5 .2,.6 .3,.5 .2,.5 .2,.6 .2,.5 .2,.6 .2,.6 .2,.6 .2,.6 .3,.6 .2,.6 .2,.7 .2,.7 .2,.7 .2,.8 .2,.7 .3,.8 .2,.9 .2,.8 .2,.8 .2,.8 .2,.8 .2,.8 .3,.8 .2,.9 .2,1 .2,1.1 .2,1 .2,.8 .2,.7 .2,.4 .3,.2 .2,.1 .2-.1 .2-.3 .2-.4 .2-.4 .2-.5 .3-.5 .2-.6 .2-.5 .2-.6 .2-.5 .2-.5 .2-.4 .2-.4 .3-.4 .2-.3 .2-.3 .2-.3 .2-.3 .2-.4 .2-.3 .3-.3 .2-.3 .2-.3 .2-.3 .2-.2 .2-.3 .2-.3 .3-.2 .2-.3 .2-.2 .2-.2 .2-.2 .2-.1 .2-.2 .2-.1 .3-.1 .2-.1 .2-.1 .2,0 .2,0 .2,0 .2,.1 .3,.1 .2,.1 .2,.1 .2,.1 .2,.2 .2,.1 .2,.2 .3,.2 .2,.2 .2,.2 .2,.2 .2,.3 .2,.2 .2,.3 .2,.2 .3,.3 .2,.3 .2,.2 .2,.3 .2,.3 .2,.3 .2,.4 .3,.3 .2,.4 .2,.4 .2,.5 .2,.4 .2,.5 .2,.5 .2,.6 .3,.6 .2,.6 .2,.7 .2,.6 .2,.7 .2,.7 .2,.8 .3,.7 .2,.7 .2,.8 .2,.9 .2,1 .2,1 .2,1.1 .3,1 .2,.9 .2,1 .2,1 .2,1.1 .2,1.1 .2,1.1 .2,1.1 .3,1.1 .2,.9 .2,.9 .2,.9 .2,.6 .2,.6 .2,.5 .3,.2 .2,.1 .2-.2 .2-.4 .2-.6 .2-.7 .2-.9 .2-.9 .3-1 .2-.9 .2-.9 .2-.8 .2-.7 .2-.6 .2-.6 .3-.5 .2-.5 .2-.5 .2-.4 .2-.5 .2-.5 .2-.4 .3-.4 .2-.4 .2-.4 .2-.3 .2-.3 .2-.3 .2-.2 .2-.1 .3-.1 .2,.1 .2,.2 .2,.3 .2,.3 .2,.4" stroke="#000000"/>
<path d="M188.2,228l.2,0 .2,0 .2,0 .3,0 .2,0 .2,0 .2,0 .2,0 .2,0 .2,0 .2,0 .3,0 .2,0 .2,0 .2,0 .2,0 .2,0 .2,0 .3,0 .2,0 .2,0 .2,0 .2,0 .2,0 .2,0 .3,0 .2,0 .2,0 .2,0 .2,0 .2,0 .2,0 .2,0 .3,0 .2,0 .2,0 .2,0 .2,0 .2,0 .2,0 .3,0 .2,0 .2,0 .2,0 .2,0 .2,0 .2,0 .3,0 .2,0 .2,0 .2,0 .2,0 .2,0 .2,0 .2,0 .3,0 .2,0 .2,.1 .2,0 .2,0 .2,0 .2,0 .3,0 .2,0 .2,0 .2,0 .2,0 .2,0 .2,0 .2,0 .3,0 .2,0 .2,0 .2,.1 .2,0 .2,0 .2,0 .3,0 .2,0 .2,0 .2,0 .2,0 .2,.1 .2,0 .3,0 .2,0 .2,0 .2,0 .2,0 .2,0 .2,0 .2,.1 .3,0 .2,0 .2,0 .2,0 .2,0 .2,0 .2,.1 .3,0 .2,0 .2,0 .2,0 .2,0 .2,0 .2,.1 .2,0 .3,0 .2,0 .2,0 .2,0 .2,.1 .2,0 .2,0 .3,0 .2,0 .2,0 .2,0 .2,.1 .2,0 .2,0 .3,0 .2,0 .2,.1 .2,0 .2,0 .2,0 .2,0 .2,0 .3,.1 .2,0 .2,0 .2,0 .2,0 .2,.1 .2,0 .3,0 .2,0 .2,0 .2,.1 .2,0 .2,0 .2,0 .3,.1 .2,0 .2,0 .2,0 .2,0 .2,.1 .2,0 .2,0 .3,0 .2,.1 .2,0 .2,0 .2,0 .2,.1 .2,0 .3,0 .2,0 .2,.1 .2,0 .2,0 .2,0 .2,.1 .2,0 .3,0 .2,.1 .2,0 .2,0 .2,.1 .2,0 .2,0 .3,.1 .2,0 .2,0 .2,.1 .2,0 .2,0 .2,.1 .3,0 .2,.1 .2,0 .2,0 .2,.1 .2,0 .2,.1 .2,0 .3,0 .2,.1 .2,0 .2,.1 .2,0 .2,.1 .2,0 .3,.1 .2,0 .2,.1 .2,0 .2,.1 .2,0 .2,.1 .2,0 .3,.1 .2,.1 .2,0 .2,.1 .2,0 .2,.1 .2,0 .3,.1 .2,0 .2,.1 .2,0 .2,.1 .2,.1 .2,0 .3,.1 .2,0 .2,.1 .2,0 .2,.1 .2,.1 .2,0 .2,.1 .3,0 .2,.1 .2,.1 .2,0 .2,.1 .2,0 .2,.1 .3,.1 .2,0 .2,.1 .2,.1 .2,0 .2,.1 .2,.1 .3,0 .2,.1 .2,0 .2,.1 .2,.1 .2,0 .2,.1 .2,.1 .3,0 .2,.1 .2,.1 .2,.1 .2,0 .2,.1 .2,.1 .3,0 .2,.1 .2,.1 .2,0 .2,.1 .2,.1 .2,0 .2,.1 .3,.1 .2,.1 .2,0 .2,.1 .2,.1 .2,.1 .2,0 .3,.1 .2,.1 .2,.1 .2,0 .2,.1 .2,.1 .2,.1 .3,0 .2,.1 .2,.1 .2,.1 .2,.1 .2,0 .2,.1 .2,.1 .3,.1 .2,0 .2,.1 .2,.1 .2,.1 .2,0 .2,.1 .3,.1 .2,.1 .2,0 .2,.1 .2,.1 .2,.1 .2,0 .2,.1 .3,.1 .2,.1 .2,0 .2,.1 .2,.1 .2,0 .2,.1 .3,.1 .2,0 .2,.1 .2,0 .2,.1 .2,.1 .2,0 .3,.1 .2,.1 .2,0 .2,.1 .2,.1 .2,0 .2,.1 .2,.1 .3,.1 .2,0 .2,.1 .2,.1 .2,.1 .2,0 .2,.1 .3,.1 .2,.1 .2,.1 .2,0 .2,.1 .2,.1 .2,.1 .3,.1 .2,.1 .2,.1 .2,0 .2,.1 .2,.1 .2,.1 .2,.1 .3,.1 .2,.1 .2,.1 .2,.1 .2,.1 .2,.1 .2,.1 .3,.1 .2,.1 .2,.1 .2,.1 .2,.2 .2,.1 .2,.1 .2,.1 .3,.1 .2,.1 .2,.1 .2,.2 .2,.1 .2,.1 .2,.1 .3,.2 .2,.1 .2,.1 .2,.2 .2,.1 .2,.1 .2,.1 .3,.2 .2,.1 .2,.2 .2,.1 .2,.1 .2,.2 .2,.1 .2,.2 .3,.2 .2,.1 .2,.2 .2,.2 .2,.1 .2,.2 .2,.2 .3,.2 .2,.2 .2,.2 .2,.3 .2,.2 .2,.2 .2,.3 .2,.2 .3,.2 .2,.3 .2,.2 .2,.3 .2,.2 .2,.3 .2,.2 .3,.2 .2,.2 .2,.2 .2,.2 .2,.2 .2,.2 .2,.2 .3,.2 .2,.2 .2,.1 .2,.2 .2,.2 .2,.1 .2,.2 .2,.2 .3,.1 .2,.2 .2,.1 .2,.2 .2,.1 .2,.2 .2,.1 .3,.2 .2,.1 .2,.1 .2,.2 .2,.1 .2,.2 .2,.1 .3,.2 .2,.1 .2,.1 .2,.2 .2,.1 .2,.2 .2,.1 .2,.2 .3,.1 .2,.1 .2,.2 .2,.1 .2,.1 .2,.2 .2,.1 .3,.1 .2,.1 .2,.2 .2,.1 .2,.1 .2,.1 .2,.1 .2,.1 .3,.1 .2,.2 .2,.1 .2,.1 .2,0 .2,.1 .2,.1 .3,.1 .2,.1 .2,.1 .2,.1 .2,0 .2,.1 .2,.1 .3,0 .2,.1 .2,.1 .2,0 .2,.1 .2,0 .2,.1 .2,.1 .3,0 .2,.1 .2,0 .2,.1 .2,0 .2,.1 .2,0 .3,.1 .2,.1 .2,0 .2,.1 .2,.1 .2,0 .2,.1 .2,.1 .3,.1 .2,0 .2,.1 .2,.1 .2,.1 .2,.1 .2,.1 .3,.1 .2,.1 .2,.2 .2,.1 .2,.1 .2,.2 .2,.1 .3,.2 .2,.1 .2,.2 .2,.1 .2,.2 .2,.1 .2,.2 .2,.2 .3,.2 .2,.1 .2,.2 .2,.2 .2,.1 .2,.2 .2,.2 .3,.2 .2,.1 .2,.2 .2,.2 .2,.1 .2,.2 .2,.2 .3,.1 .2,.2 .2,.1 .2,.2 .2,.1 .2,.1 .2,.2 .2,.1 .3,.1 .2,.1 .2,.2 .2,.1 .2,.1 .2,.1 .2,.1 .3,.1 .2,0 .2,.1 .2,.1 .2,.1 .2,.1 .2,0 .2,.1 .3,.1 .2,.1 .2,0 .2,.1 .2,.1 .2,.1 .2,.1 .3,0 .2,.1 .2,.1 .2,.1 .2,.1 .2,.2 .2,.1 .3,.1 .2,.1 .2,.1 .2,.2 .2,.1 .2,.2 .2,.1 .2,.2 .3,.1 .2,.2 .2,.1 .2,.2 .2,.1 .2,.2 .2,.1 .3,.2 .2,.1 .2,.2 .2,.1 .2,.2 .2,.1 .2,.1 .2,.1 .3,.1 .2,.1 .2,.1 .2,.1 .2,.1 .2,.1 .2,0 .3,.1 .2,0 .2,.1 .2,.1 .2,0 .2,.1 .2,0 .3,.1 .2,0 .2,.1 .2,.1 .2,.1 .2,0 .2,.1 .2,.2 .3,.1 .2,.1 .2,.1 .2,.2 .2,.2 .2,.1 .2,.2 .3,.2 .2,.2 .2,.2 .2,.2 .2,.2 .2,.2 .2,.2 .3,.2 .2,.2 .2,.1 .2,.2 .2,.2 .2,.1 .2,.1 .2,.1 .3,.1 .2,.1 .2,.1 .2,.1 .2,0 .2,.1 .2,0 .3,.1 .2,0 .2,.1 .2,0 .2,.1 .2,.1 .2,.1 .2,.1 .3,.2 .2,.1 .2,.2 .2,.2 .2,.2 .2,.2 .2,.2 .3,.2 .2,.2 .2,.2 .2,.2 .2,.1 .2,.2 .2,.2 .3,.1 .2,.1 .2,.1 .2,.1 .2,.1 .2,0 .2,.1 .2,.1 .3,0 .2,.1 .2,0 .2,.1 .2,.1 .2,.1 .2,.1 .3,.2 .2,.1 .2,.1 .2,.2 .2,.2 .2,.1 .2,.2 .2,.2 .3,.1 .2,.2 .2,.1 .2,.2 .2,.1 .2,.1 .2,.1 .3,.1 .2,.1 .2,.1 .2,.2 .2,.1 .2,.1 .2,.1 .3,.1 .2,.2 .2,.1 .2,.2 .2,.1 .2,.2 .2,.2 .2,.1 .3,.2 .2,.1 .2,.2 .2,.2 .2,.1 .2,.2 .2,.1 .3,.2 .2,.2 .2,.2 .2,.1 .2,.2 .2,.2 .2,.2 .3,.1 .2,.2 .2,.2 .2,.2 .2,.2 .2,.2 .2,.2 .2,.1 .3,.2 .2,.2 .2,.2 .2,.2 .2,.2 .2,.2 .2,.2 .3,.2 .2,.3 .2,.2 .2,.2 .2,.2 .2,.2 .2,.2 .2,.2 .3,.2 .2,.3 .2,.2 .2,.2 .2,.2 .2,.3 .2,.2 .3,.2 .2,.2 .2,.3 .2,.2 .2,.2 .2,.3 .2,.2 .3,.2 .2,.3 .2,.2 .2,.3 .2,.2 .2,.3 .2,.2 .2,.3 .3,.2 .2,.3 .2,.3 .2,.2 .2,.3 .2,.3 .2,.2 .3,.3 .2,.3 .2,.3 .2,.3 .2,.3 .2,.3 .2,.3 .2,.3 .3,.3 .2,.3 .2,.3 .2,.4 .2,.3 .2,.3 .2,.3 .3,.4 .2,.3 .2,.4 .2,.3 .2,.4 .2,.3 .2,.4 .3,.4 .2,.3 .2,.4 .2,.4 .2,.4 .2,.3 .2,.4 .2,.4 .3,.4 .2,.4 .2,.4 .2,.5 .2,.4 .2,.4 .2,.4 .3,.5 .2,.4 .2,.5 .2,.4 .2,.5 .2,.4 .2,.5 .3,.5 .2,.5 .2,.6 .2,.5 .2,.6 .2,.6 .2,.6 .2,.7 .3,.6 .2,.7 .2,.7 .2,.6 .2,.7 .2,.7 .2,.7 .3,.6 .2,.7 .2,.6 .2,.7 .2,.5 .2,.6 .2,.6 .2,.5 .3,.6 .2,.5 .2,.5 .2,.6 .2,.5 .2,.6 .2,.6 .3,.6 .2,.5 .2,.6 .2,.5 .2,.6 .2,.5 .2,.5 .3,.4 .2,.4 .2,.4 .2,.3 .2,.4 .2,.2 .2,.2 .2,.2 .3,.1 .2,.1 .2,0 .2-.1 .2-.1 .2-.2 .2-.2 .3-.2 .2-.3 .2-.3 .2-.3 .2-.4 .2-.3 .2-.4 .2-.3 .3-.4 .2-.3 .2-.3 .2-.3 .2-.2 .2-.2 .2-.2 .3-.2 .2-.2 .2-.2 .2-.2 .2-.2 .2-.1 .2-.2 .3-.2 .2-.2 .2-.1 .2-.2 .2-.1 .2-.2 .2-.1 .2-.2 .3-.1 .2-.1 .2-.2 .2-.1 .2-.1 .2,0 .2-.1 .3-.1 .2,0 .2-.1 .2,0 .2,0 .2,0 .2,.1 .3,0 .2,.1 .2,.1 .2,.1 .2,.1 .2,.2 .2,.1 .2,.2 .3,.2 .2,.2 .2,.2 .2,.3 .2,.2 .2,.3 .2,.2 .3,.3 .2,.3 .2,.3 .2,.3 .2,.3 .2,.4 .2,.3 .2,.4 .3,.4 .2,.4 .2,.5 .2,.5 .2,.6 .2,.7 .2,.7 .3,.8 .2,.9 .2,.9 .2,1 .2,1 .2,.9 .2,1 .3,.9 .2,.9 .2,.9 .2,1.1 .2,1.1 .2,1.2 .2,1.2 .2,1.3 .3,1.3 .2,1.2 .2,1.2 .2,1 .2,1 .2,.8 .2,.6 .3,.5 .2,.2 .2,0 .2-.2 .2-.6 .2-.8 .2-1 .2-1.3 .3-1.3 .2-1.3 .2-1.2 .2-1.2 .2-1 .2-.9 .2-.7 .3-.6 .2-.5 .2-.4 .2-.3 .2-.3 .2-.2 .2-.2 .3-.1 .2-.2 .2-.1 .2-.1 .2-.2 .2-.1 .2-.1 .2-.1 .3-.1 .2-.1 .2-.1 .2-.1 .2-.1 .2-.1" stroke="#ff0000"/>
<path d="M188.2,228l.2,0 .2,0 .2,0 .3,0 .2,0 .2,0 .2,0 .2,0 .2,0 .2,0 .2,0 .3,0 .2,0 .2,0 .2,0 .2,0 .2,0 .2,0 .3,0 .2,0 .2,0 .2,0 .2,0 .2,0 .2,0 .3,0 .2,.1 .2,0 .2,0 .2,0 .2,0 .2,0 .2,0 .3,0 .2,0 .2,0 .2,0 .2,0 .2,0 .2,0 .3,0 .2,0 .2,0 .2,0 .2,0 .2,0 .2,0 .3,0 .2,0 .2,0 .2,0 .2,0 .2,0 .2,0 .2,0 .3,0 .2,0 .2,0 .2,0 .2,0 .2,0 .2,0 .3,.1 .2,0 .2,0 .2,0 .2,0 .2,0 .2,0 .2,0 .3,0 .2,0 .2,0 .2,.1 .2,0 .2,0 .2,0 .3,0 .2,0 .2,0 .2,0 .2,0 .2,.1 .2,0 .3,0 .2,0 .2,0 .2,0 .2,0 .2,0 .2,.1 .2,0 .3,0 .2,0 .2,0 .2,0 .2,0 .2,.1 .2,0 .3,0 .2,0 .2,0 .2,0 .2,0 .2,.1 .2,0 .2,0 .3,0 .2,0 .2,0 .2,.1 .2,0 .2,0 .2,0 .3,0 .2,0 .2,.1 .2,0 .2,0 .2,0 .2,0 .3,0 .2,.1 .2,0 .2,0 .2,0 .2,0 .2,.1 .2,0 .3,0 .2,0 .2,0 .2,.1 .2,0 .2,0 .2,0 .3,0 .2,.1 .2,0 .2,0 .2,0 .2,0 .2,.1 .3,0 .2,0 .2,0 .2,.1 .2,0 .2,0 .2,0 .2,.1 .3,0 .2,0 .2,0 .2,.1 .2,0 .2,0 .2,0 .3,.1 .2,0 .2,0 .2,.1 .2,0 .2,0 .2,.1 .2,0 .3,0 .2,.1 .2,0 .2,0 .2,.1 .2,0 .2,0 .3,.1 .2,0 .2,0 .2,.1 .2,0 .2,.1 .2,0 .3,.1 .2,0 .2,0 .2,.1 .2,0 .2,.1 .2,0 .2,.1 .3,0 .2,.1 .2,0 .2,.1 .2,.1 .2,0 .2,.1 .3,0 .2,.1 .2,0 .2,.1 .2,.1 .2,0 .2,.1 .2,0 .3,.1 .2,.1 .2,0 .2,.1 .2,.1 .2,0 .2,.1 .3,0 .2,.1 .2,.1 .2,0 .2,.1 .2,.1 .2,0 .3,.1 .2,.1 .2,0 .2,.1 .2,.1 .2,0 .2,.1 .2,.1 .3,0 .2,.1 .2,.1 .2,0 .2,.1 .2,.1 .2,0 .3,.1 .2,.1 .2,0 .2,.1 .2,.1 .2,.1 .2,0 .3,.1 .2,.1 .2,.1 .2,0 .2,.1 .2,.1 .2,.1 .2,0 .3,.1 .2,.1 .2,.1 .2,.1 .2,0 .2,.1 .2,.1 .3,.1 .2,.1 .2,.1 .2,0 .2,.1 .2,.1 .2,.1 .2,.1 .3,.1 .2,.1 .2,0 .2,.1 .2,.1 .2,.1 .2,.1 .3,.1 .2,.1 .2,.1 .2,.1 .2,.1 .2,0 .2,.1 .3,.1 .2,.1 .2,.1 .2,.1 .2,.1 .2,.1 .2,.1 .2,.1 .3,.1 .2,.1 .2,.1 .2,.1 .2,.1 .2,.1 .2,.1 .3,.1 .2,.1 .2,.1 .2,.1 .2,.1 .2,.1 .2,.2 .2,.1 .3,.1 .2,.1 .2,.1 .2,.1 .2,.2 .2,.1 .2,.1 .3,.1 .2,.2 .2,.1 .2,.1 .2,.2 .2,.1 .2,.1 .3,.2 .2,.1 .2,.2 .2,.1 .2,.1 .2,.2 .2,.1 .2,.2 .3,.1 .2,.1 .2,.2 .2,.1 .2,.2 .2,.1 .2,.1 .3,.2 .2,.1 .2,.2 .2,.1 .2,.1 .2,.2 .2,.1 .3,.2 .2,.1 .2,.2 .2,.1 .2,.2 .2,.1 .2,.2 .2,.1 .3,.2 .2,.2 .2,.1 .2,.2 .2,.1 .2,.2 .2,.2 .3,.2 .2,.1 .2,.2 .2,.2 .2,.1 .2,.2 .2,.2 .2,.2 .3,.2 .2,.2 .2,.1 .2,.2 .2,.2 .2,.2 .2,.2 .3,.2 .2,.2 .2,.2 .2,.2 .2,.2 .2,.2 .2,.2 .3,.2 .2,.2 .2,.2 .2,.2 .2,.2 .2,.3 .2,.2 .2,.2 .3,.3 .2,.2 .2,.3 .2,.2 .2,.3 .2,.3 .2,.3 .3,.3 .2,.3 .2,.3 .2,.4 .2,.4 .2,.3 .2,.4 .2,.4 .3,.4 .2,.4 .2,.4 .2,.4 .2,.4 .2,.4 .2,.4 .3,.3 .2,.4 .2,.3 .2,.4 .2,.3 .2,.3 .2,.3 .3,.3 .2,.2 .2,.3 .2,.3 .2,.3 .2,.2 .2,.3 .2,.3 .3,.2 .2,.3 .2,.2 .2,.3 .2,.2 .2,.2 .2,.3 .3,.2 .2,.2 .2,.2 .2,.2 .2,.2 .2,.2 .2,.1 .3,.2 .2,.2 .2,.2 .2,.1 .2,.2 .2,.1 .2,.2 .2,.2 .3,.1 .2,.2 .2,.1 .2,.2 .2,.1 .2,.2 .2,.1 .3,.1 .2,.2 .2,.1 .2,.1 .2,0 .2,.1 .2,.1 .2,0 .3,.1 .2,0 .2,.1 .2,0 .2,0 .2,0 .2,.1 .3,0 .2,0 .2,0 .2,0 .2,0 .2,0 .2,0 .3,0 .2,.1 .2,0 .2,0 .2,0 .2,0 .2,0 .2,0 .3,0 .2,.1 .2,0 .2,0 .2,0 .2,.1 .2,0 .3,.1 .2,.1 .2,0 .2,.1 .2,.1 .2,.1 .2,.1 .2,.1 .3,.1 .2,.2 .2,.1 .2,.2 .2,.1 .2,.2 .2,.1 .3,.2 .2,.2 .2,.2 .2,.2 .2,.2 .2,.2 .2,.3 .3,.2 .2,.2 .2,.3 .2,.2 .2,.2 .2,.3 .2,.2 .2,.3 .3,.3 .2,.2 .2,.3 .2,.2 .2,.2 .2,.3 .2,.2 .3,.2 .2,.3 .2,.2 .2,.2 .2,.2 .2,.1 .2,.2 .3,.2 .2,.1 .2,.2 .2,.1 .2,.1 .2,.1 .2,.1 .2,.1 .3,0 .2,.1 .2,0 .2,0 .2,0 .2,0 .2,0 .3,0 .2,0 .2-.1 .2,0 .2,0 .2-.1 .2,0 .2,0 .3-.1 .2,0 .2,0 .2,0 .2,0 .2,0 .2,0 .3,0 .2,.1 .2,.1 .2,0 .2,.1 .2,.2 .2,.1 .3,.1 .2,.2 .2,.2 .2,.2 .2,.2 .2,.2 .2,.3 .2,.2 .3,.3 .2,.3 .2,.3 .2,.2 .2,.3 .2,.3 .2,.3 .3,.2 .2,.3 .2,.2 .2,.3 .2,.2 .2,.2 .2,.2 .2,.2 .3,.1 .2,.1 .2,.1 .2,.1 .2,.1 .2,.1 .2,0 .3,0 .2,0 .2,0 .2,0 .2,0 .2,0 .2,0 .3-.1 .2,0 .2,.1 .2,0 .2,0 .2,.1 .2,.1 .2,.1 .3,.1 .2,.2 .2,.2 .2,.2 .2,.2 .2,.3 .2,.3 .3,.3 .2,.3 .2,.3 .2,.4 .2,.3 .2,.3 .2,.3 .3,.3 .2,.3 .2,.2 .2,.3 .2,.1 .2,.2 .2,.1 .2,.1 .3,.1 .2,0 .2,0 .2,0 .2,0 .2,0 .2-.1 .3,0 .2-.1 .2,0 .2,0 .2,0 .2,.1 .2,.1 .2,.1 .3,.2 .2,.2 .2,.2 .2,.3 .2,.3 .2,.3 .2,.4 .3,.3 .2,.4 .2,.4 .2,.3 .2,.3 .2,.3 .2,.2 .3,.2 .2,.2 .2,.1 .2,.1 .2,0 .2,0 .2,0 .2-.1 .3,0 .2,0 .2,0 .2,0 .2,0 .2,.1 .2,.2 .3,.2 .2,.2 .2,.3 .2,.4 .2,.3 .2,.4 .2,.4 .2,.4 .3,.4 .2,.4 .2,.4 .2,.3 .2,.2 .2,.3 .2,.2 .3,.1 .2,.2 .2,.1 .2,.1 .2,.1 .2,.1 .2,.2 .3,.2 .2,.3 .2,.2 .2,.4 .2,.3 .2,.4 .2,.4 .2,.5 .3,.4 .2,.4 .2,.4 .2,.3 .2,.3 .2,.2 .2,.3 .3,.1 .2,.2 .2,.1 .2,.1 .2,.1 .2,.2 .2,.1 .3,.2 .2,.2 .2,.3 .2,.2 .2,.3 .2,.3 .2,.3 .2,.3 .3,.2 .2,.3 .2,.2 .2,.2 .2,.2 .2,.2 .2,.2 .3,.1 .2,.2 .2,.2 .2,.3 .2,.2 .2,.3 .2,.2 .2,.3 .3,.3 .2,.4 .2,.3 .2,.3 .2,.3 .2,.3 .2,.4 .3,.4 .2,.4 .2,.4 .2,.4 .2,.5 .2,.4 .2,.5 .3,.5 .2,.5 .2,.5 .2,.5 .2,.5 .2,.5 .2,.4 .2,.5 .3,.5 .2,.4 .2,.5 .2,.4 .2,.5 .2,.4 .2,.5 .3,.5 .2,.4 .2,.5 .2,.4 .2,.5 .2,.5 .2,.4 .2,.5 .3,.4 .2,.5 .2,.4 .2,.4 .2,.4 .2,.4 .2,.4 .3,.4 .2,.4 .2,.3 .2,.3 .2,.4 .2,.3 .2,.3 .3,.4 .2,.3 .2,.4 .2,.3 .2,.3 .2,.4 .2,.3 .2,.3 .3,.3 .2,.3 .2,.2 .2,.3 .2,.2 .2,.2 .2,.2 .3,.2 .2,.2 .2,.1 .2,.1 .2,.1 .2,.1 .2,0 .3,0 .2,0 .2-.1 .2-.1 .2-.1 .2-.1 .2-.1 .2-.2 .3-.2 .2-.1 .2-.2 .2-.2 .2-.1 .2-.2 .2-.2 .3-.1 .2-.1 .2-.2 .2-.1 .2-.1 .2,0 .2-.1 .2,0 .3,0 .2,.1 .2,0 .2,0 .2,.1 .2,.1 .2,.1 .3,.1 .2,.1 .2,.1 .2,.1 .2,.2 .2,.1 .2,.2 .3,.1 .2,.2 .2,.2 .2,.2 .2,.2 .2,.2 .2,.2 .2,.3 .3,.2 .2,.3 .2,.3 .2,.3 .2,.3 .2,.4 .2,.5 .3,.4 .2,.6 .2,.5 .2,.6 .2,.7 .2,.7 .2,.7 .2,.7 .3,.8 .2,.7 .2,.8 .2,.7 .2,.7 .2,.7 .2,.6 .3,.7 .2,.6 .2,.8 .2,.7 .2,.8 .2,.8 .2,.9 .3,.8 .2,.8 .2,.8 .2,.7 .2,.7 .2,.7 .2,.5 .2,.5 .3,.5 .2,.3 .2,.3 .2,.1 .2,.1 .2-.1 .2-.2 .3-.3 .2-.4 .2-.4 .2-.5 .2-.6 .2-.6 .2-.6 .3-.6 .2-.6 .2-.6 .2-.6 .2-.6 .2-.4 .2-.5 .2-.3 .3-.3 .2-.2 .2-.1 .2,.1 .2,0 .2,.3 .2,.2 .3,.3 .2,.3 .2,.4 .2,.4 .2,.5 .2,.5 .2,.5 .2,.6 .3,.6 .2,.5 .2,.6 .2,.6 .2,.6 .2,.6 .2,.5 .3,.6 .2,.6 .2,.6 .2,.7 .2,.7 .2,.8 .2,.9 .3,.8 .2,.9 .2,.8 .2,.9 .2,.9 .2,.8 .2,.8 .2,.7 .3,.7 .2,.5 .2,.6 .2,.3 .2,.4 .2,.1 .2,.1 .3-.2 .2-.3 .2-.5 .2-.6 .2-.7 .2-.9 .2-.9 .2-1 .3-1 .2-1 .2-.9 .2-.9 .2-.8 .2-.7 .2-.6 .3-.5 .2-.3 .2-.2 .2-.1 .2,.1 .2,.1 .2,.2 .3,.3 .2,.4 .2,.4 .2,.4 .2,.4 .2,.5 .2,.4 .2,.5 .3,.5 .2,.5 .2,.5 .2,.4 .2,.5 .2,.4" stroke="#00ee00"/>
<path d="M188.2,228l.1,0 .1,0 .1,0 .1,0 .1,0 .1,0 .1,0 .1,0 .1,0 .1,0 .1,0 .1,0 .1,0 .1,0 .1,0 .1,0 .1,0 .1,0 .1,0 .1,0 .1,0 .1,0 .1,0 .1,0 .1,0 .1,0 .1,0 .1,0 .1,0 .1,0 .1,0 .1,0 .1,0 .1,0 .1,0 .1,0 .1,0 .1,0 .1,0 .1,0 .1,0 .1,0 .1,0 .1,0 .1,0 .1,0 .1,0 .1,0 .1,0 .1,0 .1,0 .1,0 .1,0 .1,0 .1,0 .1,0 .1,0 .1,0 0,.1 .1,0 .1,0 .1,0 .1,0 .1,0 .1,0 .1,0 .1,0 .1,0 .1,0 .1,0 .1,0 .1,0 .1,0 .1,0 .1,0 .1,0 .1,0 .1,0 .1,0 .1,0 .1,0 .1,0 .1,0 .1,0 .1,0 .1,0 .1,0 .1,0 .1,0 .1,0 .1,0 .1,0 .1,0 .1,0 .1,0 .1,0 .1,0 .1,0 .1,0 .1,0 .1,0 .1,0 .1,0 .1,0 .1,0 .1,0 .1,0 .1,0 .1,0 .1,0 .1,0 .1,0 .1,0 .1,0 .1,0 .1,0 .1,0 .1,0 .1,0 .1,0 .1,0 .1,0 .1,0 .1,0 .1,0 .1,0 .1,0 .1,0 .1,0 .1,0 .1,0 .1,0 .1,0 .1,0 0,.1 .1,0 .1,0 .1,0 .1,0 .1,0 .1,0 .1,0 .1,0 .1,0 .1,0 .1,0 .1,0 .1,0 .1,0 .1,0 .1,0 .1,0 .1,0 .1,0 .1,0 .1,0 .1,0 .1,0 .1,0 .1,0 0,.1 .1,0 .1,0 .1,0 .1,0 .1,0 .1,0 .1,0 .1,0 .1,0 .1,0 .1,0 .1,0 .1,0 .1,0 .1,0 .1,0 .1,0 .1,0 .1,0 0,.1 .1,0 .1,0 .1,0 .1,0 .1,0 .1,0 .1,0 .1,0 .1,0 .1,0 .1,0 .1,0 .1,0 .1,0 .1,0 .1,0 .1,.1 .1,0 .1,0 .1,0 .1,0 .1,0 .1,0 .1,0 .1,0 .1,0 .1,0 .1,0 .1,0 .1,0 .1,0 .1,0 0,.1 .1,0 .1,0 .1,0 .1,0 .1,0 .1,0 .1,0 .1,0 .1,0 .1,0 .1,0 .1,0 .1,0 .1,0 .1,.1 .1,0 .1,0 .1,0 .1,0 .1,0 .1,0 .1,0 .1,0 .1,0 .1,0 .1,0 .1,0 .1,0 0,.1 .1,0 .1,0 .1,0 .1,0 .1,0 .1,0 .1,0 .1,0 .1,0 .1,0 .1,0 .1,0 .1,0 .1,.1 .1,0 .1,0 .1,0 .1,0 .1,0 .1,0 .1,0 .1,0 .1,0 .1,0 .1,0 .1,.1 .1,0 .1,0 .1,0 .1,0 .1,0 .1,0 .1,0 .1,0 .1,0 .1,0 .1,0 0,.1 .1,0 .1,0 .1,0 .1,0 .1,0 .1,0 .1,0 .1,0 .1,0 .1,0 .1,.1 .1,0 .1,0 .1,0 .1,0 .1,0 .1,0 .1,0 .1,0 .1,0 .1,0 .1,.1 .1,0 .1,0 .1,0 .1,0 .1,0 .1,0 .1,0 .1,0 .1,0 0,.1 .1,0 .1,0 .1,0 .1,0 .1,0 .1,0 .1,0 .1,0 .1,0 .1,.1 .1,0 .1,0 .1,0 .1,0 .1,0 .1,0 .1,0 .1,.1 .1,0 .1,0 .1,0 .1,0 .1,0 .1,0 .1,0 .1,0 0,.1 .1,0 .1,0 .1,0 .1,0 .1,0 .1,0 .1,0 .1,0 0,.1 .1,0 .1,0 .1,0 .1,0 .1,0 .1,0 .1,0 0,.1 .1,0 .1,0 .1,0 .1,0 .1,0 .1,0 .1,0 .1,.1 .1,0 .1,0 .1,0 .1,0 .1,0 .1,0 0,.1 .1,0 .1,0 .1,0 .1,0 .1,0 .1,0 0,.1 .1,0 .1,0 .1,0 .1,0 .1,0 .1,0 0,.1 .1,0 .1,0 .1,0 .1,0 .1,0 .1,.1 .1,0 .1,0 .1,0 .1,0 .1,.1 .1,0 .1,0 .1,0 .1,0 .1,.1 .1,0 .1,0 .1,0 .1,0 0,.1 .1,0 .1,0 .1,0 .1,0 .1,.1 .1,0 .1,0 .1,0 .1,0 0,.1 .1,0 .1,0 .1,0 .1,0 0,.1 .1,0 .1,0 .1,0 .1,0 0,.1 .1,0 .1,0 .1,0 .1,0 0,.1 .1,0 .1,0 .1,0 .1,0 0,.1 .1,0 .1,0 .1,0 .1,.1 .1,0 .1,0 .1,0 .1,.1 .1,0 .1,0 .1,0 0,.1 .1,0 .1,0 .1,0 0,.1 .1,0 .1,0 .1,0 .1,.1 .1,0 .1,0 .1,0 .1,.1 .1,0 .1,0 .1,0 0,.1 .1,0 .1,0 .1,0 0,.1 .1,0 .1,0 .1,0 0,.1 .1,0 .1,0 .1,0 .1,.1 .1,0 .1,0 .1,0 0,.1 .1,0 .1,0 .1,0 .1,.1 .1,0 .1,0 .1,0 0,.1 .1,0 .1,0 .1,0 .1,.1 .1,0 .1,0 .1,0 0,.1 .1,0 .1,0 .1,0 0,.1 .1,0 .1,0 .1,0 0,.1 .1,0 .1,0 .1,0 .1,.1 .1,0 .1,0 .1,.1 .1,0 .1,0 .1,0 0,.1 .1,0 .1,0 .1,0 0,.1 .1,0 .1,0 .1,0 0,.1 .1,0 .1,0 .1,0 .1,.1 .1,0 .1,0 .1,.1 .1,0 .1,0 .1,.1 .1,0 .1,0 .1,.1 .1,0 .1,0 .1,.1 .1,0 .1,0 .1,.1 .1,0 .1,0 .1,.1 .1,0 .1,0 0,.1 .1,0 .1,0 .1,0 0,.1 .1,0 .1,0 .1,0 0,.1 .1,0 .1,0 .1,.1 .1,0 .1,0 .1,.1 .1,0 .1,0 0,.1 .1,0 .1,0 .1,0 0,.1 .1,0 .1,0 .1,.1 .1,0 .1,0 0,.1 .1,0 .1,0 .1,0 0,.1 .1,0 .1,0 .1,.1 .1,0 .1,0 0,.1 .1,0 .1,0 .1,0 0,.1 .1,0 .1,0 .1,.1 .1,0 .1,0 0,.1 .1,0 .1,0 .1,.1 .1,0 .1,0 0,.1 .1,0 .1,0 .1,.1 .1,0 .1,.1 .1,0 .1,0 0,.1 .1,0 .1,0 .1,0 0,.1 .1,0 .1,0 .1,.1 .1,0 .1,.1 .1,0 .1,0 0,.1 .1,0 .1,0 0,.1 .1,0 .1,0 .1,0 0,.1 .1,0 .1,0 0,.1 .1,0 .1,0 .1,.1 .1,0 .1,.1 .1,0 .1,0 0,.1 .1,0 .1,0 .1,.1 .1,0 .1,.1 .1,0 .1,0 0,.1 .1,0 .1,0 0,.1 .1,0 .1,0 0,.1 .1,0 .1,0 .1,0 0,.1 .1,0 .1,0 0,.1 .1,0 .1,0 0,.1 .1,0 .1,0 0,.1 .1,0 .1,0 .1,.1 .1,0 .1,.1 .1,0 .1,.1 .1,0 .1,0 0,.1 .1,0 .1,0 0,.1 .1,0 .1,0 0,.1 .1,0 .1,0 0,.1 .1,0 .1,0 .1,.1 .1,0 0,.1 .1,0 .1,0 0,.1 .1,0 .1,0 .1,.1 .1,0 0,.1 .1,0 .1,0 0,.1 .1,0 .1,0 0,.1 .1,0 .1,0 0,.1 .1,0 .1,.1 .1,0 .1,0 0,.1 .1,0 .1,.1 .1,0 0,.1 .1,0 .1,0 0,.1 .1,0 .1,0 0,.1 .1,0 .1,0 0,.1 .1,0 .1,.1 .1,0 0,.1 .1,0 .1,.1 .1,0 0,.1 .1,0 .1,0 0,.1 .1,0 .1,.1 .1,0 0,.1 .1,0 .1,.1 .1,0 .1,.1 .1,.1 .1,0 .1,.1 .1,0 0,.1 .1,0 .1,.1 .1,0 0,.1 .1,0 .1,.1 .1,0 0,.1 .1,0 0,.1 .1,0 .1,0 0,.1 .1,0 .1,.1 .1,0 0,.1 .1,0 .1,.1 .1,0 0,.1 .1,0 .1,.1 .1,0 .1,.1 .1,.1 .1,0 .1,.1 .1,0 0,.1 .1,0 .1,.1 .1,0 0,.1 .1,0 .1,0 0,.1 .1,0 0,.1 .1,0 .1,0 0,.1 .1,0 .1,.1 .1,0 0,.1 .1,0 .1,.1 .1,0 0,.1 .1,0 .1,.1 .1,0 0,.1 .1,0 .1,.1 .1,0 0,.1 .1,0 .1,.1 .1,0 0,.1 .1,0 .1,.1 .1,.1 .1,0 .1,.1 .1,.1 .1,0 0,.1 .1,0 .1,.1 .1,0 0,.1 .1,0 0,.1 .1,0 .1,.1 .1,0 0,.1 .1,0 .1,.1 .1,0 0,.1 .1,0 0,.1 .1,0 .1,.1 .1,.1 .1,0 0,.1 .1,0 0,.1 .1,0 .1,.1 .1,0 0,.1 .1,0 .1,.1 .1,0 0,.1 .1,.1 .1,0 0,.1 .1,0 0,.1 .1,0 .1,.1 .1,0 0,.1 .1,0 0,.1 .1,0 .1,.1 .1,.1 .1,0 0,.1 .1,0 0,.1 .1,0 0,.1 .1,0 0,.1 .1,0 .1,.1 .1,0 0,.1 .1,0 0,.1 .1,0 0,.1 .1,0 0,.1 .1,0 .1,.1 .1,0 0,.1 .1,.1 .1,0 0,.1 .1,0 0,.1 .1,0 0,.1 .1,0 .1,.1 0,.1 .1,0 .1,.1 .1,0 0,.1 .1,.1 .1,0 0,.1 .1,0 0,.1 .1,0 0,.1 .1,0 .1,.1 0,.1 .1,0 .1,.1 .1,0 0,.1 .1,.1 .1,0 0,.1 .1,0 0,.1 .1,0 0,.1 .1,0 .1,.1 0,.1 .1,0 .1,.1 .1,.1 .1,.1 .1,.1 .1,0 0,.1 .1,.1 .1,0 0,.1 .1,.1 .1,0 0,.1 .1,0 0,.1 .1,.1 .1,0 0,.1 .1,0 0,.1 .1,.1 .1,.1 .1,0 0,.1 .1,.1 .1,.1 .1,.1 0,.1 .1,0 0,.1 .1,0 0,.1 .1,0 0,.1 .1,.1 .1,.1 .1,.1 0,.1 .1,.1 .1,.1 .1,.1 0,.1 .1,.1 .1,.1 0,.1 .1,0 0,.1 .1,.1 0,.1 .1,0 0,.1 .1,0 0,.1 0,.1 .1,.1 .1,.1 0,.1 .1,0 0,.1 0,.1 .1,0 0,.1 .1,.1 0,.1 .1,0 0,.1 0,.1 .1,.1 .1,.1 0,.1 .1,.1 0,.1 .1,.1 0,.1 .1,.1 .1,.1 0,.1 0,.1 .1,.1 .1,.1 0,.1 0,.1 .1,.1 0,.1 .1,.1 0,.1 .1,0 0,.1 0,.1 .1,.1 0,.1 .1,.1 0,.1 .1,.1 0,.1 0,.1 .1,.1 0,.1 .1,0 0,.1 .1,.1 0,.1 0,.1 .1,.1 0,.1 .1,.1 0,.1 .1,.1 0,.1 0,.1 .1,.1 0,.1 .1,.1 0,.1 .1,.1 0,.1 0,.1 .1,.1 0,.2 .1,.1 0,.1 .1,.1 0,.1 0,.1 .1,.1 0,.1 .1,.1 0,.1 .1,.1 0,.1 0,.1 .1,.1 0,.1 .1,.2 0,.1 .1,.1 0,.1 0,.1 .1,.1 0,.1 .1,.1 0,.1 .1,.1 0,.1 0,.2 .1,.1 0,.1 .1,.1 0,.1 .1,.1 0,.1 0,.1 .1,.1 .1,.1 0,.1 .1,.1 0,.1 0,.1 .1,.1 0,.1 .1,.1 0,.1 .1,.1 0,.1 0,.1 .1,.1 0,.1 .1,.1 0,.1 .1,.1 0,.1 0,.2 .1,.1 0,.1 .1,.1 0,.1 0,.1 .1,.1 0,.1 .1,.2 0,.1 .1,.1 0,.1 0,.1 .1,.1 0,.1 .1,.2 0,.1 .1,.1 0,.1 0,.1 .1,.2 0,.1 .1,.1 0,.1 .1,.1 0,.2 0,.1 .1,.1 0,.1 .1,.2 0,.1 .1,.1 0,.1 0,.2 .1,.1 0,.1 .1,.1 0,.2 .1,.1 0,.1 0,.1 .1,.1 0,.2 .1,.1 0,.1 .1,.1 0,.2 0,.1 .1,.1 0,.1 .1,.2 0,.1 .1,.1 0,.1 0,.1 .1,.2 0,.1 .1,.1 0,.1 .1,.2 0,.1 0,.1 .1,.1 0,.1 .1,.1 0,.2 .1,.1 0,.1 0,.1 .1,.1 0,.1 .1,.1 0,.2 .1,.1 0,.1 0,.1 .1,.1 0,.1 .1,.1 0,.1 .1,.1 0,.1 0,.1 .1,.1 0,.1 .1,.1 0,.1 .1,.1 0,.1 0,.1 .1,.1 0,.1 .1,.1 0,.1 .1,.1 0,.1 .1,.1 0,.1 .1,.1 0,.1 .1,.1 0,.1 .1,0 0,.1 .1,.1 0,.1 .1,.1 .1,.1 .1,.1 0,.1 .1,0 0,.1 .1,0 0,.1 .1,0 0,.1 .1,.1 .1,.1 .1,.1 0,.1 .1,0 0,.1 .1,0 .1,.1 .1,.1 .1,0 0,.1 .1,0 0,.1 .1,0 .1,.1 .1,0 0,.1 .1,0 .1,0 0,.1 .1,0 0,.1 .1,0 .1,.1 .1,0 0,.1 .1,0 .1,0 .1,.1 .1,0 .1,0 0,.1 .1,0 .1,0 .1,0 .1,0 .1,0 .1,0 .1,0 .1,0 .1,0 .1,0 .1,0 0-.1 .1,0 .1,0 .1,0 0-.1 .1,0 .1,0 0-.1 .1,0 .1,0 0-.1 .1,0 0-.1 .1,0 .1,0 0-.1 .1,0 0-.1 .1,0 .1-.1 .1-.1 .1,0 0-.1 .1,0 0-.1 .1,0 0-.1 .1,0 0-.1 .1,0 0-.1 .1,0 0-.1 .1,0 .1-.1 0-.1 .1,0 .1-.1 .1-.1 0-.1 .1,0 .1-.1 .1-.1 0-.1 .1,0 .1-.1 .1-.1 0-.1 .1,0 .1-.1 .1-.1 .1-.1 .1-.1 .1,0 0-.1 .1,0 0-.1 .1,0 0-.1 .1,0 0-.1 .1,0 .1-.1 .1-.1 .1,0 0-.1 .1,0 0-.1 .1,0 .1-.1 .1,0 0-.1 .1,0 .1,0 0-.1 .1,0 .1-.1 .1,0 .1,0 0-.1 .1,0 .1,0 0-.1 .1,0 .1,0 .1,0 0-.1 .1,0 .1,0 .1,0 .1,0 .1,0 .1,0 .1,0 0-.1 .1,0 .1,.1 .1,0 .1,0 .1,0 .1,0 .1,0 .1,.1 .1,0 .1,0 0,.1 .1,0 .1,0 0,.1 .1,0 .1,0 0,.1 .1,0 .1,.1 .1,0 0,.1 .1,0 0,.1 .1,0 .1,.1 .1,.1 .1,.1 .1,.1 .1,.1 .1,.1 .1,.1 0,.1 .1,0 0,.1 .1,0 0,.1 .1,0 0,.1 0,.1 .1,0 0,.1 .1,0 0,.1 .1,0 0,.1 0,.1 .1,0 0,.1 .1,.1 .1,.1 0,.1 .1,.1 0,.1 .1,.1 .1,.1 0,.1 0,.1 .1,0 0,.1 .1,.1 0,.1 .1,.1 0,.1 .1,.1 0,.1 .1,.1 0,.1 .1,0 0,.1 0,.1 .1,.1 0,.1 .1,.1 0,.1 .1,.1 0,.1 0,.1 .1,.1 0,.1 .1,.1 0,.1 .1,.1 0,.1 0,.1 .1,.1 0,.1 .1,.1 0,.1 .1,.1 0,.1 0,.1 .1,.1 0,.2 .1,.1 0,.1 0,.1 .1,.1 0,.1 .1,.2 0,.1 .1,.1 0,.1 0,.1 .1,.2 0,.1 .1,.1 0,.1 .1,.2 0,.1 0,.1 .1,.2 0,.1 .1,.1 0,.2 .1,.1 0,.1 0,.2 .1,.1 0,.2 .1,.1 0,.1 .1,.2 0,.1 0,.2 .1,.1 0,.2 .1,.1 0,.2 .1,.1 0,.2 0,.1 .1,.2 0,.1 .1,.2 0,.1 .1,.2 0,.2 0,.1 .1,.2 0,.1 .1,.2 0,.2 .1,.1 0,.2 0,.1 .1,.2 0,.2 .1,.1 0,.2 .1,.2 0,.1 0,.2 .1,.2 0,.1 .1,.2 0,.2 .1,.1 0,.2 0,.1 .1,.2 0,.2 .1,.1 0,.2 .1,.1 0,.2 0,.1 .1,.2 0,.1 .1,.2 0,.1 .1,.2 0,.1 0,.1 .1,.2 0,.1 .1,.1 0,.1 .1,.2 0,.1 0,.1 .1,.1 0,.1 .1,.1 0,.1 .1,.1 0,.1 0,.1 .1,.1 .1,.1 0,.1 .1,.1 0,.1 .1,0 .1,.1 0,.1 .1,0 .1,0 .1,0 .1,0 .1,0 .1-.1 .1-.1 .1,0 0-.1 .1,0 0-.1 .1-.1 0-.1 .1,0 0-.1 .1-.1 0-.1 .1-.1 .1-.1 0-.1 .1-.1 0-.1 .1-.1 0-.1 .1-.1 0-.1 .1,0 0-.1 0-.1 .1-.1 0-.1 .1-.1 .1-.1 0-.1 0-.1 .1-.1 0-.1 .1,0 0-.1 .1-.1 0-.1 0-.1 .1-.1 .1-.1 0-.1 .1-.1 0-.1 .1-.1 0-.1 .1,0 0-.1 .1-.1 0-.1 .1-.1 .1-.1 0-.1 .1,0 0-.1 0-.1 .1,0 0-.1 .1,0 0-.1 .1-.1 0-.1 .1,0 0-.1 .1,0 0-.1 .1-.1 .1,0 0-.1 .1,0 0-.1 .1,0 0-.1 .1,0 .1-.1 .1-.1 .1,0 .1-.1 .1,0 0-.1 .1,0 .1,0 .1,0 0-.1 .1,0 .1,0 .1,0 .1,0 .1,0 .1,0 0,.1 .1,0 .1,0 .1,0 0,.1 .1,0 .1,0 0,.1 .1,0 .1,0 0,.1 .1,0 0,.1 .1,0 .1,.1 .1,.1 0,.1 .1,0 0,.1 .1,0 0,.1 .1,0 0,.1 .1,.1 .1,.1 0,.1 .1,0 0,.1 .1,.1 0,.1 .1,.1 .1,.1 0,.1 0,.1 .1,0 0,.1 .1,.1 0,.1 0,.1 .1,.1 .1,.1 0,.1 .1,.1 0,.1 0,.1 .1,.1 0,.1 .1,.1 0,.1 .1,.1 0,.1 0,.2 .1,.1 0,.1 .1,.1 0,.1 .1,.1 0,.2 0,.1 .1,.1 0,.1 .1,.2 0,.1 .1,.1 0,.2 0,.1 .1,.2 0,.1 .1,.1 0,.2 .1,.1 0,.2 0,.1 .1,.2 0,.1 .1,.2 0,.2 .1,.1 0,.2 0,.2 .1,.1 0,.2 .1,.2 0,.1 .1,.2 0,.2 0,.2 .1,.1 0,.2 .1,.2 0,.2 .1,.2 0,.2 0,.2 .1,.1 0,.2 .1,.2 0,.2 .1,.2 0,.2 0,.2 .1,.2 0,.2 .1,.2 0,.2 .1,.2 0,.2 0,.2 .1,.2 0,.2 .1,.2 0,.2 .1,.2 0,.1 0,.2 .1,.2 0,.2 .1,.2 0,.1 .1,.2 0,.2 0,.1 .1,.2 0,.1 .1,.2 0,.1 .1,.1 0,.1 0,.2 .1,.1 0,.1 .1,0 0,.1 0,.1 .1,0 0,.1 .1,0 0,.1 .1,0 .1,0 .1-.1 .1-.1 0-.1 .1,0 0-.1 .1-.1 0-.1 .1-.1 0-.1 0-.1 .1-.1 0-.1 .1-.1 0-.2 .1-.1 0-.1 0-.1 .1-.2 0-.1 .1-.2 0-.1 .1-.1 0-.2 0-.1 .1-.2 0-.1 .1-.1 0-.2 .1-.1 0-.2 0-.1 .1-.1 0-.2 .1-.1 0-.1 .1-.2 0-.1 0-.1 .1-.2 0-.1 .1-.1 0-.1 .1-.1 0-.2 0-.1 .1-.1 0-.1 .1-.1 0-.1 .1-.1 0-.1 0-.1 .1-.1 0-.1 .1-.1 0-.1 .1-.1 0-.1 .1-.1 0-.1 .1,0 0-.1 .1-.1 0-.1 .1-.1 .1-.1 .1-.1 0-.1 .1,0 0-.1 .1,0 .1-.1 .1,0 0-.1 .1,0 .1,0 .1,0 .1,0 .1,0 .1,0 0,.1 .1,0 .1,.1 .1,0 0,.1 .1,0 0,.1 .1,0 0,.1 .1,0 0,.1 .1,.1 0,.1 .1,.1 .1,.1 0,.1 .1,.1 0,.1 .1,.1 0,.1 .1,.1 0,.1 .1,.1 0,.1 0,.1 .1,.2 0,.1 .1,.1 0,.1 .1,.1 0,.2 0,.1 .1,.1 0,.2 .1,.1 0,.2 .1,.1 0,.2 0,.1 .1,.2 0,.1 .1,.2 0,.2 .1,.1 0,.2 0,.2 .1,.2 0,.2 .1,.1 0,.2 .1,.2 0,.2 0,.2 .1,.2 0,.3 .1,.2 0,.2 .1,.2 0,.2 0,.3 .1,.2 0,.2 .1,.3 0,.2 .1,.2 0,.3 0,.2 .1,.3 0,.2 .1,.3 0,.2 .1,.2 0,.3 0,.2 .1,.3 0,.2 .1,.3 0,.2 0,.3 .1,.2 0,.2 .1,.3 0,.2 .1,.2 0,.2 0,.2 .1,.2 0,.2 .1,.1 0,.2 .1,.1 0,.1 0,.2 .1,.1 .1,.1 0,.1 .1,0 .1,0 .1,0 0-.1 .1-.1 0-.1 0-.1 .1-.1 0-.1 .1-.1 0-.1 .1-.2 0-.1 0-.2 .1-.2 0-.1 .1-.2 0-.2 .1-.1 0-.2 0-.2 .1-.2 0-.2 .1-.2 0-.1 .1-.2 0-.2 0-.2 .1-.1 0-.2 .1-.2 0-.2 .1-.1 0-.2 0-.2 .1-.1 0-.2 .1-.1 0-.2 .1-.1 0-.1 0-.2 .1-.1 0-.1 .1-.2 0-.1 .1-.1 0-.1 0-.1 .1-.1 0-.1 .1-.1 0-.1 .1-.1 0-.1 .1-.1 0-.1 .1,0 0-.1 .1-.1 0-.1 .1,0 .1-.1 .1,0 0-.1 .1,0 .1,0 .1,0 .1,0 0,.1 .1,0 0,.1 .1,0 .1,.1 .1,.1 0,.1 .1,.1 0,.1 .1,0 0,.1 .1,.1 0,.1 0,.1 .1,.1 0,.1 .1,.1 0,.2 .1,.1 0,.1 0,.1 .1,.2 0,.1 .1,.2 0,.1 .1,.2 0,.1 0,.2 .1,.2 0,.2 .1,.1 0,.2 .1,.2 0,.2 0,.2 .1,.2 0,.3 .1,.2 0,.2 .1,.2 0,.3 0,.2 .1,.3 0,.2 .1,.3 0,.2 .1,.3 0,.3 0,.2 .1,.3 0,.3 .1,.3 0,.3 .1,.2 0,.3 0,.3 .1,.3 0,.3 .1,.3 0,.3 .1,.3 0,.3 0,.3 .1,.2 0,.3 .1,.3 0,.2 .1,.2 0,.3 0,.2 .1,.2 0,.1 .1,.2 0,.1 .1,.1 0,.1 0,.1 .1,0 0,.1 .1,0 0-.1 .1,0 0-.1 0-.1 .1-.1 0-.1 .1-.2 0-.1 0-.2 .1-.2 0-.2 .1-.2 0-.2 .1-.2 0-.2 0-.2 .1-.3 0-.2 .1-.2 0-.3 .1-.2 0-.2 0-.2 .1-.2 0-.2 .1-.3 0-.2 .1-.2 0-.2 0-.1 .1-.2 0-.2 .1-.2 0-.2 .1-.1 0-.2 0-.1 .1-.2 0-.1 .1-.2 0-.1 .1-.1 0-.1 0-.1 .1-.1 0-.1 .1-.1 0-.1 .1-.1 0-.1 .1-.1 .1-.1 .1-.1 .1,0 .1,0 .1,0 .1,0 0,.1 .1,0 .1,.1 0,.1 .1,.1 0,.1 .1,.1 .1,.1 0,.2 0,.1 .1,.1 0,.1 .1,.1 0,.2 .1,.1 0,.2 0,.1 .1,.2 0,.2 .1,.2 0,.1 .1,.2 0,.2 0,.2 .1,.3 0,.2 .1,.2 0,.3 .1,.2 0,.3 0,.2 .1,.3 0,.3 .1,.2 0,.3 0,.3 .1,.3 0,.3 .1,.3 0,.3 .1,.4 0,.3 0,.3 .1,.3 0,.4 .1,.3 0,.3 .1,.3 0,.3 0,.3 .1,.3 0,.3 .1,.3 0,.2 .1,.3 0,.2 0,.2 .1,.2 0,.1 .1,.1 0,.1 .1,0 0,.1 0-.1 .1,0 0-.1 .1-.1 0-.1 .1-.1 0-.2 0-.2 .1-.2 0-.2 .1-.3 0-.2 .1-.3 0-.2 0-.3 .1-.2 0-.3 .1-.3 0-.2 .1-.3 0-.3 0-.2 .1-.2 0-.3 .1-.2 0-.3 .1-.2 0-.2 0-.2 .1-.2 0-.2 .1-.2 0-.2 .1-.1 0-.2 0-.1 .1-.2 0-.1 .1-.1 0-.1 .1-.2 0-.1 .1-.1 0-.1 .1-.1 .1-.1 .1-.1 .1,0 .1,0 0,.1 .1,0 0,.1 .1,0 0,.1 .1,.1 0,.1 .1,.1 0,.1 .1,.2 0,.1 0,.1 .1,.2 0,.1 .1,.2 0,.2 .1,.1 0,.2 0,.2 .1,.3 0,.2 .1,.2 0,.3 .1,.2 0,.3 0,.2 .1,.3 0,.3 .1,.3 0,.3 .1,.3 0,.4 0,.3 .1,.3 0,.4 .1,.3 0,.4 .1,.3 0,.4 0,.4 .1,.3 0,.4 .1,.3 0,.4 .1,.3 0,.4 0,.3 .1,.3 0,.2 .1,.3 0,.2 .1,.2 0,.1 0,.1 .1,.1 .1,0 .1-.1 0-.1 0-.2 .1-.2 0-.2 .1-.2 0-.3 .1-.2 0-.3 0-.3 .1-.3 0-.3 .1-.3 0-.3 .1-.2 0-.3 0-.3 .1-.3 0-.3 .1-.2 0-.3 .1-.2 0-.3 0-.2 .1-.2 0-.2 .1-.2 0-.2 .1-.2 0-.1 0-.2 .1-.1 0-.1 .1-.2 0-.1 .1-.1 0-.1 .1-.1 0-.1 .1,0 .1,0 0-.1 .1,.1 .1,0 0,.1 .1,.1 0,.1 .1,.1 0,.1 .1,.1 0,.1 0,.2 .1,.1 0,.2 .1,.2 0,.1 .1,.2 0,.3 0,.2 .1,.2 0,.3 .1,.2 0,.3 .1,.3 0,.3 0,.3 .1,.3 0,.3 .1,.4 0,.3 .1,.4 0,.4 0,.4 .1,.3 0,.4 .1,.4 0,.4 .1,.4 0,.4 0,.4 .1,.4 0,.4 .1,.3 0,.3 .1,.3 0,.3 0,.2 .1,.2 0,.1 .1,.1 0,.1 .1,0 0-.1 0-.1 .1-.1 0-.2 .1-.2 0-.3 .1-.2 0-.3 0-.3 .1-.4 0-.3 .1-.3 0-.3 .1-.4 0-.3 0-.3 .1-.3 0-.3 .1-.3 0-.3 .1-.2 0-.3 0-.2 .1-.3 0-.2 .1-.2 0-.2 .1-.2 0-.1 0-.2 .1-.1 0-.2 .1-.1 0-.1 .1,0 0-.1 0-.1 .1,0 .1,0 .1,0 .1,.1 0,.1 .1,.1 0,.1 0,.1 .1,.1 0,.2 .1,.1 0,.2 .1,.2 0,.2 0,.2 .1,.3 0,.2 .1,.3 0,.3 .1,.3 0,.3 0,.3 .1,.3 0,.4 .1,.4 0,.3 .1,.4 0,.4 0,.5 .1,.4 0,.4 .1,.4 0,.5 .1,.4 0,.4 0,.4 .1,.4 0,.4 .1,.3 0,.3 .1,.3 0,.2 0,.2 .1,.1 .1,0 0-.1 .1-.1 0-.2 0-.2 .1-.3 0-.3 .1-.3 0-.3 .1-.4 0-.3 0-.4 .1-.4 0-.3 .1-.4 0-.3 .1-.3 0-.3 0-.4 .1-.2 0-.3 .1-.3 0-.2 .1-.3 0-.2 0-.2 .1-.2 0-.1 .1-.2 0-.1 .1-.1 0-.1 0-.1 .1,0 0-.1 .1,0 .1,0 0,.1 .1,.1 .1,.1 0,.1 .1,.2 0,.1 0,.2 .1,.2 0,.2 .1,.2 0,.3 .1,.3 0,.2 0,.3 .1,.4 0,.3 .1,.4 0,.3 0,.4 .1,.4 0,.4 .1,.5 0,.4 .1,.5 0,.5 0,.4 .1,.5 0,.5 .1,.4 0,.5 .1,.4 0,.4 0,.3 .1,.3 0,.3 .1,.1 0,.1 .1,.1 0-.1 .1-.2 0-.2 .1-.3 0-.3 .1-.3 0-.4 0-.4 .1-.4 0-.4 .1-.3 0-.4 .1-.4 0-.4 0-.3 .1-.4 0-.3 .1-.3 0-.3 .1-.2 0-.3 0-.2 .1-.2 0-.2 .1-.1 0-.2 .1-.1 0-.1 0-.1 .1,0 0-.1 .1,0 .1,0 0,.1 0,.1 .1,0 0,.2 .1,.1 0,.1 .1,.2 0,.2 0,.2 .1,.3 0,.3 .1,.2 0,.4 .1,.3 0,.3 0,.4 .1,.4 0,.4 .1,.5 0,.4 .1,.5 0,.5 0,.5 .1,.5 0,.5 .1,.5 0,.5 .1,.5 0,.5 0,.4 .1,.4 0,.3 .1,.2 0,.2 .1,.1 0-.1 .1-.1 0-.3 .1-.3 0-.3 0-.4 .1-.4 0-.4 .1-.4 0-.4 .1-.4 0-.5 0-.4 .1-.4 0-.3 .1-.4 0-.3 .1-.3 0-.3 0-.3 .1-.2 0-.2 .1-.2 0-.2 .1-.1 0-.1 0-.1 .1-.1 .1,0 .1,0 0,.1 0,.1 .1,.1 0,.1 .1,.2 0,.2 .1,.2 0,.3 0,.2 .1,.3 0,.4 .1,.3 0,.4 .1,.4 0,.4 0,.5 .1,.5 0,.5 .1,.5 0,.5 .1,.5 0,.6 0,.6 .1,.5 0,.5 .1,.5 0,.5 .1,.4 0,.3 0,.2 .1,.2 .1-.1 0-.1 .1-.2 0-.3 0-.4 .1-.4 0-.4 .1-.5 0-.5 .1-.4 0-.5 0-.4 .1-.5 0-.4 .1-.4 0-.3 .1-.4 0-.3 0-.3 .1-.2 0-.3 .1-.2 0-.1 .1-.2 0-.1 .1-.1 .1,0 .1,.1 0,.1 0,.1 .1,.2 0,.2 .1,.2 0,.3 0,.3 .1,.3 0,.3 .1,.4 0,.4 .1,.5 0,.4 0,.5 .1,.5 0,.6 .1,.6 0,.5 .1,.6 0,.6 0,.6 .1,.6 0,.5 .1,.5 0,.4 .1,.3 0,.2 0,.1 .1-.1 0-.1 .1-.2 0-.4 .1-.4 0-.4 0-.5 .1-.5 0-.5 .1-.5 0-.5 .1-.5 0-.4 0-.5 .1-.4 0-.4 .1-.3 0-.3 .1-.3 0-.2 0-.2 .1-.2 0-.2 .1-.1 .1-.1 0,.1 .1,0 0,.1 .1,.2 0,.2 .1,.2 0,.2 0,.3 .1,.3 0,.4 .1,.4 0,.4 .1,.5 0,.5 0,.5 .1,.6 0,.6 .1,.6 0,.6 .1,.6 0,.7 0,.6 .1,.6 0,.5 .1,.5 0,.3 .1,.3 0,.1 0-.1 .1-.1 0-.3 .1-.4 0-.4 .1-.5 0-.6 0-.5 .1-.6 0-.5 .1-.5 0-.6 .1-.4 0-.5 0-.4 .1-.3 0-.4 .1-.3 0-.2 0-.2 .1-.2 0-.1 .1-.1 0-.1 .1,0 0,.1 .1,.1 0,.2 .1,.2 0,.2 .1,.3 0,.3 0,.4 .1,.4 0,.4 .1,.5 0,.5 .1,.6 0,.6 0,.6 .1,.7 0,.7 .1,.7 0,.6 .1,.7 0,.6 0,.5 .1,.4 0,.3 .1,.2 .1-.2 0-.2 0-.4 .1-.5 0-.6 .1-.5 0-.6 .1-.6 0-.6 0-.6 .1-.5 0-.5 .1-.5 0-.4 .1-.3 0-.4 0-.2 .1-.3 0-.2 .1-.1 0-.1 .1,0 .1,.1 0,.1 .1,.2 0,.3 .1,.3 0,.3 0,.4 .1,.4 0,.5 .1,.5 0,.6 .1,.6 0,.6 0,.7 .1,.7 0,.8 .1,.7 0,.7 .1,.6 0,.6 0,.5 .1,.3 0,.2 .1,0 0-.2 .1-.3 0-.5 0-.5 .1-.6 0-.6 .1-.7 0-.6 .1-.6 0-.6 0-.5 .1-.5 0-.5 .1-.4 0-.3 0-.3 .1-.3 0-.2 .1-.1 0-.1 .1,0 0,.1 .1,.1 0,.2 .1,.2 0,.3 .1,.3 0,.4 0,.5 .1,.5 0,.6 .1,.6 0,.6 .1,.7 0,.8 0,.7 .1,.8 0,.8 .1,.7 0,.6 .1,.6 0,.3 0,.3 .1,0 0-.2 .1-.4 0-.5 .1-.5 0-.7 0-.7 .1-.6 0-.7 .1-.7 0-.6 .1-.5 0-.5 0-.5 .1-.3 0-.4 .1-.2 0-.3 .1-.1 0-.1 .1,0 0,.1 .1,.1 0,.3 .1,.2 0,.4 0,.4 .1,.4 0,.5 .1,.6 0,.7 .1,.7 0,.7 0,.8 .1,.8 0,.8 .1,.8 0,.8 .1,.6 0,.5 0,.4 .1,.1 0-.1 .1-.3 0-.5 .1-.5 0-.7 0-.7 .1-.8 0-.7 .1-.7 0-.6 .1-.6 0-.6 0-.4 .1-.4 0-.4 .1-.2 0-.2 .1-.2 .1,0 0,.2 .1,.2 0,.3 0,.3 .1,.4 0,.5 .1,.6 0,.6 .1,.7 0,.7 0,.8 .1,.9 0,.8 .1,.9 0,.8 .1,.7 0,.6 0,.5 .1,.1 .1-.3 0-.5 .1-.6 0-.7 0-.8 .1-.8 0-.7 .1-.8 0-.6 .1-.7 0-.5 0-.5 .1-.4 0-.3 .1-.3 0-.1 .1-.1 0-.1 0,.1 .1,.1 0,.2 .1,.3 0,.3 .1,.4 0,.5 0,.6 .1,.7 0,.7 .1,.8 0,.8 .1,.9 0,.8 0,.9 .1,.7 0,.7 .1,.4 0,.3 .1,0 0-.3 0-.5 .1-.6 0-.8 .1-.8 0-.8 .1-.8 0-.7 0-.7 .1-.6 0-.5 .1-.5 0-.4 .1-.3 0-.2 0-.2 .1,0 .1,.1 0,.2 .1,.3 0,.3 0,.4 .1,.5 0,.6 .1,.7 0,.7 .1,.8 0,.9 0,.8 .1,.9 0,.8 .1,.7 0,.6 .1,.3 0,.1 0-.2 .1-.4 0-.6 .1-.8 0-.8 0-.8 .1-.8 0-.7 .1-.7 0-.6 .1-.5 0-.5 0-.4 .1-.2 0-.2 .1-.2 .1,.1 0,.1 0,.3 .1,.3 0,.4 .1,.5 0,.6 .1,.6 0,.8 0,.8 .1,.8 0,.9 .1,.9 0,.8 .1,.6 0,.5 0,.3 .1,0 0-.3 .1-.5 0-.7 .1-.7 0-.8 0-.8 .1-.8 0-.7 .1-.6 0-.6 .1-.5 0-.4 0-.3 .1-.2 0-.1 .1,0 0,.1 .1,.1 0,.3 0,.3 .1,.5 0,.5 .1,.6 0,.7 .1,.8 0,.8 0,.9 .1,.9 0,.8 .1,.7 0,.5 .1,.3 0-.2 .1-.5 0-.6 .1-.8 0-.8 .1-.8 0-.7 0-.7 .1-.7 0-.5 .1-.5 0-.3 .1-.3 0-.1 0-.1 .1,0 0,.2 .1,.2 0,.3 .1,.4 0,.6 0,.6 .1,.7 0,.7 .1,.9 0,.8 .1,.9 0,.8 0,.6 .1,.5 0,.3 .1-.1 0-.3 0-.5 .1-.7 0-.8 .1-.8 0-.8 .1-.7 0-.6 0-.6 .1-.5 0-.4 .1-.3 0-.1 .1-.1 0,.1 .1,.3 0,.3 .1,.4 0,.6 .1,.6 0,.7 0,.8 .1,.8 0,.9 .1,.8 0,.8 .1,.6 0,.4 0,.1 .1-.2 0-.5 .1-.6 0-.8 .1-.8 0-.7 0-.8 .1-.6 0-.6 .1-.5 0-.4 .1-.3 0-.2 .1,0 0,.2 .1,.2 0,.4 .1,.5 0,.5 0,.7 .1,.8 0,.8 .1,.9 0,.8 .1,.8 0,.7 0,.5 .1,.1 0-.1 .1-.4 0-.6 .1-.7 0-.8 0-.8 .1-.7 0-.7 .1-.6 0-.4 .1-.4 0-.3 0-.1 .1-.1 0,.1 .1,.2 0,.3 .1,.4 0,.6 0,.6 .1,.7 0,.9 .1,.8 0,.9 .1,.9 0,.7 0,.5 .1,.2 .1-.4 0-.6 .1-.7 0-.8 0-.8 .1-.7 0-.7 .1-.6 0-.5 0-.3 .1-.3 0-.1 .1,0 0,.1 .1,.3 0,.4 0,.5 .1,.6 0,.7 .1,.8 0,.8 .1,.9 0,.9 0,.8 .1,.5 0,.3 .1,0 0-.3 .1-.6 0-.7 0-.8 .1-.8 0-.8 .1-.6 0-.6 .1-.5 0-.3 0-.2 .1-.1 .1,.2 0,.3 .1,.4 0,.6 0,.7 .1,.8 0,.8 .1,.9 0,.9 .1,.8 0,.7 0,.4 .1,0 0-.3 .1-.5 0-.7 .1-.9 0-.8 0-.7 .1-.7 0-.6 .1-.5 0-.3 .1-.2 0-.1 0,.1 .1,.2 0,.4 .1,.5 0,.6 .1,.7 0,.9 0,.9 .1,.9 0,.9 .1,.7 0,.5 .1,.2 0-.2 0-.5 .1-.7 0-.8 .1-.8 0-.8 .1-.7 0-.6 0-.5 .1-.3 0-.2 .1-.1 0,.1 .1,.3 0,.4 0,.5 .1,.7 0,.8 .1,.9 0,.9 .1,.9 0,.9 0,.7 .1,.3 .1-.4 0-.6 0-.8 .1-.9 0-.8 .1-.7 0-.7 .1-.5 0-.4 0-.2 .1-.1 0,.1 .1,.3 0,.4 .1,.5 0,.7 0,.9 .1,.9 0,1 .1,.9 0,.9 .1,.6 0,.3 0-.2 .1-.4 0-.8 .1-.8 0-.9 .1-.8 0-.7 0-.6 .1-.5 0-.3 .1-.1 .1,.2 0,.4 0,.5 .1,.7 0,.8 .1,1 0,1 .1,1 0,.9 0,.6 .1,.3 0-.2 .1-.5 0-.7 .1-.9 0-.9 0-.8 .1-.8 0-.5 .1-.5 0-.2 .1-.1 0,.1 0,.3 .1,.4 0,.7 .1,.7 0,.9 .1,1.1 0,1 0,.9 .1,.8 0,.4 .1,0 0-.4 .1-.7 0-.9 0-.9 .1-.9 0-.7 .1-.6 0-.5 .1-.3 0,.1 .1,.3 0,.5 .1,.6 0,.8 .1,1 0,1 0,1.1 .1,.9 0,.7 .1,.3 0-.2 .1-.5 0-.9 0-.9 .1-.9 0-.9 .1-.7 0-.5 0-.4 .1-.1 .1,.2 0,.5 .1,.6 0,.8 0,.9 .1,1.1 0,1.1 .1,1 0,.7 .1,.3 0-.2 0-.5 .1-.8 0-1 .1-1 0-.8 .1-.7 0-.6 0-.3 .1-.1 0,.1 .1,.3 0,.5 .1,.7 0,.8 0,1 .1,1.1 0,1.1 .1,.9 0,.5 .1,.1 0-.4 0-.8 .1-.9 0-1 .1-.9 0-.8 .1-.6 0-.4 0-.2 .1,.1 0,.2 .1,.5 0,.7 .1,.8 0,1 0,1.1 .1,1.1 0,.9 .1,.5 .1-.4 0-.8 0-1 .1-1 0-.9 .1-.8 0-.5 .1-.4 0-.1 0,.1 .1,.3 0,.6 .1,.7 0,1 .1,1 0,1.1 0,1 .1,.7 0,.2 .1-.2 0-.7 .1-.9 0-1.1 0-.9 .1-.8 0-.7 .1-.4 0-.2 .1,.1 0,.3 0,.5 .1,.7 0,1 .1,1 0,1.1 .1,.9 0,.6 0,.2 .1-.3 0-.7 .1-.9 0-1 0-1 .1-.7 0-.6 .1-.4 0-.1 .1,.1 0,.4 0,.6 .1,.8 0,.9 .1,1.1 0,1 .1,.8 0,.4 0-.1 .1-.6 0-.8 .1-1 0-.9 .1-.9 0-.6 0-.4 .1-.2 0,.1 .1,.3 0,.5 .1,.8 0,.9 0,1 .1,1 0,.8 .1,.4 0-.1 .1-.5 0-.8 0-1 .1-.9 0-.8 .1-.6 0-.4 .1-.1 0,.1 0,.4 .1,.6 0,.7 .1,1 0,1 .1,.9 0,.7 0,.2 .1-.3 0-.6 .1-.9 0-.9 .1-.9 0-.7 0-.5 .1-.2 .1,.3 0,.5 .1,.7 0,.9 0,1 .1,.9 0,.7 .1,.3 0-.1 .1-.6 0-.9 0-.9 .1-.8 0-.7 .1-.5 0-.2 .1,0 0,.2 0,.5 .1,.8 0,.8 .1,1 0,.9 .1,.6 0,.3 0-.3 .1-.6 0-.9 .1-.9 0-.8 .1-.6 0-.4 0-.1 .1,.1 0,.3 .1,.6 0,.8 0,.9 .1,1 0,.7 .1,.5 0-.1 .1-.4 0-.8 0-.9 .1-.8 0-.7 .1-.5 0-.2 .1,.1 0,.3 0,.5 .1,.8 0,.9 .1,.9 0,.8 .1,.5 0-.4 .1-.8 0-.8 .1-.8 0-.7 .1-.4 0-.2 0,.1 .1,.3 0,.6 .1,.8 0,.9 .1,.9 0,.8 0,.4 .1-.1 0-.5 .1-.8 0-.9 .1-.7 0-.6 0-.3 .1-.1 0,.2 .1,.4 0,.7 .1,.9 0,.9" stroke="#0000dd"/>
<path d="M188.2,228l.1,0 .1,0 .1,0 .1,0 .1,0 .1,0 .1,0 .1,0 .1,0 .1,0 .1,0 .1,0 .1,0 .1,0 .1,0 .1,0 .1,0 .1,0 .1,0 .1,0 .1,0 .1,0 .1,0 .1,0 .1,0 .1,0 .1,0 .1,0 .1,0 .1,0 .1,0 .1,0 .1,0 .1,0 .1,0 .1,0 .1,0 .1,0 .1,0 .1,0 .1,0 .1,0 .1,0 .1,0 .1,0 .1,0 .1,0 .1,0 .1,0 .1,0 .1,0 .1,0 .1,0 .1,0 .1,0 .1,0 .1,0 .1,.1 .1,0 .1,0 .1,0 .1,0 .1,0 .1,0 .1,0 .1,0 .1,0 .1,0 .1,0 .1,0 .1,0 .1,0 .1,0 .1,0 .1,0 .1,0 .1,0 .1,0 .1,0 .1,0 .1,0 .1,0 .1,0 .1,0 .1,0 .1,0 .1,0 .1,0 .1,0 .1,0 .1,0 .1,0 .1,0 .1,0 .1,0 .1,0 .1,0 .1,0 .1,0 .1,0 .1,0 .1,0 .1,0 .1,0 .1,0 .1,0 .1,0 .1,0 .1,0 .1,0 .1,0 .1,0 .1,0 .1,0 .1,0 .1,0 .1,0 .1,0 .1,0 .1,0 .1,0 .1,0 .1,0 .1,0 .1,0 .1,0 .1,0 .1,0 .1,0 .1,0 .1,0 .1,0 .1,.1 .1,0 .1,0 .1,0 .1,0 .1,0 .1,0 .1,0 .1,0 .1,0 .1,0 .1,0 .1,0 .1,0 .1,0 .1,0 .1,0 .1,0 .1,0 .1,0 .1,0 .1,0 .1,0 .1,0 .1,0 .1,0 0,.1 .1,0 .1,0 .1,0 .1,0 .1,0 .1,0 .1,0 .1,0 .1,0 .1,0 .1,0 .1,0 .1,0 .1,0 .1,0 .1,0 .1,0 .1,0 .1,.1 .1,0 .1,0 .1,0 .1,0 .1,0 .1,0 .1,0 .1,0 .1,0 .1,0 .1,0 .1,0 .1,0 .1,0 .1,0 .1,0 0,.1 .1,0 .1,0 .1,0 .1,0 .1,0 .1,0 .1,0 .1,0 .1,0 .1,0 .1,0 .1,0 .1,0 .1,0 .1,0 .1,.1 .1,0 .1,0 .1,0 .1,0 .1,0 .1,0 .1,0 .1,0 .1,0 .1,0 .1,0 .1,0 .1,0 .1,0 0,.1 .1,0 .1,0 .1,0 .1,0 .1,0 .1,0 .1,0 .1,0 .1,0 .1,0 .1,0 .1,0 .1,0 .1,.1 .1,0 .1,0 .1,0 .1,0 .1,0 .1,0 .1,0 .1,0 .1,0 .1,0 .1,0 .1,0 .1,.1 .1,0 .1,0 .1,0 .1,0 .1,0 .1,0 .1,0 .1,0 .1,0 .1,0 .1,0 .1,.1 .1,0 .1,0 .1,0 .1,0 .1,0 .1,0 .1,0 .1,0 .1,0 .1,0 .1,0 0,.1 .1,0 .1,0 .1,0 .1,0 .1,0 .1,0 .1,0 .1,0 .1,0 .1,0 .1,0 0,.1 .1,0 .1,0 .1,0 .1,0 .1,0 .1,0 .1,0 .1,0 .1,0 .1,0 .1,.1 .1,0 .1,0 .1,0 .1,0 .1,0 .1,0 .1,0 .1,0 .1,0 0,.1 .1,0 .1,0 .1,0 .1,0 .1,0 .1,0 .1,0 .1,0 .1,0 0,.1 .1,0 .1,0 .1,0 .1,0 .1,0 .1,0 .1,0 .1,0 .1,0 0,.1 .1,0 .1,0 .1,0 .1,0 .1,0 .1,0 .1,0 .1,0 .1,.1 .1,0 .1,0 .1,0 .1,0 .1,0 .1,0 .1,0 0,.1 .1,0 .1,0 .1,0 .1,0 .1,0 .1,0 .1,0 .1,.1 .1,0 .1,0 .1,0 .1,0 .1,0 .1,0 .1,.1 .1,0 .1,0 .1,0 .1,0 .1,0 .1,.1 .1,0 .1,0 .1,0 .1,0 .1,0 .1,0 0,.1 .1,0 .1,0 .1,0 .1,0 .1,0 .1,0 0,.1 .1,0 .1,0 .1,0 .1,0 .1,0 .1,.1 .1,0 .1,0 .1,0 .1,0 .1,.1 .1,0 .1,0 .1,0 .1,0 .1,.1 .1,0 .1,0 .1,0 .1,0 0,.1 .1,0 .1,0 .1,0 .1,0 .1,.1 .1,0 .1,0 .1,0 .1,0 0,.1 .1,0 .1,0 .1,0 .1,0 0,.1 .1,0 .1,0 .1,0 .1,0 0,.1 .1,0 .1,0 .1,0 .1,0 0,.1 .1,0 .1,0 .1,0 .1,0 0,.1 .1,0 .1,0 .1,0 .1,.1 .1,0 .1,0 .1,0 0,.1 .1,0 .1,0 .1,0 .1,0 0,.1 .1,0 .1,0 .1,0 .1,.1 .1,0 .1,0 .1,.1 .1,0 .1,0 .1,0 0,.1 .1,0 .1,0 .1,0 .1,.1 .1,0 .1,0 .1,0 0,.1 .1,0 .1,0 .1,0 .1,.1 .1,0 .1,0 .1,0 0,.1 .1,0 .1,0 .1,0 0,.1 .1,0 .1,0 .1,0 .1,.1 .1,0 .1,0 .1,.1 .1,0 .1,0 .1,0 0,.1 .1,0 .1,0 .1,0 .1,.1 .1,0 .1,0 .1,0 0,.1 .1,0 .1,0 .1,0 0,.1 .1,0 .1,0 .1,0 0,.1 .1,0 .1,0 .1,0 0,.1 .1,0 .1,0 .1,0 .1,.1 .1,0 .1,0 .1,.1 .1,0 .1,0 .1,.1 .1,0 .1,0 .1,0 0,.1 .1,0 .1,0 .1,0 0,.1 .1,0 .1,0 .1,0 0,.1 .1,0 .1,0 .1,0 0,.1 .1,0 .1,0 .1,0 0,.1 .1,0 .1,0 .1,0 0,.1 .1,0 .1,0 .1,0 0,.1 .1,0 .1,0 .1,.1 .1,0 .1,0 .1,.1 .1,0 .1,0 .1,.1 .1,0 .1,0 0,.1 .1,0 .1,0 .1,0 0,.1 .1,0 .1,0 .1,.1 .1,0 .1,0 .1,.1 .1,0 .1,0 0,.1 .1,0 .1,0 .1,0 0,.1 .1,0 .1,0 .1,.1 .1,0 .1,0 .1,.1 .1,0 .1,0 0,.1 .1,0 .1,0 .1,.1 .1,0 .1,0 0,.1 .1,0 .1,0 .1,.1 .1,0 .1,0 0,.1 .1,0 .1,0 0,.1 .1,0 .1,0 .1,0 0,.1 .1,0 .1,0 .1,.1 .1,0 .1,0 0,.1 .1,0 .1,0 0,.1 .1,0 .1,0 .1,.1 .1,0 .1,0 0,.1 .1,0 .1,0 .1,.1 .1,0 .1,0 0,.1 .1,0 .1,0 0,.1 .1,0 .1,0 .1,.1 .1,0 .1,0 0,.1 .1,0 .1,0 .1,.1 .1,0 .1,.1 .1,0 .1,.1 .1,0 .1,0 0,.1 .1,0 .1,0 .1,.1 .1,0 .1,.1 .1,0 .1,0 0,.1 .1,0 .1,0 0,.1 .1,0 .1,0 0,.1 .1,0 .1,0 .1,.1 .1,0 .1,.1 .1,0 .1,.1 .1,0 .1,0 0,.1 .1,0 .1,0 0,.1 .1,0 .1,0 0,.1 .1,0 .1,0 0,.1 .1,0 .1,0 .1,.1 .1,0 .1,.1 .1,0 .1,.1 .1,0 .1,.1 .1,0 .1,.1 .1,0 .1,.1 .1,0 .1,.1 .1,0 .1,.1 .1,0 .1,.1 .1,0 0,.1 .1,0 .1,0 .1,.1 .1,0 0,.1 .1,0 .1,0 0,.1 .1,0 .1,0 0,.1 .1,0 .1,.1 .1,0 .1,.1 .1,0 0,.1 .1,0 .1,0 0,.1 .1,0 .1,.1 .1,0 0,.1 .1,0 .1,.1 .1,0 0,.1 .1,0 .1,0 0,.1 .1,0 .1,.1 .1,0 0,.1 .1,0 .1,.1 .1,0 .1,.1 .1,.1 .1,0 .1,.1 .1,.1 .1,0 .1,.1 .1,.1 .1,0 .1,.1 .1,0 0,.1 .1,0 0,.1 .1,0 .1,0 0,.1 .1,0 0,.1 .1,0 .1,0 0,.1 .1,0 0,.1 .1,0 .1,0 0,.1 .1,0 .1,.1 .1,0 0,.1 .1,0 .1,.1 .1,0 .1,.1 .1,.1 .1,0 .1,.1 .1,.1 .1,0 .1,.1 .1,0 0,.1 .1,0 .1,.1 .1,0 0,.1 .1,0 .1,.1 .1,0 0,.1 .1,0 .1,.1 .1,0 0,.1 .1,0 .1,0 0,.1 .1,0 0,.1 .1,0 .1,0 0,.1 .1,0 0,.1 .1,0 .1,.1 .1,0 0,.1 .1,0 0,.1 .1,0 .1,0 0,.1 .1,0 0,.1 .1,0 .1,.1 .1,0 0,.1 .1,0 .1,.1 .1,0 0,.1 .1,0 0,.1 .1,0 .1,.1 .1,.1 .1,0 .1,.1 .1,.1 .1,0 0,.1 .1,0 0,.1 .1,0 .1,.1 .1,0 0,.1 .1,0 0,.1 .1,0 .1,.1 .1,.1 .1,0 0,.1 .1,0 0,.1 .1,0 .1,.1 .1,0 0,.1 .1,0 0,.1 .1,0 .1,.1 .1,.1 .1,0 0,.1 .1,0 0,.1 .1,0 0,.1 .1,0 .1,.1 .1,.1 .1,0 0,.1 .1,.1 .1,0 0,.1 .1,0 0,.1 .1,0 .1,.1 .1,.1 .1,.1 .1,0 0,.1 .1,0 0,.1 .1,0 0,.1 .1,0 .1,.1 0,.1 .1,0 .1,.1 .1,.1 .1,.1 .1,0 0,.1 .1,0 0,.1 .1,0 0,.1 .1,0 0,.1 .1,0 0,.1 .1,0 .1,.1 .1,.1 .1,.1 .1,.1 .1,0 0,.1 .1,0 0,.1 .1,0 0,.1 .1,0 0,.1 .1,0 0,.1 .1,0 .1,.1 0,.1 .1,0 .1,.1 .1,0 0,.1 .1,.1 .1,0 0,.1 .1,0 0,.1 .1,.1 .1,0 0,.1 .1,.1 .1,0 0,.1 .1,0 0,.1 .1,.1 .1,.1 .1,0 0,.1 .1,.1 .1,.1 .1,.1 0,.1 .1,0 0,.1 .1,0 .1,.1 0,.1 .1,0 0,.1 .1,0 0,.1 .1,.1 0,.1 .1,0 0,.1 .1,0 0,.1 .1,0 0,.1 .1,.1 .1,.1 0,.1 .1,0 0,.1 .1,.1 0,.1 .1,0 0,.1 .1,.1 0,.1 .1,0 0,.1 .1,.1 .1,.1 0,.1 .1,.1 0,.1 .1,0 0,.1 .1,.1 0,.1 .1,.1 0,.1 .1,0 0,.1 .1,.1 0,.1 0,.1 .1,0 0,.1 .1,.1 0,.1 .1,0 0,.1 0,.1 .1,.1 0,.1 .1,0 0,.1 .1,.1 0,.1 0,.1 .1,.1 .1,.1 0,.1 0,.1 .1,.1 0,.1 .1,.1 0,.1 .1,0 0,.1 0,.1 .1,.1 0,.1 .1,.1 0,.1 .1,.1 0,.1 0,.1 .1,.1 0,.1 .1,.1 0,.1 .1,.1 0,.1 0,.1 .1,.1 0,.1 .1,.1 0,.1 .1,.1 0,.1 0,.1 .1,.1 0,.1 .1,.1 0,.1 .1,.1 0,.1 0,.1 .1,.1 0,.1 .1,.1 0,.1 .1,.2 0,.1 0,.1 .1,.1 0,.1 .1,.1 0,.1 .1,.1 0,.1 0,.1 .1,.1 0,.2 .1,.1 0,.1 .1,.1 0,.1 0,.1 .1,.1 0,.1 .1,.2 0,.1 .1,.1 0,.1 0,.1 .1,.1 0,.1 .1,.2 0,.1 .1,.1 0,.1 .1,.1 0,.1 .1,.1 0,.1 .1,.1 0,.1 0,.1 .1,.1 0,.1 .1,.1 0,.1 .1,.1 0,.1 0,.1 .1,.1 0,.1 .1,.2 0,.1 .1,.1 0,.1 0,.1 .1,.1 0,.1 .1,.1 0,.2 0,.1 .1,.1 0,.1 .1,.1 0,.1 .1,.2 0,.1 0,.1 .1,.1 0,.1 .1,.2 0,.1 .1,.1 0,.1 0,.2 .1,.1 0,.1 .1,.1 0,.2 .1,.1 0,.1 0,.1 .1,.2 0,.1 .1,.1 0,.1 .1,.2 0,.1 0,.1 .1,.2 0,.1 .1,.1 0,.2 .1,.1 0,.1 0,.1 .1,.2 0,.1 .1,.1 0,.2 .1,.1 0,.1 0,.1 .1,.2 0,.1 .1,.1 0,.2 .1,.1 0,.1 0,.1 .1,.2 0,.1 .1,.1 0,.1 .1,.2 0,.1 0,.1 .1,.1 0,.2 .1,.1 0,.1 .1,.1 0,.1 0,.2 .1,.1 0,.1 .1,.1 0,.2 .1,.1 0,.1 0,.1 .1,.1 0,.1 .1,.1 0,.1 .1,.2 0,.1 0,.1 .1,.1 0,.1 .1,.1 0,.1 .1,.1 0,.1 0,.1 .1,.1 0,.1 .1,.1 0,.1 .1,.1 0,.1 .1,.1 0,.1 .1,.1 0,.1 0,.1 .1,0 0,.1 .1,.1 .1,.1 0,.1 .1,.1 0,.1 .1,0 0,.1 .1,0 0,.1 .1,.1 .1,.1 .1,.1 0,.1 .1,.1 .1,.1 .1,.1 0,.1 .1,0 .1,.1 .1,.1 .1,.1 .1,0 0,.1 .1,0 0,.1 .1,0 .1,.1 .1,0 0,.1 .1,0 .1,0 0,.1 .1,0 0,.1 .1,0 .1,.1 .1,0 0,.1 .1,0 .1,0 .1,.1 .1,0 .1,0 0,.1 .1,0 .1,0 .1,0 .1,0 .1,0 .1,0 .1,0 .1,0 .1,0 .1-.1 .1,0 .1,0 0-.1 .1,0 .1,0 .1-.1 .1,0 0-.1 .1,0 .1,0 0-.1 .1,0 0-.1 .1,0 .1-.1 .1-.1 .1,0 0-.1 .1,0 0-.1 .1,0 0-.1 .1,0 0-.1 .1,0 0-.1 .1,0 0-.1 .1,0 0-.1 .1,0 0-.1 .1,0 0-.1 .1,0 0-.1 .1,0 0-.1 .1,0 0-.1 .1,0 0-.1 .1,0 0-.1 .1-.1 .1-.1 .1-.1 0-.1 .1,0 .1-.1 .1-.1 0-.1 .1,0 0-.1 .1,0 .1-.1 0-.1 .1,0 0-.1 .1,0 0-.1 .1,0 0-.1 .1,0 0-.1 .1,0 0-.1 .1,0 0-.1 .1,0 .1-.1 .1-.1 .1-.1 .1,0 0-.1 .1,0 0-.1 .1,0 .1,0 0-.1 .1,0 0-.1 .1,0 .1,0 0-.1 .1,0 .1-.1 .1,0 0-.1 .1,0 .1,0 .1-.1 .1,0 .1,0 .1-.1 .1,0 .1,0 .1,0 .1,0 .1,0 .1,0 0-.1 .1,0 .1,0 .1,0 0,.1 .1,0 .1,0 .1,0 .1,0 .1,.1 .1,0 .1,0 0,.1 .1,0 .1,0 0,.1 .1,0 .1,0 0,.1 .1,0 .1,.1 .1,0 0,.1 .1,0 0,.1 .1,0 .1,.1 0,.1 .1,0 .1,.1 .1,.1 0,.1 .1,0 0,.1 .1,0 0,.1 .1,0 0,.1 .1,.1 .1,.1 .1,.1 0,.1 .1,0 0,.1 .1,.1 .1,.1 0,.1 .1,.1 0,.1 .1,0 0,.1 .1,.1 0,.1 .1,.1 0,.1 .1,0 0,.1 .1,.1 0,.1 .1,.1 0,.1 .1,.1 0,.1 .1,.1 0,.1 .1,.1 0,.1 .1,.1 0,.1 .1,.1 0,.1 .1,.1 0,.1 .1,.1 0,.1 .1,.1 0,.1 0,.1 .1,.1 0,.1 .1,.1 0,.1 .1,.2 0,.1 0,.1 .1,.1 0,.1 .1,.1 0,.1 .1,.1 0,.1 0,.2 .1,.1 0,.1 .1,.1 0,.1 0,.2 .1,.1 0,.1 .1,.1 0,.2 .1,.1 0,.1 0,.1 .1,.2 0,.1 .1,.1 0,.2 .1,.1 0,.1 0,.2 .1,.1 0,.2 .1,.1 0,.2 .1,.1 0,.1 0,.2 .1,.1 0,.2 .1,.1 0,.2 .1,.1 0,.2 0,.2 .1,.1 0,.2 .1,.1 0,.2 .1,.2 0,.1 0,.2 .1,.1 0,.2 .1,.2 0,.1 .1,.2 0,.2 0,.1 .1,.2 0,.2 .1,.2 0,.1 .1,.2 0,.2 0,.2 .1,.1 0,.2 .1,.2 0,.2 .1,.1 0,.2 0,.2 .1,.2 0,.2 .1,.1 0,.2 .1,.2 0,.2 0,.2 .1,.1 0,.2 .1,.2 0,.2 .1,.1 0,.2 0,.2 .1,.1 0,.2 .1,.1 0,.2 .1,.1 0,.2 0,.1 .1,.2 0,.1 .1,.2 0,.1 .1,.1 0,.2 0,.1 .1,.1 0,.1 .1,.1 0,.1 .1,.1 0,.1 0,.1 .1,.1 0,.1 .1,.1 0,.1 .1,.1 0,.1 .1,0 0,.1 .1,0 0,.1 .1,0 .1,0 .1,0 .1,0 .1,0 0-.1 .1,0 0-.1 .1,0 0-.1 .1,0 0-.1 .1,0 0-.1 .1-.1 0-.1 .1-.1 .1-.1 0-.1 0-.1 .1-.1 .1-.1 0-.1 .1-.1 0-.1 0-.1 .1-.1 0-.1 .1-.1 0-.1 .1-.1 0-.1 0-.1 .1,0 0-.1 .1-.1 0-.1 .1-.1 0-.1 0-.1 .1-.1 0-.1 .1-.1 0-.1 .1-.1 0-.1 0-.1 .1-.1 0-.1 .1,0 0-.1 .1-.1 0-.1 0-.1 .1-.1 .1-.1 0-.1 .1-.1 0-.1 .1-.1 0-.1 .1-.1 .1-.1 0-.1 0-.1 .1,0 0-.1 .1,0 0-.1 .1-.1 0-.1 .1-.1 .1-.1 0-.1 .1,0 0-.1 .1,0 0-.1 .1,0 0-.1 .1,0 0-.1 .1,0 0-.1 .1,0 0-.1 .1,0 .1-.1 .1,0 0-.1 .1,0 .1,0 0-.1 .1,0 .1,0 .1,0 .1-.1 .1,0 .1,0 .1,0 .1,.1 .1,0 .1,0 .1,0 0,.1 .1,0 .1,0 0,.1 .1,0 .1,0 0,.1 .1,0 0,.1 .1,0 0,.1 .1,0 .1,.1 0,.1 .1,0 0,.1 .1,0 0,.1 .1,0 0,.1 .1,.1 0,.1 .1,0 0,.1 .1,.1 0,.1 .1,.1 .1,.1 0,.1 .1,.1 0,.1 .1,.1 0,.1 .1,.1 0,.1 0,.1 .1,.1 0,.1 .1,.1 0,.1 .1,.1 0,.1 0,.1 .1,.1 0,.1 .1,.1 0,.1 .1,.1 0,.1 0,.2 .1,.1 0,.1 .1,.1 0,.2 .1,.1 0,.1 0,.2 .1,.1 0,.1 .1,.2 0,.1 .1,.2 0,.1 0,.1 .1,.2 0,.2 .1,.1 0,.2 .1,.1 0,.2 0,.2 .1,.1 0,.2 .1,.2 0,.1 .1,.2 0,.2 0,.2 .1,.2 0,.1 .1,.2 0,.2 .1,.2 0,.2 0,.2 .1,.2 0,.2 .1,.2 0,.2 .1,.2 0,.2 0,.2 .1,.2 0,.3 .1,.2 0,.2 .1,.2 0,.2 0,.2 .1,.3 0,.2 .1,.2 0,.2 .1,.3 0,.2 0,.2 .1,.2 0,.2 .1,.3 0,.2 .1,.2 0,.2 0,.2 .1,.2 0,.2 .1,.2 0,.2 .1,.2 0,.2 0,.2 .1,.2 0,.1 .1,.2 0,.2 .1,.1 0,.1 0,.2 .1,.1 0,.1 .1,.1 0,.1 .1,.1 0,.1 .1,0 .1,.1 .1-.1 .1,0 0-.1 .1,0 0-.1 0-.1 .1-.1 0-.1 .1-.1 0-.1 .1-.1 0-.1 0-.1 .1-.2 0-.1 .1-.1 0-.2 .1-.1 0-.2 0-.2 .1-.1 0-.2 .1-.1 0-.2 .1-.2 0-.1 0-.2 .1-.2 0-.1 .1-.2 0-.2 .1-.1 0-.2 0-.1 .1-.2 0-.2 .1-.1 0-.2 .1-.1 0-.2 0-.1 .1-.2 0-.1 .1-.1 0-.2 .1-.1 0-.2 0-.1 .1-.1 0-.1 .1-.2 0-.1 .1-.1 0-.1 0-.1 .1-.1 0-.1 .1-.1 0-.1 .1-.1 0-.1 0-.1 .1-.1 0-.1 .1-.1 0-.1 .1,0 0-.1 0-.1 .1-.1 .1-.1 .1-.1 0-.1 .1-.1 .1,0 0-.1 .1,0 0-.1 .1,0 .1,0 0-.1 .1,0 .1,0 .1,0 .1,0 .1,0 .1,.1 .1,0 0,.1 .1,0 0,.1 .1,0 0,.1 .1,0 0,.1 .1,.1 .1,.1 0,.1 .1,.1 0,.1 .1,0 0,.1 .1,.1 0,.1 0,.1 .1,.1 0,.1 .1,.1 0,.1 .1,.1 0,.1 0,.1 .1,.2 0,.1 .1,.1 0,.1 .1,.2 0,.1 0,.2 .1,.1 0,.2 .1,.1 0,.2 .1,.1 0,.2 0,.2 .1,.1 0,.2 .1,.2 0,.2 .1,.2 0,.2 0,.2 .1,.2 0,.2 .1,.2 0,.2 .1,.2 0,.2 0,.3 .1,.2 0,.2 .1,.3 0,.2 .1,.2 0,.3 0,.2 .1,.3 0,.3 .1,.2 0,.3 .1,.3 0,.2 0,.3 .1,.3 0,.3 .1,.3 0,.2 .1,.3 0,.3 0,.3 .1,.3 0,.3 .1,.2 0,.3 0,.3 .1,.3 0,.2 .1,.3 0,.3 .1,.2 0,.3 0,.2 .1,.2 0,.2 .1,.2 0,.2 .1,.2 0,.1 0,.1 .1,.2 0,.1 .1,0 0,.1 .1,0 .1,0 .1-.1 .1-.1 0-.1 0-.2 .1-.1 0-.1 .1-.2 0-.2 .1-.2 0-.1 0-.2 .1-.2 0-.2 .1-.2 0-.3 .1-.2 0-.2 0-.2 .1-.2 0-.2 .1-.3 0-.2 .1-.2 0-.2 0-.2 .1-.2 0-.2 .1-.2 0-.2 .1-.2 0-.2 0-.2 .1-.2 0-.2 .1-.1 0-.2 .1-.2 0-.1 0-.2 .1-.1 0-.2 .1-.1 0-.2 .1-.1 0-.1 0-.2 .1-.1 0-.1 .1-.1 0-.1 .1-.1 0-.1 0-.1 .1-.1 .1-.1 0-.1 .1-.1 0-.1 .1,0 0-.1 .1,0 0-.1 .1,0 .1-.1 .1,0 .1,0 .1,.1 .1,0 0,.1 .1,0 0,.1 .1,0 0,.1 .1,0 0,.1 0,.1 .1,0 0,.1 .1,.1 0,.1 .1,.1 0,.1 0,.1 .1,.1 0,.1 .1,.1 0,.2 .1,.1 0,.1 0,.2 .1,.1 0,.2 .1,.2 0,.1 .1,.2 0,.2 0,.2 .1,.2 0,.2 .1,.2 0,.2 .1,.2 0,.2 0,.2 .1,.3 0,.2 .1,.3 0,.2 .1,.3 0,.2 0,.3 .1,.3 0,.3 .1,.3 0,.3 .1,.3 0,.3 0,.3 .1,.3 0,.3 .1,.3 0,.4 .1,.3 0,.4 0,.3 .1,.3 0,.4 .1,.3 0,.4 .1,.3 0,.4 0,.3 .1,.3 0,.3 .1,.3 0,.3 .1,.3 0,.3 0,.3 .1,.2 0,.2 .1,.2 0,.1 .1,.2 0,.1 0,.1 .1,0 .1,0 .1-.1 0-.1 0-.1 .1-.2 0-.1 .1-.2 0-.2 0-.2 .1-.3 0-.2 .1-.3 0-.2 .1-.3 0-.3 0-.2 .1-.3 0-.3 .1-.3 0-.2 .1-.3 0-.3 0-.3 .1-.2 0-.3 .1-.2 0-.3 .1-.2 0-.2 0-.3 .1-.2 0-.2 .1-.2 0-.2 .1-.2 0-.2 0-.2 .1-.1 0-.2 .1-.1 0-.2 .1-.1 0-.2 0-.1 .1-.1 0-.1 .1-.1 0-.1 .1-.1 0-.1 0-.1 .1-.1 .1-.1 .1-.1 0-.1 .1,0 .1,0 .1,0 .1,.1 .1,0 0,.1 .1,0 0,.1 0,.1 .1,0 0,.1 .1,.1 0,.1 .1,.1 0,.1 0,.2 .1,.1 0,.1 .1,.2 0,.1 .1,.2 0,.2 0,.1 .1,.2 0,.2 .1,.2 0,.2 .1,.2 0,.3 0,.2 .1,.2 0,.3 .1,.3 0,.2 .1,.3 0,.3 0,.3 .1,.3 0,.3 .1,.3 0,.4 0,.3 .1,.3 0,.4 .1,.4 0,.3 .1,.4 0,.4 0,.3 .1,.4 0,.4 .1,.4 0,.4 .1,.4 0,.3 0,.4 .1,.4 0,.3 .1,.4 0,.3 .1,.3 0,.2 0,.2 .1,.3 0,.1 .1,.2 .1,.1 .1-.1 0-.1 .1-.1 0-.2 .1-.2 0-.2 0-.2 .1-.3 0-.3 .1-.3 0-.3 .1-.3 0-.3 0-.3 .1-.4 0-.3 .1-.3 0-.3 .1-.4 0-.3 0-.3 .1-.3 0-.3 .1-.2 0-.3 .1-.3 0-.2 0-.3 .1-.2 0-.3 .1-.2 0-.2 .1-.2 0-.2 0-.1 .1-.2 0-.2 .1-.1 0-.2 .1-.1 0-.1 0-.1 .1-.1 0-.1 .1-.1 .1-.1 0-.1 .1,0 .1-.1 .1,.1 .1,0 0,.1 .1,0 0,.1 .1,.1 0,.1 0,.1 .1,.1 0,.1 .1,.1 0,.2 0,.1 .1,.2 0,.2 .1,.2 0,.1 .1,.2 0,.3 0,.2 .1,.2 0,.3 .1,.2 0,.3 .1,.3 0,.3 0,.3 .1,.3 0,.4 .1,.3 0,.3 .1,.4 0,.4 0,.4 .1,.4 0,.4 .1,.4 0,.4 .1,.4 0,.5 0,.4 .1,.4 0,.5 .1,.4 0,.4 .1,.4 0,.4 0,.4 .1,.4 0,.3 .1,.3 0,.3 .1,.2 0,.1 0,.2 .1,0 0,.1 .1,0 0-.1 .1-.1 0-.2 0-.2 .1-.2 0-.3 .1-.3 0-.3 .1-.4 0-.3 0-.4 .1-.3 0-.4 .1-.4 0-.3 .1-.4 0-.3 0-.4 .1-.3 0-.3 .1-.4 0-.3 .1-.3 0-.2 0-.3 .1-.3 0-.2 .1-.2 0-.3 .1-.2 0-.2 0-.1 .1-.2 0-.2 .1-.1 0-.1 .1-.2 0-.1 .1-.1 0-.1 .1,0 0-.1 .1,0 .1,0 .1,0 0,.1 .1,.1 0,.1 .1,.1 0,.1 .1,.2 0,.1 0,.1 .1,.2 0,.2 .1,.2 0,.2 .1,.2 0,.3 0,.2 .1,.3 0,.3 .1,.3 0,.3 .1,.3 0,.3 0,.4 .1,.4 0,.3 .1,.4 0,.5 .1,.4 0,.4 0,.5 .1,.4 0,.5 .1,.5 0,.4 .1,.5 0,.5 0,.4 .1,.5 0,.5 .1,.4 0,.4 .1,.3 0,.4 0,.2 .1,.3 0,.1 .1,.1 0,.1 .1-.1 0-.2 .1-.2 0-.2 .1-.3 0-.3 .1-.3 0-.4 0-.4 .1-.4 0-.4 .1-.4 0-.4 .1-.4 0-.4 0-.4 .1-.4 0-.3 .1-.4 0-.3 .1-.4 0-.3 0-.3 .1-.2 0-.3 .1-.2 0-.3 .1-.2 0-.2 0-.2 .1-.1 0-.2 .1-.1 0-.1 .1-.1 0-.1 0-.1 .1,0 0-.1 .1,0 .1,0 0,.1 .1,.1 .1,.1 0,.1 0,.2 .1,.1 0,.2 .1,.2 0,.2 .1,.2 0,.2 0,.2 .1,.3 0,.3 .1,.3 0,.3 .1,.4 0,.3 0,.4 .1,.4 0,.4 .1,.4 0,.5 .1,.4 0,.5 0,.5 .1,.5 0,.5 .1,.5 0,.5 .1,.5 0,.6 0,.4 .1,.5 0,.5 .1,.4 0,.4 .1,.3 0,.2 0,.2 .1,.1 0,.1 .1-.1 0-.1 .1-.1 0-.3 0-.3 .1-.3 0-.4 .1-.4 0-.4 .1-.5 0-.4 0-.4 .1-.5 0-.4 .1-.5 0-.4 .1-.4 0-.4 0-.3 .1-.4 0-.3 .1-.3 0-.3 .1-.3 0-.2 0-.3 .1-.2 0-.2 .1-.2 0-.1 .1-.1 0-.2 0-.1 .1,0 0-.1 .1,0 .1,0 0,.1 .1,0 0,.1 .1,.1 0,.1 .1,.2 0,.2 0,.1 .1,.3 0,.2 .1,.2 0,.3 .1,.3 0,.3 0,.4 .1,.3 0,.4 .1,.4 0,.5 0,.4 .1,.5 0,.5 .1,.5 0,.5 .1,.6 0,.5 0,.6 .1,.5 0,.6 .1,.6 0,.5 .1,.5 0,.5 0,.4 .1,.4 0,.3 .1,.2 0,.1 .1,0 0-.1 .1-.3 0-.3 .1-.3 0-.4 .1-.4 0-.5 0-.5 .1-.4 0-.5 .1-.5 0-.5 .1-.4 0-.5 0-.4 .1-.4 0-.4 .1-.4 0-.3 .1-.3 0-.3 0-.3 .1-.2 0-.2 .1-.2 0-.2 .1-.1 0-.2 0-.1 .1,0 0-.1 .1,0 .1,0 0,.1 .1,.1 0,.2 .1,.1 0,.2 .1,.2 0,.2 0,.2 .1,.3 0,.3 .1,.3 0,.4 .1,.4 0,.4 0,.4 .1,.5 0,.4 .1,.5 0,.6 .1,.5 0,.6 0,.6 .1,.6 0,.6 .1,.6 0,.6 .1,.6 0,.6 0,.5 .1,.4 0,.4 .1,.3 0,.2 .1,.1 0-.1 .1-.2 0-.3 .1-.4 0-.4 0-.5 .1-.5 0-.5 .1-.5 0-.6 .1-.5 0-.5 0-.5 .1-.5 0-.4 .1-.4 0-.4 .1-.4 0-.3 0-.3 .1-.3 0-.3 .1-.2 0-.2 .1-.2 0-.1 0-.1 .1-.1 .1-.1 0,.1 .1,0 0,.1 .1,.2 0,.1 .1,.2 0,.2 .1,.3 0,.2 0,.3 .1,.4 0,.3 .1,.4 0,.5 .1,.4 0,.5 0,.5 .1,.6 0,.6 .1,.6 0,.6 .1,.6 0,.7 0,.7 .1,.6 0,.6 .1,.6 0,.6 .1,.5 0,.4 0,.2 .1,.2 0,.1 .1-.1 0-.2 .1-.3 0-.4 0-.5 .1-.5 0-.6 .1-.5 0-.6 .1-.6 0-.5 0-.6 .1-.5 0-.5 .1-.5 0-.4 .1-.4 0-.4 0-.3 .1-.3 0-.3 .1-.2 0-.2 .1-.2 0-.1 0-.1 .1-.1 .1,0 .1,.1 0,.1 0,.2 .1,.1 0,.2 .1,.3 0,.3 0,.3 .1,.3 0,.4 .1,.5 0,.4 .1,.5 0,.6 0,.5 .1,.6 0,.7 .1,.6 0,.7 .1,.7 0,.7 0,.7 .1,.7 0,.6 .1,.6 0,.5 .1,.3 0,.3 0,.1 .1-.1 0-.2 .1-.3 0-.4 .1-.5 0-.6 0-.6 .1-.6 0-.6 .1-.6 0-.6 .1-.6 0-.5 0-.6 .1-.4 0-.5 .1-.4 0-.4 .1-.3 0-.3 0-.2 .1-.2 0-.2 .1-.1 0-.1 .1,0 0-.1 0,.1 .1,0 0,.1 .1,.2 0,.2 .1,.2 0,.3 0,.3 .1,.4 0,.4 .1,.4 0,.5 .1,.5 0,.6 0,.6 .1,.6 0,.7 .1,.7 0,.7 .1,.8 0,.7 0,.8 .1,.7 0,.6 .1,.5 0,.4 .1,.3 0,.1 .1-.3 0-.3 .1-.5 0-.5 .1-.7 0-.6 0-.7 .1-.7 0-.6 .1-.7 0-.6 .1-.5 0-.5 0-.5 .1-.4 0-.4 .1-.4 0-.3 0-.2 .1-.2 0-.2 .1-.1 .1-.1 0,.1 .1,.1 0,.2 .1,.2 0,.3 .1,.3 0,.3 0,.4 .1,.4 0,.5 .1,.6 0,.5 .1,.7 0,.7 0,.7 .1,.7 0,.8 .1,.8 0,.7 .1,.8 0,.7 0,.6 .1,.5 0,.3 .1,.2 .1-.2 0-.4 0-.5 .1-.6 0-.6 .1-.7 0-.7 .1-.7 0-.7 0-.7 .1-.6 0-.5 .1-.6 0-.4 .1-.5 0-.3 0-.3 .1-.3 0-.2 .1-.2 0-.1 .1-.1 0,.1 .1,.1 0,.1 .1,.2 0,.2 .1,.4 0,.3 0,.4 .1,.5 0,.5 .1,.6 0,.6 .1,.7 0,.7 0,.7 .1,.8 0,.8 .1,.8 0,.8 .1,.8 0,.6 0,.5 .1,.4 0,.2 .1,0 0-.3 .1-.4 0-.5 0-.6 .1-.7 0-.8 .1-.7 0-.7 .1-.7 0-.7 0-.6 .1-.5 0-.5 .1-.5 0-.4 0-.3 .1-.3 0-.2 .1-.2 0-.1 .1,0 0,.1 .1,.1 0,.2 .1,.2 0,.3 .1,.4 0,.4 0,.5 .1,.5 0,.6 .1,.7 0,.7 .1,.8 0,.8 0,.8 .1,.8 0,.9 .1,.8 0,.7 .1,.5 0,.5 0,.2 .1,0 0-.3 .1-.4 0-.5 .1-.7 0-.7 0-.8 .1-.8 0-.7 .1-.7 0-.7 .1-.6 0-.6 0-.5 .1-.4 0-.3 .1-.3 0-.3 .1-.1 0-.2 .1,0 0,.1 .1,.2 0,.2 .1,.3 0,.3 0,.4 .1,.5 0,.5 .1,.7 0,.6 .1,.8 0,.8 0,.8 .1,.9 0,.8 .1,.9 0,.8 .1,.7 0,.5 0,.4 .1,.1 0-.1 .1-.4 0-.5 .1-.7 0-.7 0-.8 .1-.8 0-.8 .1-.7 0-.7 .1-.6 0-.6 0-.5 .1-.4 0-.4 .1-.3 0-.2 .1-.2 0-.1 .1,.1 0,.1 .1,.2 0,.3 0,.4 .1,.4 0,.5 .1,.6 0,.6 .1,.7 0,.8 0,.8 .1,.9 0,.9 .1,.9 0,.9 .1,.8 0,.6 0,.4 .1,.2 0-.1 .1-.3 0-.5 .1-.7 0-.7 0-.8 .1-.9 0-.8 .1-.7 0-.8 .1-.6 0-.6 0-.5 .1-.4 0-.3 .1-.3 0-.2 .1-.1 .1,.2 0,.2 .1,.3 0,.3 .1,.5 0,.5 0,.6 .1,.7 0,.7 .1,.9 0,.8 .1,1 0,.9 0,.9 .1,.8 0,.7 .1,.5 0,.3 .1,0 0-.3 0-.5 .1-.7 0-.8 .1-.8 0-.9 .1-.8 0-.8 0-.7 .1-.7 0-.5 .1-.5 0-.4 .1-.3 0-.2 0-.2 .1,0 .1,.1 0,.2 .1,.3 0,.3 0,.5 .1,.6 0,.6 .1,.7 0,.8 .1,.9 0,.9 0,.9 .1,1 0,.9 .1,.8 0,.6 .1,.3 0,.1 0-.2 .1-.4 0-.7 .1-.8 0-.8 0-.9 .1-.9 0-.8 .1-.7 0-.7 .1-.5 0-.5 0-.4 .1-.3 0-.2 .1-.1 .1,0 0,.2 0,.3 .1,.3 0,.5 .1,.5 0,.6 .1,.7 0,.9 0,.8 .1,1 0,.9 .1,1 0,.9 .1,.8 0,.5 0,.3 .1,0 0-.3 .1-.5 0-.8 .1-.8 0-.9 0-.9 .1-.8 0-.8 .1-.7 0-.6 .1-.5 0-.4 0-.4 .1-.2 0-.1 .1,0 0,.1 .1,.2 0,.3 0,.3 .1,.5 0,.6 .1,.7 0,.8 .1,.9 0,.9 0,1 .1,.9 0,1 .1,.8 0,.6 .1,.4 0-.2 .1-.6 0-.7 .1-.9 0-.9 .1-.9 0-.8 0-.8 .1-.7 0-.6 .1-.5 0-.4 .1-.3 0-.2 .1,0 0,.2 .1,.2 0,.4 .1,.5 0,.5 0,.7 .1,.8 0,.9 .1,.9 0,1 .1,1 0,1 0,.8 .1,.6 0,.3 .1-.1 0-.3 0-.7 .1-.8 0-.9 .1-.9 0-.9 .1-.8 0-.8 0-.6 .1-.6 0-.4 .1-.3 0-.2 .1-.1 0,.2 .1,.2 0,.4 .1,.5 0,.6 .1,.8 0,.8 0,.9 .1,1 0,1 .1,1 0,.9 .1,.7 0,.5 0,.1 .1-.2 0-.6 .1-.7 0-.9 .1-1 0-.9 0-.9 .1-.7 0-.7 .1-.6 0-.4 .1-.3 0-.2 0-.1 .1,0 0,.2 .1,.3 0,.4 .1,.6 0,.6 0,.8 .1,.9 0,1 .1,1 0,1 .1,1 0,.8 0,.6 .1,.2 0-.2 .1-.5 0-.7 .1-.9 0-.9 0-1 .1-.8 0-.8 .1-.7 0-.6 .1-.4 0-.3 0-.2 .1-.1 0,.1 .1,.3 0,.3 .1,.5 0,.6 0,.7 .1,.9 0,.9 .1,1.1 0,1 .1,1 0,.9 0,.6 .1,.3 0-.1 .1-.4 0-.7 .1-.9 0-1 0-1 .1-.8 0-.8 .1-.7 0-.6 0-.4 .1-.3 0-.1 .1,0 0,.1 .1,.3 0,.4 0,.6 .1,.7 0,.8 .1,.9 0,1 .1,1.1 0,1.1 0,.9 .1,.7 0,.3 .1,0 0-.4 .1-.7 0-.9 0-1 .1-1 0-.9 .1-.8 0-.7 .1-.5 0-.4 0-.3 .1-.1 0,.1 .1,.2 0,.3 .1,.5 0,.6 0,.8 .1,.9 0,1 .1,1.1 0,1.1 .1,1 0,.7 0,.5 .1,0 0-.3 .1-.7 0-.9 .1-1 0-1 0-.9 .1-.8 0-.7 .1-.5 0-.4 .1-.3 0,.1 .1,.2 0,.4 .1,.5 0,.8 .1,.8 0,1 0,1 .1,1.1 0,1.1 .1,.9 0,.5 .1,.2 0-.2 0-.6 .1-.9 0-1 .1-1 0-.9 .1-.9 0-.7 0-.5 .1-.4 0-.3 .1,0 0,.1 .1,.2 0,.5 0,.6 .1,.7 0,.9 .1,1.1 0,1.1 .1,1.1 0,1 0,.7 .1,.4 .1-.5 0-.7 0-1 .1-1 0-1 .1-.9 0-.8 .1-.6 0-.4 0-.3 .1-.1 0,.1 .1,.3 0,.4 .1,.7 0,.7 0,1 .1,1 0,1.1 .1,1.1 0,1 .1,.7 0,.3 0-.2 .1-.6 0-.8 .1-1 0-1.1 .1-.9 0-.9 0-.7 .1-.5 0-.3 .1-.2 .1,.2 0,.4 0,.6 .1,.8 0,.9 .1,1 0,1.1 .1,1.2 0,.9 0,.8 .1,.3 0-.2 .1-.6 0-.9 .1-1 0-1.1 0-.9 .1-.9 0-.6 .1-.5 0-.3 .1-.1 0,.1 0,.3 .1,.5 0,.6 .1,.9 0,1 .1,1.1 0,1.1 0,1.1 .1,.8 0,.5 .1-.1 0-.5 .1-.8 0-1 0-1.1 .1-.9 0-.9 .1-.7 0-.5 .1-.3 0-.1 0,.1 .1,.3 0,.5 .1,.7 0,.9 .1,1 0,1.1 0,1.2 .1,1 0,.7 .1,.3 0-.2 .1-.6 0-.9 0-1.1 .1-1 0-1 .1-.7 0-.6 0-.4 .1-.2 .1,.2 0,.5 .1,.6 0,.9 0,1 .1,1.1 0,1.2 .1,1 0,.8 .1,.3 0-.2 0-.6 .1-.9 0-1.1 .1-1 0-1 .1-.7 0-.6 0-.4 .1-.1 0,.1 .1,.3 0,.5 .1,.7 0,.9 0,1.1 .1,1.1 0,1.2 .1,.9 0,.6 .1,0 0-.4 0-.8 .1-1 0-1.1 .1-1 0-.8 .1-.7 0-.4 0-.2 .1,0 0,.3 .1,.5 0,.7 .1,.9 0,1.1 0,1.1 .1,1.1 0,1 .1,.5 .1-.4 0-.9 0-1 .1-1.1 0-.9 .1-.8 0-.6 .1-.4 0-.1 0,.1 .1,.3 0,.6 .1,.8 0,1 .1,1.1 0,1.1 0,1.1 .1,.7 0,.3 .1-.3 0-.7 .1-1 0-1.1 0-1 .1-.8 0-.7 .1-.4 0-.2 .1,.1 0,.3 0,.5 .1,.8 0,1 .1,1.1 0,1.1 .1,1.1 0,.7 0,.2 .1-.3 0-.8 .1-1 0-1 0-1 .1-.8 0-.6 .1-.4 0-.1 .1,.1 0,.4 0,.7 .1,.8 0,1.1 .1,1.1 0,1.1 .1,.9 0,.5 0-.1 .1-.6 0-.9 .1-1 0-1.1 .1-.9 0-.6 0-.5 .1-.2 0,.1 .1,.4 0,.6 .1,.8 0,1 0,1.2 .1,1.1 0,.9 .1,.5 0-.1 .1-.6 0-.9 0-1 .1-1.1 0-.8 .1-.7 0-.4 .1-.1 0,.1 0,.4 .1,.7 0,.9 .1,1 0,1.2 .1,1 0,.8 0,.3 .1-.3 0-.7 .1-1 0-1.1 .1-.9 0-.8 0-.5 .1-.3 .1,.3 0,.6 .1,.8 0,1.1 0,1.1 .1,1.1 0,.8 .1,.4 0-.1 .1-.7 0-1 0-1 .1-1 0-.8 .1-.5 0-.3 .1,0 0,.4 0,.5 .1,.9 0,1 .1,1.1 0,1.1 .1,.8 0,.3 0-.3 .1-.8 0-1 .1-1 0-.9 .1-.7 0-.5 0-.1 .1,.1 0,.4 .1,.7 0,1 0,1.1 .1,1.1 0,.9 .1,.5 .1-.6 0-.9 0-1 .1-1 0-.8 .1-.5 0-.2 .1,0 0,.4 0,.6 .1,.9 0,1.1 .1,1.1 0,1 .1,.5 0,.1 0-.6 .1-.9 0-1 .1-1 0-.7 .1-.6 0-.2 0,.1 .1,.4 0,.7 .1,.9 0,1.1 .1,1.1 0,.9 0,.4 .1-.1 0-.6 .1-1 0-1 .1-.9 0-.7 0-.4 .1-.1 0,.2 .1,.5 0,.8 .1,1 0,1.1" stroke="#ff00ff"/>
<path d="M188.2,228l.1,0 .1,0 .1,0 .1,0 .1,0 .1,0 .1,0 .1,0 .1,0 .1,0 .1,0 .1,0 .1,0 .1,0 .1,0 .1,0 .1,0 .1,0 .1,0 .1,0 .1,0 .1,0 .1,0 .1,0 .1,0 .1,0 .1,0 .1,0 .1,0 .1,0 .1,0 .1,0 .1,0 .1,0 .1,0 .1,0 .1,0 .1,0 .1,0 .1,0 .1,0 .1,0 .1,0 .1,0 .1,0 .1,0 .1,0 .1,0 .1,0 .1,0 .1,0 .1,0 .1,0 .1,0 .1,0 .1,0 .1,0 .1,.1 .1,0 .1,0 .1,0 .1,0 .1,0 .1,0 .1,0 .1,0 .1,0 .1,0 .1,0 .1,0 .1,0 .1,0 .1,0 .1,0 .1,0 .1,0 .1,0 .1,0 .1,0 .1,0 .1,0 .1,0 .1,0 .1,0 .1,0 .1,0 .1,0 .1,0 .1,0 .1,0 .1,0 .1,0 .1,0 .1,0 .1,0 .1,0 .1,0 .1,0 .1,0 .1,0 .1,0 .1,0 .1,0 .1,0 .1,0 .1,0 .1,0 .1,0 .1,0 .1,0 .1,0 .1,0 .1,0 .1,0 .1,0 .1,0 .1,0 .1,0 .1,0 .1,0 .1,0 .1,0 .1,0 .1,0 .1,0 .1,0 .1,0 .1,0 .1,0 .1,0 .1,0 .1,0 .1,.1 .1,0 .1,0 .1,0 .1,0 .1,0 .1,0 .1,0 .1,0 .1,0 .1,0 .1,0 .1,0 .1,0 .1,0 .1,0 .1,0 .1,0 .1,0 .1,0 .1,0 .1,0 .1,0 .1,0 .1,0 .1,0 0,.1 .1,0 .1,0 .1,0 .1,0 .1,0 .1,0 .1,0 .1,0 .1,0 .1,0 .1,0 .1,0 .1,0 .1,0 .1,0 .1,0 .1,0 .1,0 .1,.1 .1,0 .1,0 .1,0 .1,0 .1,0 .1,0 .1,0 .1,0 .1,0 .1,0 .1,0 .1,0 .1,0 .1,0 .1,0 .1,0 0,.1 .1,0 .1,0 .1,0 .1,0 .1,0 .1,0 .1,0 .1,0 .1,0 .1,0 .1,0 .1,0 .1,0 .1,0 .1,0 .1,.1 .1,0 .1,0 .1,0 .1,0 .1,0 .1,0 .1,0 .1,0 .1,0 .1,0 .1,0 .1,0 .1,0 .1,0 0,.1 .1,0 .1,0 .1,0 .1,0 .1,0 .1,0 .1,0 .1,0 .1,0 .1,0 .1,0 .1,0 .1,0 .1,.1 .1,0 .1,0 .1,0 .1,0 .1,0 .1,0 .1,0 .1,0 .1,0 .1,0 .1,0 .1,0 .1,.1 .1,0 .1,0 .1,0 .1,0 .1,0 .1,0 .1,0 .1,0 .1,0 .1,0 .1,0 .1,.1 .1,0 .1,0 .1,0 .1,0 .1,0 .1,0 .1,0 .1,0 .1,0 .1,0 .1,0 0,.1 .1,0 .1,0 .1,0 .1,0 .1,0 .1,0 .1,0 .1,0 .1,0 .1,0 .1,0 0,.1 .1,0 .1,0 .1,0 .1,0 .1,0 .1,0 .1,0 .1,0 .1,0 .1,0 0,.1 .1,0 .1,0 .1,0 .1,0 .1,0 .1,0 .1,0 .1,0 .1,0 .1,0 0,.1 .1,0 .1,0 .1,0 .1,0 .1,0 .1,0 .1,0 .1,0 .1,0 0,.1 .1,0 .1,0 .1,0 .1,0 .1,0 .1,0 .1,0 .1,0 .1,0 0,.1 .1,0 .1,0 .1,0 .1,0 .1,0 .1,0 .1,0 .1,0 0,.1 .1,0 .1,0 .1,0 .1,0 .1,0 .1,0 .1,0 .1,.1 .1,0 .1,0 .1,0 .1,0 .1,0 .1,0 .1,0 .1,.1 .1,0 .1,0 .1,0 .1,0 .1,0 .1,0 0,.1 .1,0 .1,0 .1,0 .1,0 .1,0 .1,0 .1,.1 .1,0 .1,0 .1,0 .1,0 .1,0 .1,0 0,.1 .1,0 .1,0 .1,0 .1,0 .1,0 .1,0 0,.1 .1,0 .1,0 .1,0 .1,0 .1,0 0,.1 .1,0 .1,0 .1,0 .1,0 .1,0 .1,.1 .1,0 .1,0 .1,0 .1,0 .1,.1 .1,0 .1,0 .1,0 .1,0 0,.1 .1,0 .1,0 .1,0 .1,0 .1,.1 .1,0 .1,0 .1,0 .1,0 0,.1 .1,0 .1,0 .1,0 .1,0 0,.1 .1,0 .1,0 .1,0 .1,0 0,.1 .1,0 .1,0 .1,0 .1,0 0,.1 .1,0 .1,0 .1,0 .1,0 0,.1 .1,0 .1,0 .1,0 .1,.1 .1,0 .1,0 .1,0 0,.1 .1,0 .1,0 .1,0 .1,0 0,.1 .1,0 .1,0 .1,0 .1,.1 .1,0 .1,0 .1,.1 .1,0 .1,0 .1,0 0,.1 .1,0 .1,0 .1,0 .1,.1 .1,0 .1,0 .1,0 0,.1 .1,0 .1,0 .1,0 .1,.1 .1,0 .1,0 .1,0 0,.1 .1,0 .1,0 .1,0 0,.1 .1,0 .1,0 .1,0 0,.1 .1,0 .1,0 .1,0 .1,.1 .1,0 .1,0 .1,0 0,.1 .1,0 .1,0 .1,0 .1,.1 .1,0 .1,0 .1,.1 .1,0 .1,0 .1,0 0,.1 .1,0 .1,0 .1,0 0,.1 .1,0 .1,0 .1,0 0,.1 .1,0 .1,0 .1,0 0,.1 .1,0 .1,0 .1,0 .1,.1 .1,0 .1,0 .1,.1 .1,0 .1,0 .1,.1 .1,0 .1,0 .1,0 0,.1 .1,0 .1,0 .1,0 0,.1 .1,0 .1,0 .1,0 0,.1 .1,0 .1,0 .1,0 0,.1 .1,0 .1,0 .1,.1 .1,0 .1,0 .1,.1 .1,0 .1,0 .1,.1 .1,0 .1,0 .1,.1 .1,0 .1,0 0,.1 .1,0 .1,0 .1,0 0,.1 .1,0 .1,0 .1,.1 .1,0 .1,0 .1,.1 .1,0 .1,0 0,.1 .1,0 .1,0 .1,0 0,.1 .1,0 .1,0 .1,0 0,.1 .1,0 .1,0 .1,.1 .1,0 .1,0 0,.1 .1,0 .1,0 .1,.1 .1,0 .1,0 0,.1 .1,0 .1,0 .1,.1 .1,0 .1,0 0,.1 .1,0 .1,0 .1,0 0,.1 .1,0 .1,0 0,.1 .1,0 .1,0 .1,0 0,.1 .1,0 .1,0 .1,.1 .1,0 .1,.1 .1,0 .1,0 0,.1 .1,0 .1,0 .1,.1 .1,0 .1,0 0,.1 .1,0 .1,0 .1,.1 .1,0 .1,.1 .1,0 .1,0 0,.1 .1,0 .1,0 0,.1 .1,0 .1,0 .1,0 0,.1 .1,0 .1,0 0,.1 .1,0 .1,0 .1,.1 .1,0 .1,.1 .1,0 .1,0 0,.1 .1,0 .1,0 .1,.1 .1,0 .1,.1 .1,0 .1,.1 .1,0 .1,.1 .1,0 .1,0 0,.1 .1,0 .1,0 .1,.1 .1,0 .1,.1 .1,0 .1,.1 .1,0 .1,0 0,.1 .1,0 .1,0 0,.1 .1,0 .1,0 0,.1 .1,0 .1,0 0,.1 .1,0 .1,0 .1,.1 .1,0 0,.1 .1,0 .1,0 0,.1 .1,0 .1,0 .1,.1 .1,0 .1,.1 .1,0 0,.1 .1,0 .1,0 .1,.1 .1,0 .1,.1 .1,0 0,.1 .1,0 .1,0 0,.1 .1,0 .1,0 0,.1 .1,0 .1,0 0,.1 .1,0 .1,0 0,.1 .1,0 .1,.1 .1,0 0,.1 .1,0 .1,0 0,.1 .1,0 .1,.1 .1,0 .1,.1 .1,0 0,.1 .1,0 .1,0 0,.1 .1,0 .1,.1 .1,0 0,.1 .1,0 .1,0 0,.1 .1,0 0,.1 .1,0 .1,0 0,.1 .1,0 .1,.1 .1,0 0,.1 .1,0 .1,.1 .1,0 0,.1 .1,0 .1,.1 .1,0 .1,.1 .1,.1 .1,0 .1,.1 .1,.1 .1,0 0,.1 .1,0 .1,.1 .1,0 0,.1 .1,0 .1,.1 .1,0 0,.1 .1,0 .1,0 0,.1 .1,0 0,.1 .1,0 .1,0 0,.1 .1,0 0,.1 .1,0 .1,0 0,.1 .1,0 .1,.1 .1,0 0,.1 .1,0 .1,.1 .1,0 .1,.1 .1,.1 .1,0 .1,.1 .1,.1 .1,0 .1,.1 .1,.1 .1,0 .1,.1 .1,0 0,.1 .1,0 .1,.1 .1,0 0,.1 .1,0 .1,.1 .1,.1 .1,0 .1,.1 .1,.1 .1,0 0,.1 .1,0 .1,.1 .1,0 0,.1 .1,0 .1,.1 .1,0 0,.1 .1,0 0,.1 .1,0 .1,.1 .1,0 0,.1 .1,0 .1,.1 .1,.1 .1,0 0,.1 .1,0 0,.1 .1,0 .1,.1 .1,0 0,.1 .1,0 0,.1 .1,0 .1,0 0,.1 .1,0 0,.1 .1,0 .1,.1 .1,.1 .1,0 0,.1 .1,0 0,.1 .1,0 0,.1 .1,0 .1,.1 .1,.1 .1,0 0,.1 .1,0 0,.1 .1,0 .1,.1 .1,0 0,.1 .1,0 0,.1 .1,0 .1,.1 0,.1 .1,0 .1,.1 .1,.1 .1,0 0,.1 .1,0 0,.1 .1,0 0,.1 .1,0 .1,.1 .1,.1 .1,.1 .1,0 0,.1 .1,0 0,.1 .1,0 0,.1 .1,0 0,.1 .1,0 0,.1 .1,0 .1,.1 .1,.1 .1,.1 .1,0 0,.1 .1,.1 .1,0 0,.1 .1,0 0,.1 .1,0 0,.1 .1,0 .1,.1 0,.1 .1,0 .1,.1 .1,.1 .1,.1 .1,0 0,.1 .1,0 0,.1 .1,0 0,.1 .1,0 0,.1 .1,0 0,.1 .1,0 .1,.1 .1,.1 0,.1 .1,0 .1,.1 .1,.1 .1,.1 .1,.1 .1,.1 .1,.1 .1,.1 .1,.1 .1,.1 .1,.1 0,.1 .1,0 .1,.1 .1,.1 0,.1 .1,0 0,.1 .1,0 0,.1 .1,0 0,.1 .1,.1 .1,.1 .1,.1 0,.1 .1,0 0,.1 .1,0 0,.1 .1,0 0,.1 0,.1 .1,0 0,.1 .1,0 0,.1 .1,0 0,.1 0,.1 .1,0 0,.1 .1,.1 .1,.1 0,.1 .1,.1 .1,.1 0,.1 .1,0 0,.1 0,.1 .1,0 0,.1 .1,.1 .1,.1 0,.1 0,.1 .1,0 0,.1 .1,.1 .1,.1 0,.1 0,.1 .1,.1 .1,.1 0,.1 .1,.1 0,.1 .1,.1 0,.1 .1,.1 0,.1 .1,0 0,.1 0,.1 .1,.1 0,.1 .1,.1 0,.1 .1,.1 0,.1 .1,.1 0,.1 .1,.1 0,.1 0,.1 .1,.1 0,.1 .1,0 0,.1 .1,.1 0,.1 0,.1 .1,.1 0,.1 .1,.1 0,.1 .1,.1 0,.1 0,.1 .1,.1 0,.1 .1,.1 0,.1 .1,.1 0,.1 0,.1 .1,.1 0,.1 .1,.1 0,.1 .1,.1 0,.2 0,.1 .1,.1 0,.1 .1,.1 0,.1 .1,.1 0,.1 0,.1 .1,.1 0,.1 .1,.1 0,.2 .1,.1 0,.1 0,.1 .1,.1 0,.1 .1,.1 0,.1 .1,.1 0,.2 0,.1 .1,.1 0,.1 .1,.1 0,.1 .1,.1 0,.1 0,.2 .1,.1 0,.1 .1,.1 0,.1 .1,.1 0,.1 0,.1 .1,.1 0,.1 .1,.1 0,.1 .1,.1 0,.1 0,.1 .1,.1 0,.1 .1,.1 0,.1 .1,.1 0,.1 0,.1 .1,.1 0,.1 .1,.1 0,.1 .1,.1 0,.1 0,.2 .1,.1 0,.1 .1,.1 0,.1 0,.1 .1,.1 0,.2 .1,.1 0,.1 .1,.1 0,.1 0,.2 .1,.1 0,.1 .1,.1 0,.2 .1,.1 0,.1 0,.1 .1,.2 0,.1 .1,.1 0,.1 .1,.2 0,.1 0,.1 .1,.1 0,.2 .1,.1 0,.1 .1,.2 0,.1 0,.1 .1,.1 0,.2 .1,.1 0,.1 .1,.2 0,.1 0,.1 .1,.1 0,.2 .1,.1 0,.1 .1,.2 0,.1 0,.1 .1,.2 0,.1 .1,.1 0,.1 .1,.2 0,.1 0,.1 .1,.2 0,.1 .1,.1 0,.1 .1,.2 0,.1 0,.1 .1,.1 0,.2 .1,.1 0,.1 .1,.1 0,.1 0,.2 .1,.1 0,.1 .1,.1 0,.2 .1,.1 0,.1 0,.1 .1,.1 0,.1 .1,.1 0,.2 .1,.1 0,.1 0,.1 .1,.1 0,.1 .1,.1 0,.1 .1,.1 0,.1 0,.1 .1,.1 0,.1 .1,.1 0,.1 .1,.1 0,.1 0,.1 .1,0 0,.1 .1,.1 0,.1 0,.1 .1,0 0,.1 .1,.1 0,.1 .1,0 0,.1 0,.1 .1,0 0,.1 .1,0 0,.1 .1,0 0,.1 0,.1 .1,0 0,.1 .1,0 0,.1 .1,0 0,.1 .1,.1 .1,.1 .1,.1 0,.1 .1,0 0,.1 .1,0 .1,.1 0,.1 .1,0 .1,.1 .1,0 0,.1 .1,0 0,.1 .1,0 .1,0 0,.1 .1,0 .1,.1 .1,0 0,.1 .1,0 0,.1 .1,0 .1,0 0,.1 .1,0 .1,0 0,.1 .1,0 .1,0 .1,.1 .1,0 .1,0 .1,0 .1,0 .1,0 .1,0 .1,0 .1,0 .1,0 .1,0 0-.1 .1,0 .1,0 .1-.1 .1,0 .1,0 0-.1 .1,0 .1-.1 .1,0 0-.1 .1,0 0-.1 .1,0 .1-.1 .1-.1 .1,0 0-.1 .1,0 0-.1 .1,0 0-.1 .1,0 0-.1 .1,0 0-.1 .1,0 0-.1 .1,0 0-.1 .1,0 0-.1 .1,0 0-.1 .1,0 0-.1 .1,0 0-.1 .1-.1 .1,0 0-.1 .1,0 0-.1 .1-.1 .1-.1 .1-.1 0-.1 .1,0 0-.1 .1,0 .1-.1 0-.1 .1,0 0-.1 .1,0 0-.1 .1,0 0-.1 .1,0 0-.1 .1,0 0-.1 .1,0 0-.1 .1,0 0-.1 .1,0 0-.1 .1,0 0-.1 .1,0 0-.1 .1,0 0-.1 .1,0 .1-.1 .1,0 0-.1 .1,0 0-.1 .1,0 .1-.1 .1-.1 .1,0 .1-.1 .1,0 0-.1 .1,0 .1,0 0-.1 .1,0 .1,0 0-.1 .1,0 .1,0 .1-.1 .1,0 .1,0 .1,0 .1,0 0-.1 .1,0 .1,0 .1,0 .1,0 .1,0 .1,0 .1,0 .1,0 .1,.1 .1,0 .1,0 .1,.1 .1,0 .1,0 0,.1 .1,0 .1,0 0,.1 .1,0 .1,.1 .1,0 0,.1 .1,0 .1,.1 .1,.1 .1,0 0,.1 .1,.1 .1,0 0,.1 .1,0 0,.1 .1,.1 .1,.1 .1,.1 0,.1 .1,0 0,.1 .1,0 0,.1 .1,0 0,.1 0,.1 .1,0 0,.1 .1,0 0,.1 .1,.1 0,.1 .1,.1 .1,.1 0,.1 .1,0 0,.1 0,.1 .1,.1 .1,.1 0,.1 .1,.1 0,.1 .1,.1 0,.1 .1,.1 0,.1 .1,0 0,.1 0,.1 .1,.1 0,.1 .1,.1 0,.1 .1,0 0,.1 0,.1 .1,.1 0,.1 .1,.1 0,.1 .1,.1 0,.1 0,.1 .1,.1 0,.1 .1,.1 0,.1 .1,.1 0,.2 0,.1 .1,.1 0,.1 .1,.1 0,.1 .1,.1 0,.1 0,.2 .1,.1 0,.1 .1,.1 0,.1 0,.2 .1,.1 0,.1 .1,.1 0,.2 .1,.1 0,.1 0,.1 .1,.2 0,.1 .1,.1 0,.2 .1,.1 0,.2 0,.1 .1,.1 0,.2 .1,.1 0,.2 .1,.1 0,.2 0,.1 .1,.2 0,.1 .1,.2 0,.1 .1,.2 0,.1 0,.2 .1,.1 0,.2 .1,.2 0,.1 .1,.2 0,.1 0,.2 .1,.2 0,.1 .1,.2 0,.2 .1,.1 0,.2 0,.2 .1,.2 0,.1 .1,.2 0,.2 .1,.2 0,.1 0,.2 .1,.2 0,.2 .1,.1 0,.2 .1,.2 0,.2 0,.2 .1,.1 0,.2 .1,.2 0,.2 .1,.2 0,.2 0,.1 .1,.2 0,.2 .1,.2 0,.1 .1,.2 0,.2 0,.1 .1,.2 0,.2 .1,.1 0,.2 .1,.1 0,.2 0,.1 .1,.2 0,.1 .1,.2 0,.1 .1,.1 0,.2 0,.1 .1,.1 0,.1 .1,.1 0,.2 .1,.1 0,.1 0,.1 .1,0 0,.1 .1,.1 0,.1 0,.1 .1,0 0,.1 .1,0 0,.1 .1,0 0,.1 .1,0 .1,0 0,.1 .1,0 0-.1 .1,0 .1,0 .1-.1 .1-.1 .1-.1 .1-.1 0-.1 .1-.1 0-.1 .1,0 0-.1 .1-.1 0-.1 0-.1 .1-.1 .1-.1 0-.1 .1-.1 0-.1 0-.1 .1-.1 0-.1 .1-.1 0-.1 .1-.1 0-.1 0-.1 .1-.1 0-.1 .1-.1 0-.1 .1-.1 0-.1 .1-.1 0-.1 .1-.1 0-.1 .1-.1 0-.1 0-.1 .1-.1 0-.1 .1-.1 0-.1 .1-.1 0-.1 .1-.1 0-.1 .1-.1 0-.1 .1,0 0-.1 0-.1 .1-.1 .1-.1 0-.1 .1-.1 0-.1 .1-.1 .1-.1 0-.1 .1,0 0-.1 0-.1 .1,0 0-.1 .1,0 0-.1 .1-.1 .1-.1 .1-.1 0-.1 .1,0 0-.1 .1,0 .1-.1 .1-.1 .1,0 0-.1 .1,0 .1-.1 .1,0 .1-.1 .1,0 .1,0 .1,0 .1-.1 .1,0 .1,0 0,.1 .1,0 .1,0 .1,0 .1,.1 .1,0 .1,0 0,.1 .1,0 .1,.1 .1,0 0,.1 .1,0 0,.1 .1,0 0,.1 .1,0 0,.1 .1,0 0,.1 .1,0 0,.1 .1,.1 0,.1 .1,0 0,.1 .1,.1 .1,.1 0,.1 .1,.1 0,.1 .1,0 0,.1 .1,.1 0,.1 0,.1 .1,0 0,.1 .1,.1 0,.1 0,.1 .1,.1 0,.1 .1,.1 0,.1 .1,.1 0,.1 0,.1 .1,.1 0,.1 .1,.1 0,.1 .1,.2 0,.1 0,.1 .1,.1 0,.1 .1,.2 0,.1 .1,.1 0,.2 0,.1 .1,.1 0,.2 .1,.1 0,.2 .1,.1 0,.2 0,.1 .1,.2 0,.1 .1,.2 0,.1 .1,.2 0,.2 0,.1 .1,.2 0,.2 .1,.1 0,.2 .1,.2 0,.2 0,.1 .1,.2 0,.2 .1,.2 0,.2 .1,.2 0,.2 0,.2 .1,.2 0,.2 .1,.2 0,.2 .1,.2 0,.2 0,.2 .1,.3 0,.2 .1,.2 0,.2 .1,.2 0,.3 0,.2 .1,.2 0,.2 .1,.2 0,.3 .1,.2 0,.2 0,.3 .1,.2 0,.2 .1,.2 0,.2 .1,.3 0,.2 0,.2 .1,.2 0,.2 .1,.2 0,.2 .1,.2 0,.2 0,.2 .1,.2 0,.1 .1,.2 0,.2 .1,.1 0,.1 0,.2 .1,.1 0,.1 .1,.1 0,.1 0,.1 .1,0 0,.1 .1,0 0,.1 .1,0 .1,0 0-.1 .1,0 0-.1 .1,0 0-.1 0-.1 .1,0 0-.1 .1-.1 0-.2 .1-.1 0-.1 0-.1 .1-.2 0-.1 .1-.2 0-.1 .1-.2 0-.1 0-.2 .1-.1 0-.2 .1-.2 0-.1 .1-.2 0-.2 0-.1 .1-.2 0-.2 .1-.1 0-.2 .1-.2 0-.1 0-.2 .1-.2 0-.1 .1-.2 0-.1 .1-.2 0-.2 0-.1 .1-.1 0-.2 .1-.1 0-.2 .1-.1 0-.2 0-.1 .1-.1 0-.1 .1-.2 0-.1 .1-.1 0-.1 0-.1 .1-.1 0-.2 .1-.1 0-.1 .1-.1 0-.1 0-.1 .1,0 0-.1 .1-.1 0-.1 .1-.1 0-.1 .1-.1 0-.1 .1,0 0-.1 .1,0 0-.1 .1-.1 .1-.1 .1-.1 .1,0 0-.1 .1,0 .1,0 .1-.1 .1,0 .1,.1 .1,0 .1,0 0,.1 .1,0 .1,.1 .1,0 0,.1 .1,.1 .1,.1 0,.1 .1,0 0,.1 0,.1 .1,0 0,.1 .1,.1 0,.1 .1,.1 0,.1 0,.1 .1,0 0,.2 .1,.1 0,.1 .1,.1 0,.1 0,.1 .1,.1 0,.2 .1,.1 0,.1 .1,.1 0,.2 0,.1 .1,.2 0,.1 .1,.2 0,.1 .1,.2 0,.2 0,.1 .1,.2 0,.2 .1,.2 0,.2 .1,.2 0,.2 0,.2 .1,.2 0,.2 .1,.2 0,.2 .1,.2 0,.2 0,.3 .1,.2 0,.2 .1,.3 0,.2 .1,.3 0,.2 0,.3 .1,.2 0,.3 .1,.3 0,.2 .1,.3 0,.3 0,.3 .1,.3 0,.2 .1,.3 0,.3 .1,.3 0,.3 0,.3 .1,.3 0,.3 .1,.3 0,.2 0,.3 .1,.3 0,.3 .1,.2 0,.3 .1,.3 0,.2 0,.2 .1,.3 0,.2 .1,.2 0,.2 .1,.1 0,.2 0,.1 .1,.1 0,.1 .1,.1 0,.1 .1,0 .1,0 .1-.1 0-.1 .1-.1 0-.1 0-.1 .1-.1 0-.2 .1-.1 0-.2 .1-.2 0-.2 0-.2 .1-.2 0-.2 .1-.2 0-.2 .1-.3 0-.2 0-.2 .1-.2 0-.3 .1-.2 0-.2 .1-.2 0-.2 0-.2 .1-.3 0-.2 .1-.2 0-.2 .1-.2 0-.2 0-.2 .1-.1 0-.2 .1-.2 0-.2 .1-.1 0-.2 0-.2 .1-.1 0-.2 .1-.1 0-.2 .1-.1 0-.1 0-.1 .1-.2 0-.1 .1-.1 0-.1 .1-.1 0-.1 0-.1 .1-.1 0-.1 .1,0 0-.1 .1-.1 0-.1 .1,0 0-.1 .1,0 0-.1 .1,0 0-.1 .1,0 .1,0 .1,0 .1,0 0,.1 .1,0 .1,.1 .1,.1 .1,.1 0,.1 .1,.1 0,.1 .1,.1 0,.1 .1,.1 0,.1 0,.1 .1,.1 0,.1 .1,.1 0,.2 .1,.1 0,.1 0,.2 .1,.1 0,.2 .1,.2 0,.1 .1,.2 0,.2 0,.2 .1,.2 0,.2 .1,.2 0,.2 .1,.2 0,.2 0,.3 .1,.2 0,.2 .1,.3 0,.2 .1,.3 0,.3 0,.3 .1,.2 0,.3 .1,.3 0,.3 .1,.3 0,.3 0,.4 .1,.3 0,.3 .1,.3 0,.4 .1,.3 0,.4 0,.3 .1,.4 0,.3 .1,.4 0,.3 .1,.4 0,.3 0,.4 .1,.3 0,.3 .1,.3 0,.3 .1,.3 0,.3 0,.3 .1,.2 0,.2 .1,.2 0,.2 .1,.1 0,.1 0,.1 .1,0 0,.1 .1,0 0-.1 .1-.1 0-.1 0-.1 .1-.1 0-.2 .1-.2 0-.2 0-.2 .1-.3 0-.2 .1-.3 0-.3 .1-.2 0-.3 0-.3 .1-.3 0-.3 .1-.2 0-.3 .1-.3 0-.3 0-.2 .1-.3 0-.3 .1-.2 0-.3 .1-.2 0-.3 0-.2 .1-.2 0-.2 .1-.2 0-.2 .1-.2 0-.2 0-.2 .1-.2 0-.2 .1-.1 0-.2 .1-.1 0-.1 0-.2 .1-.1 0-.1 .1-.1 0-.1 .1-.1 0-.1 0-.1 .1-.1 .1-.1 .1-.1 .1-.1 .1,0 .1,0 .1,.1 .1,0 0,.1 .1,0 0,.1 0,.1 .1,.1 .1,.1 0,.1 .1,.1 0,.2 0,.1 .1,.1 0,.1 .1,.2 0,.1 .1,.2 0,.2 0,.2 .1,.1 0,.2 .1,.2 0,.3 .1,.2 0,.2 0,.2 .1,.3 0,.3 .1,.2 0,.3 .1,.3 0,.3 0,.3 .1,.3 0,.3 .1,.3 0,.4 0,.3 .1,.3 0,.4 .1,.4 0,.3 .1,.4 0,.4 0,.4 .1,.4 0,.4 .1,.4 0,.4 .1,.4 0,.3 0,.4 .1,.4 0,.3 .1,.4 0,.3 .1,.3 0,.3 0,.2 .1,.2 0,.2 .1,.1 0,.1 .1,.1 .1-.1 0-.1 .1-.1 0-.2 .1-.2 0-.2 0-.3 .1-.3 0-.3 .1-.3 0-.3 .1-.3 0-.3 0-.4 .1-.3 0-.3 .1-.4 0-.3 .1-.3 0-.3 0-.4 .1-.3 0-.3 .1-.2 0-.3 .1-.3 0-.3 0-.2 .1-.3 0-.2 .1-.2 0-.2 .1-.2 0-.2 0-.2 .1-.2 0-.1 .1-.2 0-.1 .1-.1 0-.2 0-.1 .1-.1 0-.1 .1-.1 .1-.1 0-.1 .1,0 .1,0 .1,0 .1,.1 .1,.1 .1,.1 0,.1 0,.1 .1,.1 0,.1 .1,.2 0,.1 0,.2 .1,.1 0,.2 .1,.2 0,.2 .1,.2 0,.2 0,.2 .1,.3 0,.2 .1,.3 0,.3 .1,.3 0,.3 0,.3 .1,.3 0,.3 .1,.4 0,.3 .1,.4 0,.4 0,.4 .1,.4 0,.4 .1,.4 0,.4 .1,.5 0,.4 0,.5 .1,.4 0,.5 .1,.4 0,.4 .1,.5 0,.4 0,.4 .1,.3 0,.4 .1,.3 0,.2 .1,.3 0,.1 0,.2 .1,0 0,.1 .1-.1 .1-.2 0-.1 0-.2 .1-.3 0-.3 .1-.3 0-.3 .1-.3 0-.4 0-.4 .1-.3 0-.4 .1-.4 0-.4 .1-.3 0-.4 0-.3 .1-.4 0-.3 .1-.3 0-.4 .1-.3 0-.2 0-.3 .1-.3 0-.2 .1-.3 0-.2 .1-.2 0-.2 0-.2 .1-.2 0-.1 .1-.2 0-.1 .1-.1 0-.1 0-.1 .1-.1 0-.1 .1,0 0-.1 .1,0 .1,0 .1,.1 0,.1 .1,.1 .1,.1 0,.2 .1,.1 0,.1 0,.2 .1,.2 0,.1 .1,.2 0,.2 .1,.3 0,.2 0,.3 .1,.2 0,.3 .1,.3 0,.3 .1,.4 0,.3 0,.4 .1,.4 0,.3 .1,.4 0,.5 .1,.4 0,.4 0,.5 .1,.5 0,.4 .1,.5 0,.5 .1,.5 0,.5 0,.5 .1,.4 0,.5 .1,.4 0,.4 .1,.4 0,.3 0,.3 .1,.2 0,.2 .1,.1 0,.1 .1-.1 0-.2 .1-.2 0-.2 .1-.3 0-.4 .1-.3 0-.4 0-.4 .1-.4 0-.4 .1-.4 0-.4 .1-.5 0-.4 0-.4 .1-.3 0-.4 .1-.4 0-.3 .1-.4 0-.3 0-.3 .1-.3 0-.2 .1-.3 0-.2 .1-.2 0-.2 0-.2 .1-.2 0-.1 .1-.2 0-.1 .1-.1 0-.1 .1-.1 .1,0 0-.1 .1,.1 .1,.1 0,.1 .1,.1 0,.1 0,.1 .1,.2 0,.1 .1,.2 0,.2 .1,.2 0,.2 0,.3 .1,.3 0,.3 .1,.3 0,.3 .1,.3 0,.4 0,.4 .1,.4 0,.4 .1,.4 0,.5 .1,.4 0,.5 0,.5 .1,.5 0,.6 .1,.5 0,.5 .1,.5 0,.6 0,.5 .1,.5 0,.4 .1,.4 0,.4 .1,.4 0,.2 0,.2 .1,.1 0,.1 .1-.1 0-.1 .1-.2 0-.2 0-.3 .1-.4 0-.4 .1-.4 0-.4 .1-.5 0-.4 0-.5 .1-.4 0-.5 .1-.4 0-.4 .1-.5 0-.3 0-.4 .1-.4 0-.3 .1-.3 0-.3 .1-.3 0-.3 0-.2 .1-.2 0-.2 .1-.2 0-.2 .1-.1 0-.1 0-.1 .1-.1 .1-.1 .1,0 0,.1 .1,.1 .1,.1 0,.2 .1,.1 0,.2 0,.2 .1,.2 0,.2 .1,.3 0,.3 .1,.3 0,.3 0,.4 .1,.3 0,.4 .1,.4 0,.5 0,.4 .1,.5 0,.5 .1,.5 0,.6 .1,.5 0,.6 0,.6 .1,.5 0,.6 .1,.6 0,.5 .1,.6 0,.4 0,.5 .1,.3 0,.3 .1,.3 0,.1 .1,0 0-.2 .1-.2 0-.3 .1-.3 0-.5 .1-.4 0-.5 0-.5 .1-.5 0-.5 .1-.4 0-.5 .1-.5 0-.5 0-.4 .1-.4 0-.4 .1-.4 0-.3 .1-.3 0-.3 0-.3 .1-.3 0-.2 .1-.2 0-.1 .1-.2 0-.1 0-.1 .1-.1 .1-.1 .1,0 0,.1 0,.1 .1,.1 0,.1 .1,.1 0,.2 .1,.2 0,.2 0,.3 .1,.3 0,.3 .1,.3 0,.3 .1,.4 0,.4 0,.5 .1,.4 0,.5 .1,.6 0,.5 .1,.6 0,.6 0,.6 .1,.6 0,.6 .1,.6 0,.6 .1,.6 0,.6 0,.5 .1,.5 0,.4 .1,.3 0,.2 .1,.1 0-.1 .1-.2 0-.3 .1-.4 0-.5 0-.5 .1-.5 0-.5 .1-.6 0-.5 .1-.5 0-.6 0-.5 .1-.4 0-.5 .1-.4 0-.4 .1-.4 0-.4 0-.3 .1-.3 0-.2 .1-.2 0-.2 .1-.2 0-.2 0-.1 .1,0 0-.1 .1,0 .1,0 0,.1 0,.1 .1,.1 0,.2 .1,.1 0,.3 .1,.2 0,.3 0,.3 .1,.3 0,.4 .1,.4 0,.4 .1,.5 0,.5 0,.5 .1,.6 0,.6 .1,.6 0,.6 .1,.7 0,.7 0,.6 .1,.7 0,.7 .1,.6 0,.5 .1,.5 0,.4 0,.3 .1,.2 .1-.1 0-.2 .1-.3 0-.4 0-.5 .1-.5 0-.6 .1-.6 0-.5 .1-.6 0-.6 0-.6 .1-.5 0-.5 .1-.5 0-.4 .1-.4 0-.4 0-.4 .1-.3 0-.2 .1-.3 0-.2 .1-.1 0-.2 0-.1 .1,0 0-.1 .1,0 0,.1 .1,0 0,.1 0,.2 .1,.2 0,.2 .1,.2 0,.3 0,.3 .1,.4 0,.4 .1,.4 0,.5 .1,.5 0,.5 0,.6 .1,.6 0,.7 .1,.7 0,.7 .1,.7 0,.7 0,.7 .1,.7 0,.6 .1,.6 0,.5 .1,.4 0,.2 0,.1 .1,0 0-.2 .1-.3 0-.5 .1-.5 0-.6 0-.6 .1-.6 0-.7 .1-.6 0-.6 .1-.6 0-.6 0-.5 .1-.5 0-.4 .1-.4 0-.4 .1-.3 0-.3 0-.3 .1-.2 0-.2 .1-.1 0-.1 .1,0 .1,.1 0,.1 .1,.1 0,.2 .1,.2 0,.3 0,.3 .1,.4 0,.4 .1,.4 0,.5 .1,.6 0,.5 0,.6 .1,.7 0,.7 .1,.7 0,.8 .1,.7 0,.8 0,.7 .1,.7 0,.7 .1,.5 0,.4 .1,.3 0,.1 .1-.2 0-.4 .1-.5 0-.6 .1-.6 0-.7 0-.7 .1-.7 0-.6 .1-.7 0-.6 .1-.6 0-.5 0-.5 .1-.4 0-.4 .1-.3 0-.3 0-.3 .1-.2 0-.2 .1-.1 0-.1 .1,0 0,.1 .1,.1 0,.2 .1,.2 0,.2 .1,.3 0,.4 0,.4 .1,.4 0,.5 .1,.6 0,.6 .1,.6 0,.7 0,.7 .1,.8 0,.8 .1,.8 0,.7 .1,.8 0,.7 0,.6 .1,.5 0,.4 .1,.1 .1-.2 0-.4 0-.5 .1-.6 0-.6 .1-.7 0-.8 .1-.7 0-.7 0-.6 .1-.7 0-.5 .1-.6 0-.4 .1-.5 0-.3 0-.4 .1-.2 0-.3 .1-.1 0-.1 .1-.1 .1,.1 0,.2 .1,.2 0,.2 .1,.3 0,.4 0,.4 .1,.4 0,.6 .1,.5 0,.7 .1,.7 0,.7 0,.7 .1,.8 0,.9 .1,.8 0,.8 .1,.7 0,.7 0,.5 .1,.4 0,.2 .1-.1 0-.2 .1-.4 0-.5 0-.7 .1-.7 0-.7 .1-.8 0-.7 .1-.7 0-.7 0-.6 .1-.6 0-.5 .1-.4 0-.4 0-.4 .1-.3 0-.2 .1-.1 0-.2 .1,0 0,.1 .1,.1 0,.2 .1,.2 0,.3 .1,.4 0,.4 0,.5 .1,.6 0,.6 .1,.6 0,.8 .1,.7 0,.8 0,.9 .1,.8 0,.9 .1,.8 0,.7 .1,.6 0,.4 0,.2 .1,0 0-.2 .1-.5 0-.5 .1-.7 0-.8 0-.7 .1-.8 0-.8 .1-.7 0-.7 .1-.6 0-.5 0-.5 .1-.5 0-.3 .1-.3 0-.3 .1-.2 0-.1 .1,0 0,.1 .1,.2 0,.2 .1,.2 0,.4 0,.4 .1,.5 0,.5 .1,.7 0,.6 .1,.8 0,.8 0,.8 .1,.9 0,.9 .1,.8 0,.8 .1,.7 0,.6 0,.3 .1,.2 0-.2 .1-.3 0-.5 .1-.7 0-.8 0-.8 .1-.8 0-.8 .1-.7 0-.7 .1-.7 0-.5 0-.5 .1-.5 0-.3 .1-.3 0-.3 .1-.1 0-.1 .1,.1 0,.1 .1,.2 0,.3 0,.3 .1,.5 0,.5 .1,.5 0,.7 .1,.7 0,.8 0,.8 .1,.9 0,.9 .1,.9 0,.9 .1,.8 0,.6 0,.4 .1,.2 0-.1 .1-.3 0-.5 .1-.7 0-.7 0-.9 .1-.8 0-.8 .1-.8 0-.7 .1-.6 0-.6 0-.5 .1-.4 0-.4 .1-.2 0-.2 .1-.1 0-.1 0,.1 .1,.1 0,.2 .1,.3 0,.4 .1,.4 0,.6 0,.6 .1,.7 0,.7 .1,.8 0,.9 .1,.9 0,1 0,.9 .1,.8 0,.7 .1,.6 0,.2 .1,0 0-.3 0-.5 .1-.7 0-.8 .1-.8 0-.9 .1-.8 0-.8 0-.7 .1-.7 0-.5 .1-.5 0-.4 .1-.3 0-.3 0-.1 .1-.1 0,.1 .1,.1 0,.2 .1,.3 0,.3 0,.5 .1,.5 0,.7 .1,.7 0,.8 .1,.9 0,.9 0,1 .1,.9 0,.9 .1,.8 0,.6 .1,.4 0,.1 0-.2 .1-.4 0-.7 .1-.8 0-.9 0-.9 .1-.8 0-.8 .1-.8 0-.6 .1-.6 0-.5 0-.4 .1-.3 0-.2 .1-.1 .1,0 0,.2 0,.3 .1,.3 0,.5 .1,.5 0,.7 .1,.7 0,.8 0,.9 .1,.9 0,1 .1,1 0,.9 .1,.8 0,.6 0,.3 .1,0 0-.3 .1-.6 0-.7 .1-.9 0-.9 0-.9 .1-.9 0-.7 .1-.7 0-.7 .1-.5 0-.4 0-.3 .1-.2 0-.1 .1-.1 0,.1 .1,.2 0,.3 0,.4 .1,.5 0,.6 .1,.7 0,.8 .1,.8 0,1 0,1 .1,1 0,.9 .1,.9 0,.6 .1,.4 0-.3 .1-.5 0-.8 .1-.8 0-1 .1-.9 0-.8 0-.8 .1-.7 0-.6 .1-.5 0-.4 .1-.3 0-.2 0-.1 .1,.1 0,.1 .1,.3 0,.4 .1,.5 0,.5 0,.7 .1,.8 0,.9 .1,1 0,1 .1,1 0,1 0,.8 .1,.6 0,.3 .1,0 0-.4 0-.6 .1-.9 0-.9 .1-.9 0-.9 .1-.9 0-.7 0-.7 .1-.5 0-.5 .1-.3 0-.2 .1-.1 0,.2 .1,.3 0,.3 .1,.5 0,.7 .1,.7 0,.8 0,1 .1,1 0,1 .1,1 0,1 .1,.7 0,.5 0,.1 .1-.3 0-.5 .1-.8 0-.9 .1-1 0-.9 0-.9 .1-.8 0-.7 .1-.5 0-.5 .1-.3 0-.2 0-.1 .1,.1 0,.1 .1,.3 0,.5 .1,.5 0,.7 0,.8 .1,.9 0,1 .1,1 0,1.1 .1,1 0,.8 0,.6 .1,.2 0-.2 .1-.5 0-.7 .1-.9 0-1 0-1 .1-.9 0-.8 .1-.7 0-.5 .1-.5 0-.3 0-.2 .1,0 0,.1 .1,.2 0,.4 .1,.4 0,.7 0,.7 .1,.9 0,1 .1,1 0,1.1 .1,1 0,.9 0,.6 .1,.3 .1-.5 0-.8 .1-.9 0-1 0-.9 .1-.9 0-.9 .1-.7 0-.5 0-.4 .1-.3 0-.2 .1,0 0,.2 .1,.2 0,.5 0,.5 .1,.7 0,.9 .1,.9 0,1.1 .1,1.1 0,1 0,1 .1,.7 0,.4 .1-.1 0-.4 .1-.7 0-1 0-1 .1-1 0-.9 .1-.8 0-.7 .1-.5 0-.5 0-.2 .1-.1 .1,.2 0,.4 .1,.5 0,.6 0,.8 .1,.9 0,1.1 .1,1 0,1.1 .1,1 0,.8 0,.5 .1,0 0-.3 .1-.7 0-.9 .1-1.1 0-1 0-.9 .1-.8 0-.7 .1-.6 0-.4 .1-.2 0-.1 0,.1 .1,.2 0,.4 .1,.6 0,.7 .1,.9 0,1 0,1.1 .1,1.1 0,1 .1,.9 0,.6 .1,.2 0-.2 0-.7 .1-.8 0-1.1 .1-1 0-.9 .1-.9 0-.7 0-.6 .1-.4 0-.2 .1-.1 0,.1 .1,.3 0,.4 0,.6 .1,.8 0,.9 .1,1.1 0,1.1 .1,1.1 0,1 0,.8 .1,.4 .1-.5 0-.8 0-1 .1-1 0-1 .1-1 0-.7 .1-.6 0-.5 0-.2 .1-.1 .1,.3 0,.5 .1,.6 0,.8 0,.9 .1,1.1 0,1.1 .1,1.1 0,1 .1,.7 0,.3 0-.1 .1-.6 0-.9 .1-1.1 0-1 .1-1 0-.9 0-.7 .1-.5 0-.3 .1-.2 .1,.2 0,.4 0,.6 .1,.8 0,.9 .1,1.1 0,1.1 .1,1.1 0,1 0,.7 .1,.3 0-.1 .1-.7 0-.9 .1-1 0-1.1 0-.9 .1-.9 0-.6 .1-.5 0-.3 .1-.1 0,.1 0,.3 .1,.4 0,.7 .1,.9 0,1 .1,1.1 0,1.1 0,1.1 .1,.8 0,.5 .1,0 0-.5 .1-.9 0-1 0-1.1 .1-1 0-.8 .1-.7 0-.5 .1-.4 0-.1 0,.1 .1,.3 0,.5 .1,.7 0,.9 .1,1.1 0,1.1 0,1.2 .1,1 0,.7 .1,.3 0-.2 .1-.6 0-1 0-1 .1-1.1 0-.9 .1-.8 0-.6 0-.4 .1-.2 .1,.3 0,.4 .1,.7 0,.8 0,1 .1,1.2 0,1.1 .1,1.1 0,.7 .1,.4 0-.2 0-.7 .1-.9 0-1.1 .1-1 0-1 .1-.7 0-.6 0-.4 .1-.1 0,.1 .1,.3 0,.5 .1,.7 0,.9 0,1.1 .1,1.2 0,1.1 .1,.9 0,.6 .1,0 0-.4 0-.8 .1-1 0-1.1 .1-1 0-.8 .1-.7 0-.4 0-.2 .1,0 0,.3 .1,.5 0,.7 .1,.9 0,1 0,1.2 .1,1.1 0,1 .1,.5 .1-.4 0-.9 0-1 .1-1.1 0-1 .1-.8 0-.6 .1-.3 0-.2 0,.1 .1,.4 0,.6 .1,.8 0,.9 .1,1.2 0,1.1 0,1.1 .1,.7 0,.3 .1-.3 0-.7 .1-1 0-1.1 0-1 .1-.9 0-.6 .1-.4 0-.2 .1,0 0,.3 0,.6 .1,.8 0,1 .1,1.1 0,1.2 .1,1 0,.7 0,.2 .1-.3 0-.7 .1-1 0-1.1 0-1 .1-.8 0-.6 .1-.4 0-.1 .1,.1 0,.4 0,.7 .1,.8 0,1.1 .1,1.1 0,1.2 .1,.9 0,.5 0-.1 .1-.6 0-.9 .1-1.1 0-1 .1-.9 0-.7 0-.4 .1-.2 0,.1 .1,.3 0,.6 .1,.8 0,1.1 0,1.1 .1,1.2 0,.9 .1,.5 0-.1 .1-.6 0-.9 0-1.1 .1-1 0-.9 .1-.6 0-.4 .1-.2 0,.2 0,.4 .1,.7 0,.9 .1,1 0,1.2 .1,1.1 0,.8 0,.2 .1-.2 0-.8 .1-1 0-1.1 .1-.9 0-.8 0-.5 .1-.3 .1,.3 0,.6 .1,.9 0,1 0,1.2 .1,1.1 0,.8 .1,.4 0-.1 .1-.7 0-1 0-1.1 .1-1 0-.8 .1-.5 0-.3 .1,.1 0,.3 0,.6 .1,.8 0,1.1 .1,1.1 0,1.1 .1,.8 0,.3 0-.3 .1-.7 0-1 .1-1.1 0-.9 .1-.8 0-.4 0-.2 .1,.2 0,.4 .1,.7 0,1 0,1.1 .1,1.1 0,1 .1,.5 .1-.6 0-.9 0-1.1 .1-1 0-.8 .1-.5 0-.3 .1,.1 0,.4 0,.6 .1,.9 0,1.1 .1,1.2 0,1 .1,.6 0-.6 .1-.9 0-1 .1-1 0-.8 .1-.6 0-.2 0,.1 .1,.4 0,.7 .1,.9 0,1.1 .1,1.2 0,.9 0,.5 .1-.2 0-.6 .1-1 0-1.1 .1-.9 0-.7 0-.4 .1-.1 0,.2 .1,.5 0,.8 .1,1.1 0,1.1" stroke="#00ffff"/>
</g>
<line x1="156.5" y1="38.5" x2="156.5" y2="172" stroke="#222" stroke-width="0.7" stroke-dasharray="2.5 1.7"/>
<line x1="190.2" y1="86" x2="190.2" y2="172" stroke="#666" stroke-width="1.1" stroke-dasharray="2 2.2"/>
<line x1="166" y1="29.3" x2="190.6" y2="41.5" stroke="#ff8000" stroke-width="1.6"/>
<line x1="197.1" y1="61.0" x2="268" y2="134" stroke="#ff8000" stroke-width="1.6"/>
<path d="M178.00,32.86 C179.44,29.50 180.88,29.98 182.00,31.90 S184.56,34.30 186.00,30.94" fill="none" stroke="#111" stroke-width="1.25" stroke-linecap="round"/>
<text x="189.70" y="35.40" class="r qq" font-size="14.5" font-style="italic">q</text>
<line x1="201.20" y1="26.20" x2="203.20" y2="26.20" stroke="#111" stroke-width="1.3"/>
<text x="205.10" y="28.30" class="s" font-size="9" font-weight="bold" fill="#111">2</text>
<path d="M230.00,94.36 C231.44,91.00 232.88,91.48 234.00,93.40 S236.56,95.80 238.00,92.44" fill="none" stroke="#111" stroke-width="1.25" stroke-linecap="round"/>
<text x="241.70" y="96.90" class="r qq" font-size="14.5" font-style="italic">q</text>
<line x1="253.20" y1="87.70" x2="255.20" y2="87.70" stroke="#111" stroke-width="1.3"/>
<text x="257.10" y="89.80" class="s" font-size="9" font-weight="bold" fill="#111">4</text>
<line x1="56.9" y1="71.80" x2="79.4" y2="71.80" stroke="#000000" stroke-width="1.6"/>
<text class="s lg" font-size="9.5" transform="translate(81.50,75.20) scale(1.07,1)">α = 0.0</text>
<line x1="56.9" y1="84.86" x2="79.4" y2="84.86" stroke="#ff0000" stroke-width="1.6"/>
<text class="s lg" font-size="9.5" transform="translate(81.50,88.26) scale(1.07,1)">α = 0.1</text>
<line x1="56.9" y1="97.92" x2="79.4" y2="97.92" stroke="#00ee00" stroke-width="1.6"/>
<text class="s lg" font-size="9.5" transform="translate(81.50,101.32) scale(1.07,1)">α = 0.3</text>
<line x1="56.9" y1="110.98" x2="79.4" y2="110.98" stroke="#0000dd" stroke-width="1.6"/>
<text class="s lg" font-size="9.5" transform="translate(81.50,114.38) scale(1.07,1)">α = 0.6</text>
<line x1="56.9" y1="124.04" x2="79.4" y2="124.04" stroke="#ff00ff" stroke-width="1.6"/>
<text class="s lg" font-size="9.5" transform="translate(81.50,127.44) scale(1.07,1)">α = 0.9</text>
<line x1="56.9" y1="137.10" x2="79.4" y2="137.10" stroke="#00ffff" stroke-width="1.6"/>
<text class="s lg" font-size="9.5" transform="translate(81.50,140.50) scale(1.07,1)">α = 1.0</text>
<text x="145.00" y="181.00" class="r" font-size="10.5" font-style="italic" style="stroke-width:0.32px">π / L<tspan font-size="7" dy="3">0</tspan></text>
<text x="181.80" y="181.00" class="r" font-size="10.5" font-style="italic" style="stroke-width:0.32px">π / a</text>
<text x="204.00" y="181.50" class="r" font-size="10.5" font-style="italic" style="stroke-width:0.32px">(= 2π/(L<tspan font-size="7" dy="3">0</tspan><tspan dy="-3">-h))</tspan></text>
<text x="141.00" y="214.70" class="r" font-size="12.5" ><tspan font-style="italic">q</tspan>, [nm<tspan font-size="7.5" dy="-5">-1</tspan><tspan dy="5">]</tspan></text>
<text x="9.50" y="217.00" class="r" font-size="13.6" >(a)</text>
<text class="r" font-size="12" font-style="italic" font-weight="bold" text-anchor="middle" transform="translate(18.8,72.5) rotate(-90)">I(q)/I(0)</text>
<line x1="424.6" y1="41.5" x2="424.6" y2="172" stroke="#222" stroke-width="0.7" stroke-dasharray="2.5 1.7"/>
<line x1="458.3" y1="98.2" x2="458.3" y2="172" stroke="#666" stroke-width="1.1" stroke-dasharray="2 2.2"/>
<line x1="490.1" y1="135.8" x2="490.1" y2="172" stroke="#666" stroke-width="1.1" stroke-dasharray="2 2.2"/>
<line x1="430.2" y1="24.2" x2="454.6" y2="36" stroke="#ff8000" stroke-width="1.6"/>
<line x1="491.1" y1="84.1" x2="535.9" y2="137.2" stroke="#ff8000" stroke-width="1.6"/>
<path d="M442.30,29.66 C443.74,26.30 445.18,26.78 446.30,28.70 S448.86,31.10 450.30,27.74" fill="none" stroke="#111" stroke-width="1.25" stroke-linecap="round"/>
<text x="454.00" y="32.20" class="r qq" font-size="14.5" font-style="italic">q</text>
<line x1="465.50" y1="23.00" x2="467.50" y2="23.00" stroke="#111" stroke-width="1.3"/>
<text x="469.40" y="25.10" class="s" font-size="9" font-weight="bold" fill="#111">2</text>
<path d="M499.00,91.36 C500.44,88.00 501.88,88.48 503.00,90.40 S505.56,92.80 507.00,89.44" fill="none" stroke="#111" stroke-width="1.25" stroke-linecap="round"/>
<text x="510.70" y="93.90" class="r qq" font-size="14.5" font-style="italic">q</text>
<line x1="522.20" y1="84.70" x2="524.20" y2="84.70" stroke="#111" stroke-width="1.3"/>
<text x="526.10" y="86.80" class="s" font-size="9" font-weight="bold" fill="#111">4</text>
<line x1="324.8" y1="71.60" x2="347.9" y2="71.60" stroke="#000000" stroke-width="1.6"/>
<text class="s lg" font-size="9.5" transform="translate(349.90,75.00) scale(1.07,1)">α = 0.0</text>
<line x1="324.8" y1="84.62" x2="347.9" y2="84.62" stroke="#ff0000" stroke-width="1.6"/>
<text class="s lg" font-size="9.5" transform="translate(349.90,88.02) scale(1.07,1)">α = 0.1</text>
<line x1="324.8" y1="97.64" x2="347.9" y2="97.64" stroke="#00ee00" stroke-width="1.6"/>
<text class="s lg" font-size="9.5" transform="translate(349.90,101.04) scale(1.07,1)">α = 0.3</text>
<line x1="324.8" y1="110.66" x2="347.9" y2="110.66" stroke="#0000dd" stroke-width="1.6"/>
<text class="s lg" font-size="9.5" transform="translate(349.90,114.06) scale(1.07,1)">α = 0.6</text>
<line x1="324.8" y1="123.68" x2="347.9" y2="123.68" stroke="#ff00ff" stroke-width="1.6"/>
<text class="s lg" font-size="9.5" transform="translate(349.90,127.08) scale(1.07,1)">α = 0.9</text>
<line x1="324.8" y1="136.70" x2="347.9" y2="136.70" stroke="#00ffff" stroke-width="1.6"/>
<text class="s lg" font-size="9.5" transform="translate(349.90,140.10) scale(1.07,1)">α = 1.0</text>
<text x="411.80" y="181.00" class="r" font-size="10.5" font-style="italic" style="stroke-width:0.32px">π / L<tspan font-size="7" dy="3">0</tspan></text>
<text x="445.60" y="181.00" class="r" font-size="10.5" font-style="italic" style="stroke-width:0.32px">π / a</text>
<text x="476.00" y="181.50" class="r" font-size="10.5" font-style="italic" style="stroke-width:0.32px">2π/(L<tspan font-size="7" dy="3">0</tspan><tspan dy="-3">-h)</tspan></text>
<text x="409.80" y="214.50" class="r" font-size="12.5" ><tspan font-style="italic">q</tspan>, [nm<tspan font-size="7.5" dy="-5">-1</tspan><tspan dy="5">]</tspan></text>
<text x="278.20" y="217.40" class="r" font-size="13.6" >(b)</text>
<text class="r" font-size="12" font-style="italic" font-weight="bold" text-anchor="middle" transform="translate(287.2,72.2) rotate(-90)">I(q)/I(0)</text>
<line x1="255.5" y1="244.5" x2="255.5" y2="384.3" stroke="#555" stroke-width="0.9" stroke-dasharray="2 1.8"/>
<line x1="278.0" y1="277.2" x2="278.0" y2="384.3" stroke="#666" stroke-width="1.1" stroke-dasharray="2 2.2"/>
<line x1="356.2" y1="348.8" x2="356.2" y2="383.7" stroke="#666" stroke-width="1.1" stroke-dasharray="2 2.2"/>
<line x1="259.8" y1="229.1" x2="364.8" y2="285" stroke="#ff8000" stroke-width="1.6"/>
<line x1="365.4" y1="292.1" x2="399.5" y2="326.6" stroke="#ff8000" stroke-width="1.6"/>
<path d="M310.00,253.36 C311.44,250.00 312.88,250.48 314.00,252.40 S316.56,254.80 318.00,251.44" fill="none" stroke="#111" stroke-width="1.25" stroke-linecap="round"/>
<text x="321.70" y="255.90" class="r qq" font-size="14.5" font-style="italic">q</text>
<line x1="333.20" y1="246.70" x2="335.20" y2="246.70" stroke="#111" stroke-width="1.3"/>
<text x="337.10" y="248.80" class="s" font-size="9" font-weight="bold" fill="#111">2</text>
<path d="M366.70,270.56 C368.14,267.20 369.58,267.68 370.70,269.60 S373.26,272.00 374.70,268.64" fill="none" stroke="#111" stroke-width="1.25" stroke-linecap="round"/>
<text x="378.40" y="273.10" class="r qq" font-size="14.5" font-style="italic">q</text>
<line x1="389.90" y1="263.90" x2="391.90" y2="263.90" stroke="#111" stroke-width="1.3"/>
<text x="393.80" y="266.00" class="s" font-size="9" font-weight="bold" fill="#111">4</text>
<line x1="383.2" y1="276" x2="383.2" y2="304" stroke="#333" stroke-width="0.7"/>
<path d="M381.2,303 L385.2,303 L383.2,309 Z" fill="#222"/>
<rect x="190" y="277.5" width="70" height="79" fill="#fff"/>
<line x1="192.7" y1="285.00" x2="215.9" y2="285.00" stroke="#000000" stroke-width="1.6"/>
<text class="s lg" font-size="9.5" transform="translate(217.80,288.40) scale(1.07,1)">α = 0.000</text>
<line x1="192.7" y1="298.02" x2="215.9" y2="298.02" stroke="#ff0000" stroke-width="1.6"/>
<text class="s lg" font-size="9.5" transform="translate(217.80,301.42) scale(1.07,1)">α = 0.500</text>
<line x1="192.7" y1="311.04" x2="215.9" y2="311.04" stroke="#00ee00" stroke-width="1.6"/>
<text class="s lg" font-size="9.5" transform="translate(217.80,314.44) scale(1.07,1)">α = 0.800</text>
<line x1="192.7" y1="324.06" x2="215.9" y2="324.06" stroke="#0000dd" stroke-width="1.6"/>
<text class="s lg" font-size="9.5" transform="translate(217.80,327.46) scale(1.07,1)">α = 0.980</text>
<line x1="192.7" y1="337.08" x2="215.9" y2="337.08" stroke="#ff00ff" stroke-width="1.6"/>
<text class="s lg" font-size="9.5" transform="translate(217.80,340.48) scale(1.07,1)">α = 0.999</text>
<line x1="192.7" y1="350.10" x2="215.9" y2="350.10" stroke="#00ffff" stroke-width="1.6"/>
<text class="s lg" font-size="9.5" transform="translate(217.80,353.50) scale(1.07,1)">α = 1.000</text>
<text x="243.70" y="393.50" class="r" font-size="10.5" font-style="italic" style="stroke-width:0.32px">π / L<tspan font-size="7" dy="3">0</tspan></text>
<text x="274.40" y="393.50" class="r" font-size="10.5" font-style="italic" style="stroke-width:0.32px">π / a</text>
<text x="342.60" y="393.50" class="r" font-size="10.5" font-style="italic" style="stroke-width:0.32px">2π/(L<tspan font-size="7" dy="3">0</tspan><tspan dy="-3">-h)</tspan></text>
<text x="275.30" y="427.80" class="r" font-size="12.5" ><tspan font-style="italic">q</tspan>, [nm<tspan font-size="7.5" dy="-5">-1</tspan><tspan dy="5">]</tspan></text>
<text x="143.20" y="430.30" class="r" font-size="13.6" >(c)</text>
<text class="r" font-size="12" font-style="italic" font-weight="bold" text-anchor="middle" transform="translate(155.5,285.3) rotate(-90)">I(q)/I(0)</text>
</svg>
</body></html>
